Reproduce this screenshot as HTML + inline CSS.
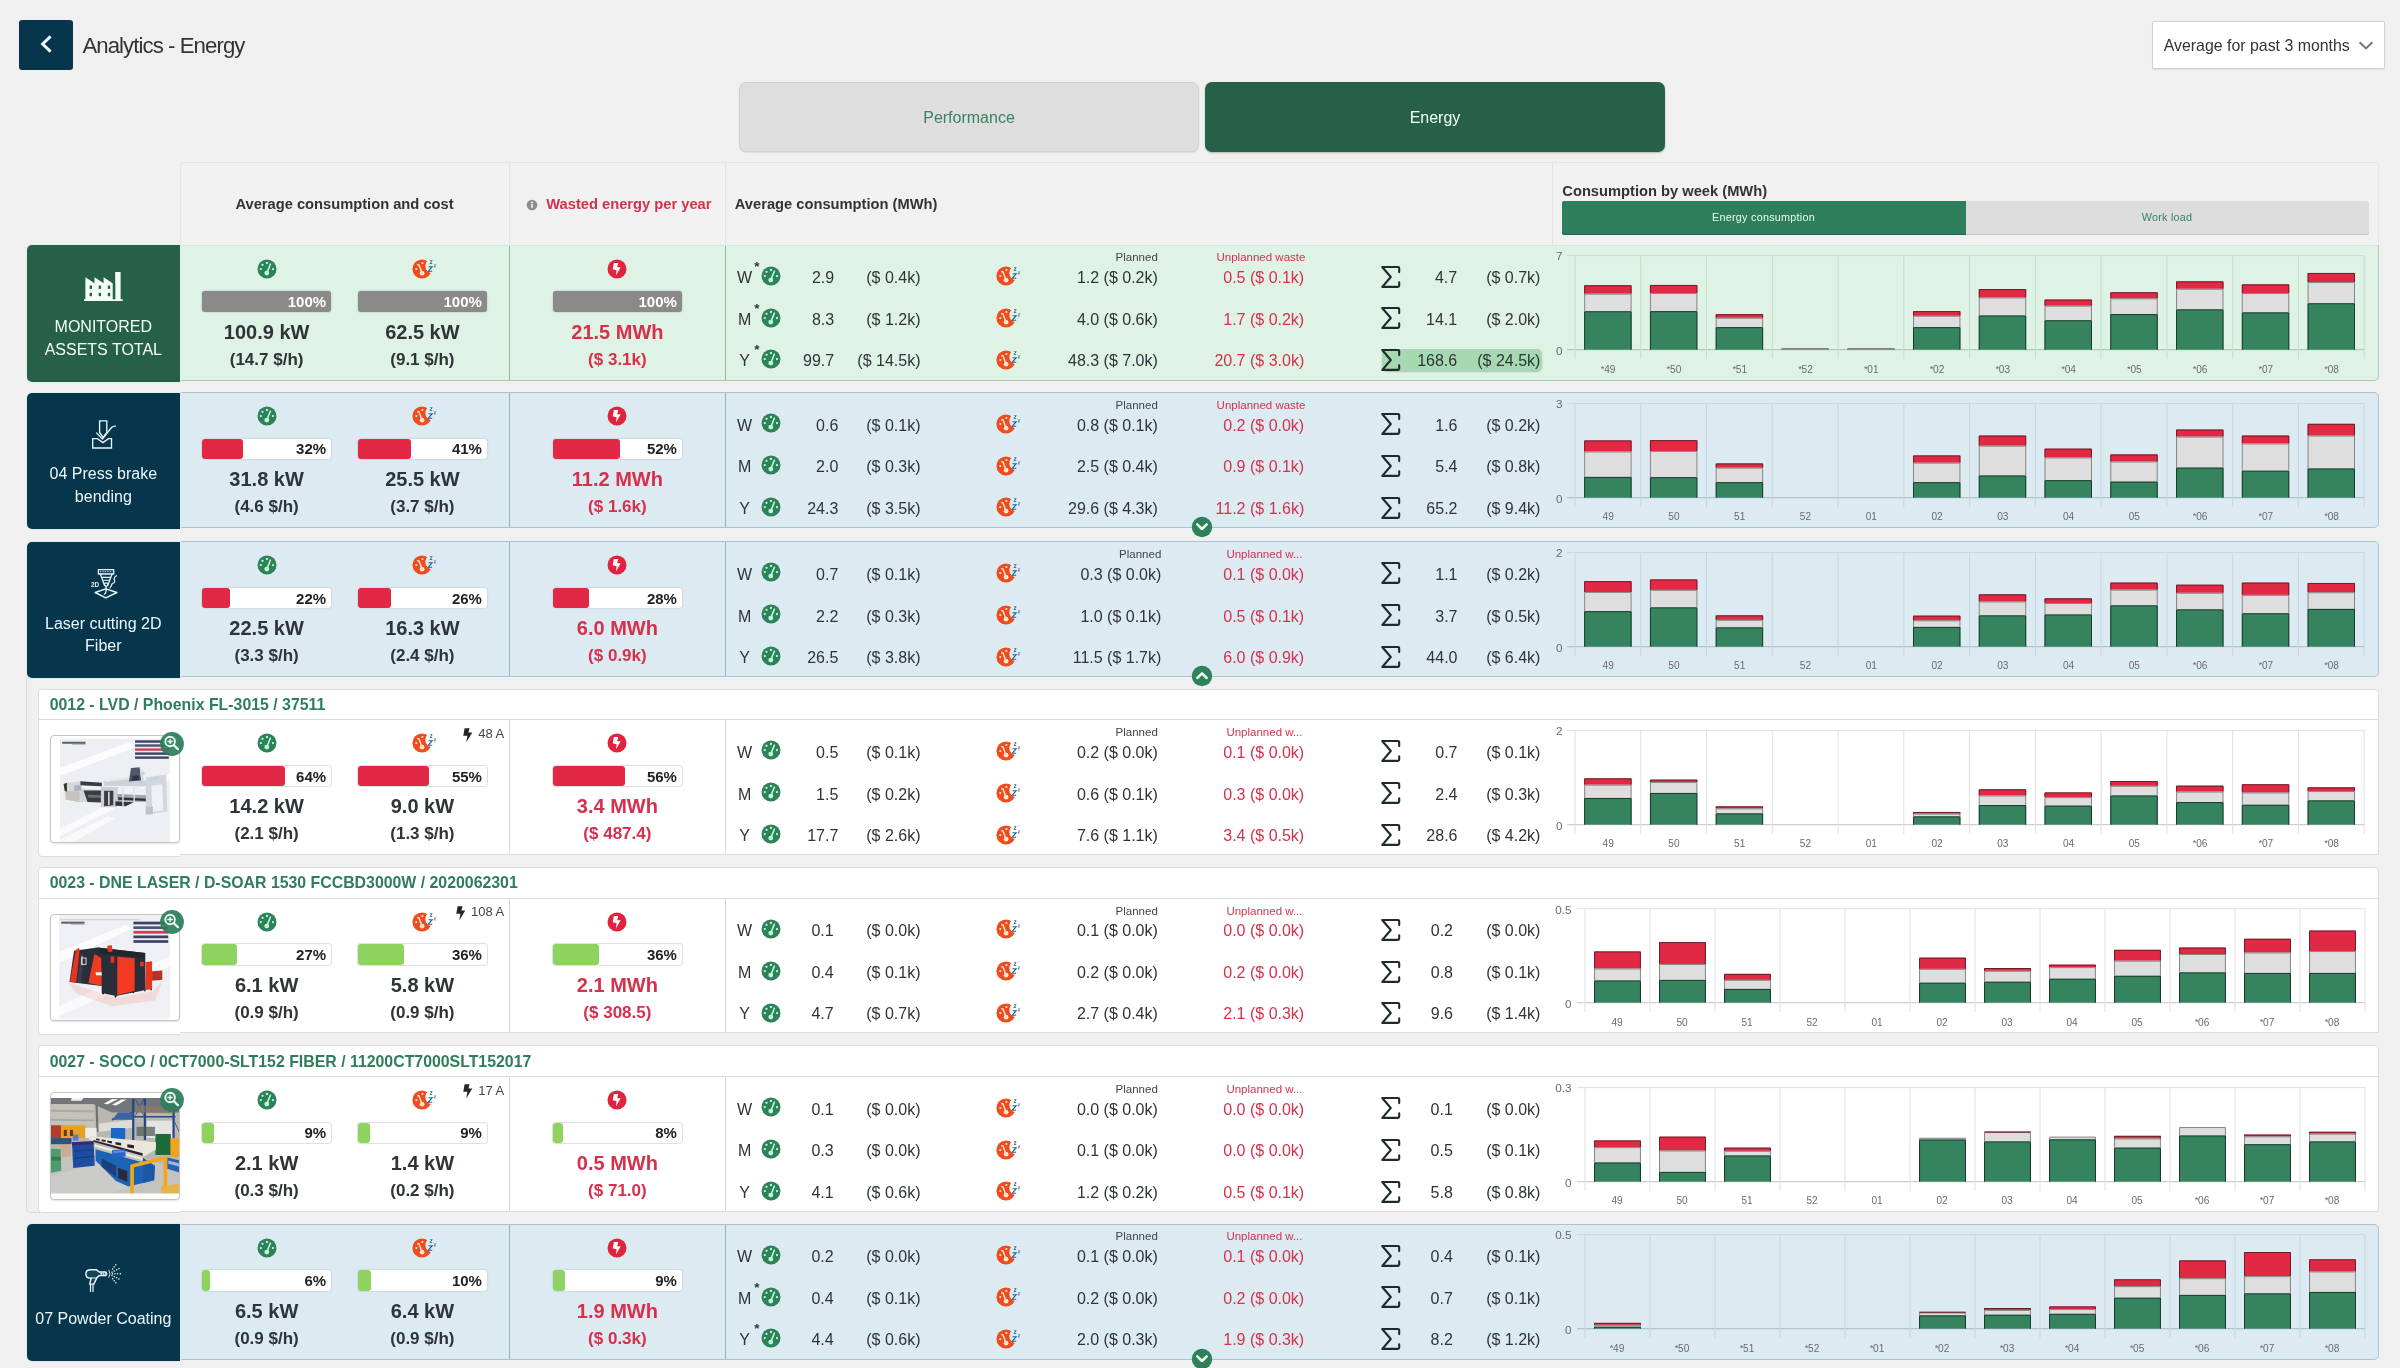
<!DOCTYPE html><html><head><meta charset="utf-8"><title>Analytics - Energy</title><style>html,body{margin:0;padding:0}body{width:2400px;height:1368px;overflow:hidden;background:#f0f0f0;font-family:"Liberation Sans", sans-serif;position:relative}.a{position:absolute}.t{position:absolute;white-space:nowrap}.st{font-size:9.5px;position:relative;top:-1px;margin-right:-0.3px}#w{position:absolute;left:0;top:0;width:2400px;height:1368px;will-change:transform;filter:blur(0.3px)}</style></head><body><div id="w">
<div class="a" style="left:19.40px;top:20.40px;width:53.70px;height:49.70px;background:#07364c;border-radius:3px;"></div>
<svg class="a" style="left:38px;top:32.4px" width="18" height="24" viewBox="0 0 18 24"><path d="M12.6 4.4 L4.6 12 L12.6 19.6" fill="none" stroke="#f2fbff" stroke-width="2.9" stroke-linecap="butt" stroke-linejoin="miter"/></svg>
<div class="t" style="top:35px;font-size:22.2px;line-height:22.2px;color:#333;letter-spacing:-0.93px;left:82.40px;">Analytics - Energy</div>
<div class="a" style="left:2152.00px;top:21.00px;width:233.00px;height:48.00px;background:#fff;border:1px solid #d2d2d2;border-radius:2px;box-sizing:border-box;box-shadow:0 0.5px 1px rgba(0,0,0,.08);"></div>
<div class="t" style="top:38px;font-size:15.9px;line-height:15.9px;color:#333;left:2163.70px;">Average for past 3 months</div>
<svg class="a" style="left:2357px;top:39px" width="18" height="12" viewBox="0 0 18 12"><path d="M2.6 3.2 L9 9.4 L15.4 3.2" fill="none" stroke="#777" stroke-width="2.1"/></svg>
<div class="a" style="left:739.00px;top:81.80px;width:460.30px;height:70.20px;background:#dedede;border:1px solid #cfcfcf;border-radius:7px;box-sizing:border-box;box-shadow:0 1px 1px rgba(0,0,0,.08);"></div>
<div class="t" style="top:110px;font-size:16px;line-height:16px;color:#3b8263;left:569.00px;width:800px;text-align:center;">Performance</div>
<div class="a" style="left:1205.00px;top:81.80px;width:460.30px;height:70.20px;background:#266048;border-radius:7px;box-shadow:0 1px 2px rgba(0,0,0,.25);"></div>
<div class="t" style="top:110px;font-size:16px;line-height:16px;color:#f4fff8;left:1035.00px;width:800px;text-align:center;">Energy</div>
<div class="a" style="left:180.30px;top:161.80px;width:2198.30px;height:83.00px;background:#f1f1f1;border:1px solid #e5e5e5;border-bottom:none;border-radius:4px 4px 0 0;box-sizing:border-box;"></div>
<div class="a" style="left:509.00px;top:162.50px;width:1.00px;height:82.00px;background:#e2e2e2;"></div>
<div class="a" style="left:725.00px;top:162.50px;width:1.00px;height:82.00px;background:#e2e2e2;"></div>
<div class="a" style="left:1552.00px;top:162.50px;width:1.00px;height:82.00px;background:#e2e2e2;"></div>
<div class="t" style="top:197px;font-size:14.7px;line-height:14.7px;color:#333;font-weight:700;left:-55.50px;width:800px;text-align:center;">Average consumption and cost</div>
<svg class="a" style="left:526px;top:199px" width="12" height="12" viewBox="-6 -6 12 12"><circle r="5.3" fill="#8c8c94"/><rect x="-0.75" y="-1" width="1.5" height="3.7" fill="#fff"/><circle cx="0" cy="-2.6" r="0.9" fill="#fff"/></svg>
<div class="t" style="top:197px;font-size:14.7px;line-height:14.7px;color:#d7304c;font-weight:700;left:546.30px;">Wasted energy per year</div>
<div class="t" style="top:197px;font-size:14.7px;line-height:14.7px;color:#333;font-weight:700;left:734.80px;">Average consumption (MWh)</div>
<div class="t" style="top:184px;font-size:14.7px;line-height:14.7px;color:#333;font-weight:700;left:1562.30px;">Consumption by week (MWh)</div>
<div class="a" style="left:1562.00px;top:201.20px;width:806.70px;height:33.30px;background:#dddddd;border-radius:2px;box-shadow:0 1px 0 #c6c6c6;"></div>
<div class="a" style="left:1562.00px;top:201.20px;width:404.00px;height:33.30px;background:#2e7d5b;border-radius:2px 0 0 2px;box-shadow:0 1px 0 #24664a;"></div>
<div class="t" style="top:212px;font-size:10.8px;line-height:10.8px;color:#e8fff2;letter-spacing:0.25px;left:1363.50px;width:800px;text-align:center;">Energy consumption</div>
<div class="t" style="top:212px;font-size:10.8px;line-height:10.8px;color:#3b8263;letter-spacing:0.25px;left:1767.00px;width:800px;text-align:center;">Work load</div>
<div class="a" style="left:179.50px;top:245.00px;width:2199.20px;height:136.00px;background:#dff2e6;border:1px solid #a9cab6;border-left:none;border-radius:0 5px 5px 0;box-sizing:border-box;border-top-color:#d3e9da;border-radius:0 0 5px 0;"></div>
<div class="a" style="left:509.00px;top:246.00px;width:1.00px;height:134.00px;background:#8fb59f;"></div>
<div class="a" style="left:725.00px;top:246.00px;width:1.00px;height:134.00px;background:#8fb59f;"></div>
<div class="a" style="left:26.60px;top:245.30px;width:153.40px;height:136.30px;background:#266048;border-radius:5px 0 0 5px;box-shadow:0 0 0 1px rgba(223,242,230,.9);"></div>
<div class="t" style="top:319px;font-size:16px;line-height:16px;color:#f1fff6;left:-296.70px;width:800px;text-align:center;">MONITORED</div>
<div class="t" style="top:342px;font-size:16px;line-height:16px;color:#f1fff6;left:-296.70px;width:800px;text-align:center;">ASSETS TOTAL</div>
<svg class="a" style="left:84.00px;top:271.60px" width="38.6" height="29.5" viewBox="0 0 386 295"><g fill="#f4fff8"><path d="M14 280 V52 L105 112 V52 L196 112 V52 L287 112 V280 Z"/><rect x="312" y="0" width="54" height="280"/><rect x="0" y="272" width="386" height="23"/></g><g fill="#266048"><rect x="56" y="135" width="24" height="34"/><rect x="147" y="135" width="24" height="34"/><rect x="238" y="135" width="24" height="34"/><rect x="56" y="208" width="24" height="34"/><rect x="147" y="208" width="24" height="34"/><rect x="238" y="208" width="24" height="34"/><rect x="296" y="112" width="16" height="160"/></g></svg>
<svg class="a" style="left:256.60px;top:258.70px" width="20" height="20" viewBox="-10 -10 20 20"><circle r="9.5" fill="#2f8159"/><g fill="#b9fbd9"><circle cx="-4.5" cy="-4.2" r="1.15"/><circle cx="-6.2" cy="0.1" r="1.15"/><circle cx="0" cy="-6" r="1.15"/><circle cx="6" cy="0.1" r="1.15"/><circle cx="-0.2" cy="4.1" r="2.45"/></g><path d="M-0.2 4.1 L3.4 -4.9" stroke="#b9fbd9" stroke-width="1.5" stroke-linecap="round"/></svg>
<div class="a" style="left:202.10px;top:291.30px;width:129.00px;height:20.30px;background:#8a8a8a;border-radius:3px;box-shadow:0 0 2px rgba(0,0,0,.25);"></div>
<div class="t" style="top:294px;font-size:15px;line-height:15px;color:#fff;font-weight:700;right:2073.90px;">100%</div>
<div class="t" style="top:322px;font-size:20px;line-height:20px;color:#2f3438;font-weight:700;left:-133.40px;width:800px;text-align:center;">100.9 kW</div>
<div class="t" style="top:351px;font-size:17px;line-height:17px;color:#2f3438;font-weight:700;left:-133.40px;width:800px;text-align:center;">(14.7 $/h)</div>
<svg class="a" style="left:411.80px;top:257.70px" width="26" height="22" viewBox="-10 -11 26 22"><defs><mask id="mz" maskUnits="userSpaceOnUse" x="-10" y="-11" width="26" height="22"><rect x="-10" y="-11" width="26" height="22" fill="#fff"/><circle cx="10.6" cy="-3" r="7.3" fill="#000"/></mask></defs><g mask="url(#mz)"><circle r="9.6" fill="#ef4b1c"/><g fill="#ffe3cf"><circle cx="0.4" cy="-6" r="1.1"/><circle cx="-5.7" cy="0.1" r="1.1"/><circle cx="-4" cy="-4.3" r="0.9"/><circle cx="0.1" cy="4.2" r="2.4"/></g><path d="M0.1 4.2 L-3.1 -4.3" stroke="#ffe3cf" stroke-width="1.5" stroke-linecap="round"/></g><g fill="none" stroke="#2a628a" stroke-linejoin="miter"><path d="M6.5 -2.3 H10.2 L6.3 2.2 H10.2" stroke-width="1.15"/><path d="M8.1 -8.3 H10.2 L8 -5.5 H10.2" stroke-width="0.85"/><path d="M12.2 -4.2 H13.8 L12.1 -2 H13.8" stroke-width="0.65"/></g></svg>
<div class="a" style="left:357.90px;top:291.30px;width:129.00px;height:20.30px;background:#8a8a8a;border-radius:3px;box-shadow:0 0 2px rgba(0,0,0,.25);"></div>
<div class="t" style="top:294px;font-size:15px;line-height:15px;color:#fff;font-weight:700;right:1918.10px;">100%</div>
<div class="t" style="top:322px;font-size:20px;line-height:20px;color:#2f3438;font-weight:700;left:22.40px;width:800px;text-align:center;">62.5 kW</div>
<div class="t" style="top:351px;font-size:17px;line-height:17px;color:#2f3438;font-weight:700;left:22.40px;width:800px;text-align:center;">(9.1 $/h)</div>
<svg class="a" style="left:607.40px;top:258.70px" width="20" height="20" viewBox="-10 -10 20 20"><circle r="9.5" fill="#e1233f"/><path d="M-3.1 -6 L1.2 -6 L0.2 -1.7 L3.7 -1.7 L-1.1 6.6 L-0.4 1.3 L-4.3 0.3 Z" fill="#fff"/></svg>
<div class="a" style="left:552.90px;top:291.30px;width:129.00px;height:20.30px;background:#8a8a8a;border-radius:3px;box-shadow:0 0 2px rgba(0,0,0,.25);"></div>
<div class="t" style="top:294px;font-size:15px;line-height:15px;color:#fff;font-weight:700;right:1723.10px;">100%</div>
<div class="t" style="top:322px;font-size:20px;line-height:20px;color:#d7304c;font-weight:700;left:217.40px;width:800px;text-align:center;">21.5 MWh</div>
<div class="t" style="top:351px;font-size:17px;line-height:17px;color:#d7304c;font-weight:700;left:217.40px;width:800px;text-align:center;">($ 3.1k)</div>
<div class="t" style="top:252px;font-size:11.5px;line-height:11.5px;color:#444;right:1242.20px;">Planned</div>
<div class="t" style="top:252px;font-size:11.5px;line-height:11.5px;color:#d7304c;left:1216.50px;">Unplanned waste</div>
<div class="t" style="top:270px;font-size:16px;line-height:16px;color:#2f3438;left:344.60px;width:800px;text-align:center;">W</div>
<div class="t" style="top:260px;font-size:13.5px;line-height:13.5px;color:#2f3438;font-weight:700;left:357.00px;width:800px;text-align:center;">*</div>
<svg class="a" style="left:761.20px;top:265.60px" width="20" height="20" viewBox="-10 -10 20 20"><circle r="9.5" fill="#2f8159"/><g fill="#b9fbd9"><circle cx="-4.5" cy="-4.2" r="1.15"/><circle cx="-6.2" cy="0.1" r="1.15"/><circle cx="0" cy="-6" r="1.15"/><circle cx="6" cy="0.1" r="1.15"/><circle cx="-0.2" cy="4.1" r="2.45"/></g><path d="M-0.2 4.1 L3.4 -4.9" stroke="#b9fbd9" stroke-width="1.5" stroke-linecap="round"/></svg>
<div class="t" style="top:270px;font-size:16px;line-height:16px;color:#2f3438;right:1565.80px;">2.9</div>
<div class="t" style="top:270px;font-size:16px;line-height:16px;color:#2f3438;right:1479.50px;">($ 0.4k)</div>
<svg class="a" style="left:996.30px;top:265.10px" width="26" height="22" viewBox="-10 -11 26 22"><defs><mask id="mz" maskUnits="userSpaceOnUse" x="-10" y="-11" width="26" height="22"><rect x="-10" y="-11" width="26" height="22" fill="#fff"/><circle cx="10.6" cy="-3" r="7.3" fill="#000"/></mask></defs><g mask="url(#mz)"><circle r="9.6" fill="#ef4b1c"/><g fill="#ffe3cf"><circle cx="0.4" cy="-6" r="1.1"/><circle cx="-5.7" cy="0.1" r="1.1"/><circle cx="-4" cy="-4.3" r="0.9"/><circle cx="0.1" cy="4.2" r="2.4"/></g><path d="M0.1 4.2 L-3.1 -4.3" stroke="#ffe3cf" stroke-width="1.5" stroke-linecap="round"/></g><g fill="none" stroke="#2a628a" stroke-linejoin="miter"><path d="M6.5 -2.3 H10.2 L6.3 2.2 H10.2" stroke-width="1.15"/><path d="M8.1 -8.3 H10.2 L8 -5.5 H10.2" stroke-width="0.85"/><path d="M12.2 -4.2 H13.8 L12.1 -2 H13.8" stroke-width="0.65"/></g></svg>
<div class="t" style="top:270px;font-size:16px;line-height:16px;color:#2f3438;right:1242.20px;">1.2 ($ 0.2k)</div>
<div class="t" style="top:270px;font-size:16px;line-height:16px;color:#d7304c;right:1095.80px;">0.5 ($ 0.1k)</div>
<svg class="a" style="left:1380.20px;top:264.50px" width="22" height="24" viewBox="-1 -1 22 24"><path d="M18.2 6.1 V2.4 Q18.2 1 16.8 1 H1.2 L9.8 11 L1.3 20.9 H16.8 Q18.2 20.9 18.2 19.5 V16.3" fill="none" stroke="#1f2a2e" stroke-width="2.1" stroke-linejoin="round" stroke-linecap="round"/></svg>
<div class="t" style="top:270px;font-size:16px;line-height:16px;color:#2f3438;right:942.80px;">4.7</div>
<div class="t" style="top:270px;font-size:16px;line-height:16px;color:#2f3438;right:859.60px;">($ 0.7k)</div>
<div class="t" style="top:312px;font-size:16px;line-height:16px;color:#2f3438;left:344.60px;width:800px;text-align:center;">M</div>
<div class="t" style="top:302px;font-size:13.5px;line-height:13.5px;color:#2f3438;font-weight:700;left:357.00px;width:800px;text-align:center;">*</div>
<svg class="a" style="left:761.20px;top:307.50px" width="20" height="20" viewBox="-10 -10 20 20"><circle r="9.5" fill="#2f8159"/><g fill="#b9fbd9"><circle cx="-4.5" cy="-4.2" r="1.15"/><circle cx="-6.2" cy="0.1" r="1.15"/><circle cx="0" cy="-6" r="1.15"/><circle cx="6" cy="0.1" r="1.15"/><circle cx="-0.2" cy="4.1" r="2.45"/></g><path d="M-0.2 4.1 L3.4 -4.9" stroke="#b9fbd9" stroke-width="1.5" stroke-linecap="round"/></svg>
<div class="t" style="top:312px;font-size:16px;line-height:16px;color:#2f3438;right:1565.80px;">8.3</div>
<div class="t" style="top:312px;font-size:16px;line-height:16px;color:#2f3438;right:1479.50px;">($ 1.2k)</div>
<svg class="a" style="left:996.30px;top:307.00px" width="26" height="22" viewBox="-10 -11 26 22"><defs><mask id="mz" maskUnits="userSpaceOnUse" x="-10" y="-11" width="26" height="22"><rect x="-10" y="-11" width="26" height="22" fill="#fff"/><circle cx="10.6" cy="-3" r="7.3" fill="#000"/></mask></defs><g mask="url(#mz)"><circle r="9.6" fill="#ef4b1c"/><g fill="#ffe3cf"><circle cx="0.4" cy="-6" r="1.1"/><circle cx="-5.7" cy="0.1" r="1.1"/><circle cx="-4" cy="-4.3" r="0.9"/><circle cx="0.1" cy="4.2" r="2.4"/></g><path d="M0.1 4.2 L-3.1 -4.3" stroke="#ffe3cf" stroke-width="1.5" stroke-linecap="round"/></g><g fill="none" stroke="#2a628a" stroke-linejoin="miter"><path d="M6.5 -2.3 H10.2 L6.3 2.2 H10.2" stroke-width="1.15"/><path d="M8.1 -8.3 H10.2 L8 -5.5 H10.2" stroke-width="0.85"/><path d="M12.2 -4.2 H13.8 L12.1 -2 H13.8" stroke-width="0.65"/></g></svg>
<div class="t" style="top:312px;font-size:16px;line-height:16px;color:#2f3438;right:1242.20px;">4.0 ($ 0.6k)</div>
<div class="t" style="top:312px;font-size:16px;line-height:16px;color:#d7304c;right:1095.80px;">1.7 ($ 0.2k)</div>
<svg class="a" style="left:1380.20px;top:306.40px" width="22" height="24" viewBox="-1 -1 22 24"><path d="M18.2 6.1 V2.4 Q18.2 1 16.8 1 H1.2 L9.8 11 L1.3 20.9 H16.8 Q18.2 20.9 18.2 19.5 V16.3" fill="none" stroke="#1f2a2e" stroke-width="2.1" stroke-linejoin="round" stroke-linecap="round"/></svg>
<div class="t" style="top:312px;font-size:16px;line-height:16px;color:#2f3438;right:942.80px;">14.1</div>
<div class="t" style="top:312px;font-size:16px;line-height:16px;color:#2f3438;right:859.60px;">($ 2.0k)</div>
<div class="t" style="top:353px;font-size:16px;line-height:16px;color:#2f3438;left:344.60px;width:800px;text-align:center;">Y</div>
<div class="t" style="top:343px;font-size:13.5px;line-height:13.5px;color:#2f3438;font-weight:700;left:357.00px;width:800px;text-align:center;">*</div>
<svg class="a" style="left:761.20px;top:349.40px" width="20" height="20" viewBox="-10 -10 20 20"><circle r="9.5" fill="#2f8159"/><g fill="#b9fbd9"><circle cx="-4.5" cy="-4.2" r="1.15"/><circle cx="-6.2" cy="0.1" r="1.15"/><circle cx="0" cy="-6" r="1.15"/><circle cx="6" cy="0.1" r="1.15"/><circle cx="-0.2" cy="4.1" r="2.45"/></g><path d="M-0.2 4.1 L3.4 -4.9" stroke="#b9fbd9" stroke-width="1.5" stroke-linecap="round"/></svg>
<div class="t" style="top:353px;font-size:16px;line-height:16px;color:#2f3438;right:1565.80px;">99.7</div>
<div class="t" style="top:353px;font-size:16px;line-height:16px;color:#2f3438;right:1479.50px;">($ 14.5k)</div>
<svg class="a" style="left:996.30px;top:348.90px" width="26" height="22" viewBox="-10 -11 26 22"><defs><mask id="mz" maskUnits="userSpaceOnUse" x="-10" y="-11" width="26" height="22"><rect x="-10" y="-11" width="26" height="22" fill="#fff"/><circle cx="10.6" cy="-3" r="7.3" fill="#000"/></mask></defs><g mask="url(#mz)"><circle r="9.6" fill="#ef4b1c"/><g fill="#ffe3cf"><circle cx="0.4" cy="-6" r="1.1"/><circle cx="-5.7" cy="0.1" r="1.1"/><circle cx="-4" cy="-4.3" r="0.9"/><circle cx="0.1" cy="4.2" r="2.4"/></g><path d="M0.1 4.2 L-3.1 -4.3" stroke="#ffe3cf" stroke-width="1.5" stroke-linecap="round"/></g><g fill="none" stroke="#2a628a" stroke-linejoin="miter"><path d="M6.5 -2.3 H10.2 L6.3 2.2 H10.2" stroke-width="1.15"/><path d="M8.1 -8.3 H10.2 L8 -5.5 H10.2" stroke-width="0.85"/><path d="M12.2 -4.2 H13.8 L12.1 -2 H13.8" stroke-width="0.65"/></g></svg>
<div class="t" style="top:353px;font-size:16px;line-height:16px;color:#2f3438;right:1242.20px;">48.3 ($ 7.0k)</div>
<div class="t" style="top:353px;font-size:16px;line-height:16px;color:#d7304c;right:1095.80px;">20.7 ($ 3.0k)</div>
<div class="a" style="left:1381.50px;top:349.00px;width:160.50px;height:22.00px;background:#a6d9b1;border-radius:5px;box-shadow:0 1px 1.5px rgba(0,0,0,.22);"></div>
<svg class="a" style="left:1380.20px;top:348.30px" width="22" height="24" viewBox="-1 -1 22 24"><path d="M18.2 6.1 V2.4 Q18.2 1 16.8 1 H1.2 L9.8 11 L1.3 20.9 H16.8 Q18.2 20.9 18.2 19.5 V16.3" fill="none" stroke="#1f2a2e" stroke-width="2.1" stroke-linejoin="round" stroke-linecap="round"/></svg>
<div class="t" style="top:353px;font-size:16px;line-height:16px;color:#2f3438;right:942.80px;">168.6</div>
<div class="t" style="top:353px;font-size:16px;line-height:16px;color:#2f3438;right:859.60px;">($ 24.5k)</div>
<div class="t" style="top:250px;font-size:11.7px;line-height:11.7px;color:#6b6b6b;right:837.60px;">7</div>
<div class="t" style="top:345px;font-size:11.7px;line-height:11.7px;color:#6b6b6b;right:837.60px;">0</div>
<svg class="a" style="left:1565.30px;top:245.30px" width="801.20" height="136" viewBox="1565.30 245.30 801.20 136" shape-rendering="auto"><path d="M1567.30 255.90 H2364.50" stroke="#c6dccd" stroke-width="1" fill="none"/><path d="M1567.30 350.00 H2364.50" stroke="#a6c0b0" stroke-width="1" fill="none"/><path d="M1575.30 255.90 V359.30M1641.07 255.90 V359.30M1706.83 255.90 V359.30M1772.60 255.90 V359.30M1838.37 255.90 V359.30M1904.13 255.90 V359.30M1969.90 255.90 V359.30M2035.67 255.90 V359.30M2101.43 255.90 V359.30M2167.20 255.90 V359.30M2232.97 255.90 V359.30M2298.73 255.90 V359.30M2364.50 255.90 V359.30" stroke="#c6dccd" stroke-width="1" fill="none"/><rect x="1584.51" y="311.60" width="47.35" height="38.40" fill="#35845f"/><rect x="1584.51" y="294.00" width="47.35" height="17.60" fill="#dedede"/><rect x="1584.51" y="285.60" width="47.35" height="8.40" fill="#e22944"/><path d="M1584.96 350.00 V312.05 H1631.41 V350.00" fill="none" stroke="#1a3a2d" stroke-width="1"/><path d="M1584.96 311.60 V294.45 H1631.41 V311.60" fill="none" stroke="#878787" stroke-width="1"/><path d="M1584.96 294.00 V286.05 H1631.41 V294.00" fill="none" stroke="#6b1e2a" stroke-width="1"/><rect x="1650.27" y="311.50" width="47.35" height="38.50" fill="#35845f"/><rect x="1650.27" y="293.30" width="47.35" height="18.20" fill="#dedede"/><rect x="1650.27" y="285.30" width="47.35" height="8.00" fill="#e22944"/><path d="M1650.72 350.00 V311.95 H1697.18 V350.00" fill="none" stroke="#1a3a2d" stroke-width="1"/><path d="M1650.72 311.50 V293.75 H1697.18 V311.50" fill="none" stroke="#878787" stroke-width="1"/><path d="M1650.72 293.30 V285.75 H1697.18 V293.30" fill="none" stroke="#6b1e2a" stroke-width="1"/><rect x="1716.04" y="327.50" width="47.35" height="22.50" fill="#35845f"/><rect x="1716.04" y="318.10" width="47.35" height="9.40" fill="#dedede"/><rect x="1716.04" y="314.50" width="47.35" height="3.60" fill="#e22944"/><path d="M1716.49 350.00 V327.95 H1762.94 V350.00" fill="none" stroke="#1a3a2d" stroke-width="1"/><path d="M1716.49 327.50 V318.55 H1762.94 V327.50" fill="none" stroke="#878787" stroke-width="1"/><path d="M1716.49 318.10 V314.95 H1762.94 V318.10" fill="none" stroke="#6b1e2a" stroke-width="1"/><rect x="1781.81" y="348.70" width="47.35" height="1.30" fill="#8a8a8a"/><path d="M1782.26 350.00 V349.15 H1828.71 V350.00" fill="none" stroke="#6e6e6e" stroke-width="1"/><rect x="1847.57" y="348.70" width="47.35" height="1.30" fill="#8a8a8a"/><path d="M1848.02 350.00 V349.15 H1894.48 V350.00" fill="none" stroke="#6e6e6e" stroke-width="1"/><rect x="1913.34" y="327.50" width="47.35" height="22.50" fill="#35845f"/><rect x="1913.34" y="316.10" width="47.35" height="11.40" fill="#dedede"/><rect x="1913.34" y="311.50" width="47.35" height="4.60" fill="#e22944"/><path d="M1913.79 350.00 V327.95 H1960.24 V350.00" fill="none" stroke="#1a3a2d" stroke-width="1"/><path d="M1913.79 327.50 V316.55 H1960.24 V327.50" fill="none" stroke="#878787" stroke-width="1"/><path d="M1913.79 316.10 V311.95 H1960.24 V316.10" fill="none" stroke="#6b1e2a" stroke-width="1"/><rect x="1979.11" y="315.80" width="47.35" height="34.20" fill="#35845f"/><rect x="1979.11" y="297.80" width="47.35" height="18.00" fill="#dedede"/><rect x="1979.11" y="289.40" width="47.35" height="8.40" fill="#e22944"/><path d="M1979.56 350.00 V316.25 H2026.01 V350.00" fill="none" stroke="#1a3a2d" stroke-width="1"/><path d="M1979.56 315.80 V298.25 H2026.01 V315.80" fill="none" stroke="#878787" stroke-width="1"/><path d="M1979.56 297.80 V289.85 H2026.01 V297.80" fill="none" stroke="#6b1e2a" stroke-width="1"/><rect x="2044.87" y="320.60" width="47.35" height="29.40" fill="#35845f"/><rect x="2044.87" y="306.00" width="47.35" height="14.60" fill="#dedede"/><rect x="2044.87" y="299.90" width="47.35" height="6.10" fill="#e22944"/><path d="M2045.32 350.00 V321.05 H2091.78 V350.00" fill="none" stroke="#1a3a2d" stroke-width="1"/><path d="M2045.32 320.60 V306.45 H2091.78 V320.60" fill="none" stroke="#878787" stroke-width="1"/><path d="M2045.32 306.00 V300.35 H2091.78 V306.00" fill="none" stroke="#6b1e2a" stroke-width="1"/><rect x="2110.64" y="314.40" width="47.35" height="35.60" fill="#35845f"/><rect x="2110.64" y="298.70" width="47.35" height="15.70" fill="#dedede"/><rect x="2110.64" y="292.60" width="47.35" height="6.10" fill="#e22944"/><path d="M2111.09 350.00 V314.85 H2157.54 V350.00" fill="none" stroke="#1a3a2d" stroke-width="1"/><path d="M2111.09 314.40 V299.15 H2157.54 V314.40" fill="none" stroke="#878787" stroke-width="1"/><path d="M2111.09 298.70 V293.05 H2157.54 V298.70" fill="none" stroke="#6b1e2a" stroke-width="1"/><rect x="2176.41" y="309.70" width="47.35" height="40.30" fill="#35845f"/><rect x="2176.41" y="289.10" width="47.35" height="20.60" fill="#dedede"/><rect x="2176.41" y="281.70" width="47.35" height="7.40" fill="#e22944"/><path d="M2176.86 350.00 V310.15 H2223.31 V350.00" fill="none" stroke="#1a3a2d" stroke-width="1"/><path d="M2176.86 309.70 V289.55 H2223.31 V309.70" fill="none" stroke="#878787" stroke-width="1"/><path d="M2176.86 289.10 V282.15 H2223.31 V289.10" fill="none" stroke="#6b1e2a" stroke-width="1"/><rect x="2242.17" y="312.70" width="47.35" height="37.30" fill="#35845f"/><rect x="2242.17" y="293.40" width="47.35" height="19.30" fill="#dedede"/><rect x="2242.17" y="284.70" width="47.35" height="8.70" fill="#e22944"/><path d="M2242.62 350.00 V313.15 H2289.08 V350.00" fill="none" stroke="#1a3a2d" stroke-width="1"/><path d="M2242.62 312.70 V293.85 H2289.08 V312.70" fill="none" stroke="#878787" stroke-width="1"/><path d="M2242.62 293.40 V285.15 H2289.08 V293.40" fill="none" stroke="#6b1e2a" stroke-width="1"/><rect x="2307.94" y="303.60" width="47.35" height="46.40" fill="#35845f"/><rect x="2307.94" y="282.40" width="47.35" height="21.20" fill="#dedede"/><rect x="2307.94" y="273.30" width="47.35" height="9.10" fill="#e22944"/><path d="M2308.39 350.00 V304.05 H2354.84 V350.00" fill="none" stroke="#1a3a2d" stroke-width="1"/><path d="M2308.39 303.60 V282.85 H2354.84 V303.60" fill="none" stroke="#878787" stroke-width="1"/><path d="M2308.39 282.40 V273.75 H2354.84 V282.40" fill="none" stroke="#6b1e2a" stroke-width="1"/></svg>
<div class="t" style="top:365px;font-size:10.1px;line-height:10.1px;color:#6b6b6b;left:1208.18px;width:800px;text-align:center;"><span class="st">*</span>49</div>
<div class="t" style="top:365px;font-size:10.1px;line-height:10.1px;color:#6b6b6b;left:1273.95px;width:800px;text-align:center;"><span class="st">*</span>50</div>
<div class="t" style="top:365px;font-size:10.1px;line-height:10.1px;color:#6b6b6b;left:1339.72px;width:800px;text-align:center;"><span class="st">*</span>51</div>
<div class="t" style="top:365px;font-size:10.1px;line-height:10.1px;color:#6b6b6b;left:1405.48px;width:800px;text-align:center;"><span class="st">*</span>52</div>
<div class="t" style="top:365px;font-size:10.1px;line-height:10.1px;color:#6b6b6b;left:1471.25px;width:800px;text-align:center;"><span class="st">*</span>01</div>
<div class="t" style="top:365px;font-size:10.1px;line-height:10.1px;color:#6b6b6b;left:1537.02px;width:800px;text-align:center;"><span class="st">*</span>02</div>
<div class="t" style="top:365px;font-size:10.1px;line-height:10.1px;color:#6b6b6b;left:1602.78px;width:800px;text-align:center;"><span class="st">*</span>03</div>
<div class="t" style="top:365px;font-size:10.1px;line-height:10.1px;color:#6b6b6b;left:1668.55px;width:800px;text-align:center;"><span class="st">*</span>04</div>
<div class="t" style="top:365px;font-size:10.1px;line-height:10.1px;color:#6b6b6b;left:1734.32px;width:800px;text-align:center;"><span class="st">*</span>05</div>
<div class="t" style="top:365px;font-size:10.1px;line-height:10.1px;color:#6b6b6b;left:1800.08px;width:800px;text-align:center;"><span class="st">*</span>06</div>
<div class="t" style="top:365px;font-size:10.1px;line-height:10.1px;color:#6b6b6b;left:1865.85px;width:800px;text-align:center;"><span class="st">*</span>07</div>
<div class="t" style="top:365px;font-size:10.1px;line-height:10.1px;color:#6b6b6b;left:1931.62px;width:800px;text-align:center;"><span class="st">*</span>08</div>
<div class="a" style="left:179.50px;top:392.00px;width:2199.20px;height:136.00px;background:#dceaf2;border:1px solid #aec3cf;border-left:none;border-radius:0 5px 5px 0;box-sizing:border-box;"></div>
<div class="a" style="left:509.00px;top:393.00px;width:1.00px;height:134.00px;background:#9fb4c1;"></div>
<div class="a" style="left:725.00px;top:393.00px;width:1.00px;height:134.00px;background:#9fb4c1;"></div>
<div class="a" style="left:26.60px;top:392.80px;width:153.40px;height:136.30px;background:#07364c;border-radius:5px 0 0 5px;box-shadow:0 0 0 1px rgba(220,234,242,.9);"></div>
<div class="t" style="top:466px;font-size:16px;line-height:16px;color:#ebf7fc;left:-296.70px;width:800px;text-align:center;">04 Press brake</div>
<div class="t" style="top:489px;font-size:16px;line-height:16px;color:#ebf7fc;left:-296.70px;width:800px;text-align:center;">bending</div>
<svg class="a" style="left:91.60px;top:420.10px" width="26" height="30" viewBox="0 0 26 30"><g fill="none" stroke="#e8f6fb" stroke-width="1.35" stroke-linejoin="miter"><path d="M7.6 0.8 H14.8 V12.5 L11.2 17.5 L7.6 12.5 Z"/><path d="M0.7 18.6 H5.4 L10.9 22.6 L16.4 18.6 H19.5 V28 H0.7 Z"/><path d="M4.3 12.6 L10.4 18.9 L19.3 7.8 Q21 5.9 23.9 6.2"/></g></svg>
<svg class="a" style="left:256.60px;top:406.20px" width="20" height="20" viewBox="-10 -10 20 20"><circle r="9.5" fill="#2f8159"/><g fill="#b9fbd9"><circle cx="-4.5" cy="-4.2" r="1.15"/><circle cx="-6.2" cy="0.1" r="1.15"/><circle cx="0" cy="-6" r="1.15"/><circle cx="6" cy="0.1" r="1.15"/><circle cx="-0.2" cy="4.1" r="2.45"/></g><path d="M-0.2 4.1 L3.4 -4.9" stroke="#b9fbd9" stroke-width="1.5" stroke-linecap="round"/></svg>
<div class="a" style="left:202.10px;top:438.80px;width:129.00px;height:20.30px;background:#fff;border-radius:3px;box-shadow:0 0 2px rgba(0,0,0,.22);"></div>
<div class="a" style="left:202.10px;top:438.80px;width:41.28px;height:20.30px;background:#e32845;border-radius:3px;"></div>
<div class="t" style="top:441px;font-size:15px;line-height:15px;color:#222;font-weight:700;right:2073.90px;">32%</div>
<div class="t" style="top:469px;font-size:20px;line-height:20px;color:#2f3438;font-weight:700;left:-133.40px;width:800px;text-align:center;">31.8 kW</div>
<div class="t" style="top:498px;font-size:17px;line-height:17px;color:#2f3438;font-weight:700;left:-133.40px;width:800px;text-align:center;">(4.6 $/h)</div>
<svg class="a" style="left:411.80px;top:405.20px" width="26" height="22" viewBox="-10 -11 26 22"><defs><mask id="mz" maskUnits="userSpaceOnUse" x="-10" y="-11" width="26" height="22"><rect x="-10" y="-11" width="26" height="22" fill="#fff"/><circle cx="10.6" cy="-3" r="7.3" fill="#000"/></mask></defs><g mask="url(#mz)"><circle r="9.6" fill="#ef4b1c"/><g fill="#ffe3cf"><circle cx="0.4" cy="-6" r="1.1"/><circle cx="-5.7" cy="0.1" r="1.1"/><circle cx="-4" cy="-4.3" r="0.9"/><circle cx="0.1" cy="4.2" r="2.4"/></g><path d="M0.1 4.2 L-3.1 -4.3" stroke="#ffe3cf" stroke-width="1.5" stroke-linecap="round"/></g><g fill="none" stroke="#2a628a" stroke-linejoin="miter"><path d="M6.5 -2.3 H10.2 L6.3 2.2 H10.2" stroke-width="1.15"/><path d="M8.1 -8.3 H10.2 L8 -5.5 H10.2" stroke-width="0.85"/><path d="M12.2 -4.2 H13.8 L12.1 -2 H13.8" stroke-width="0.65"/></g></svg>
<div class="a" style="left:357.90px;top:438.80px;width:129.00px;height:20.30px;background:#fff;border-radius:3px;box-shadow:0 0 2px rgba(0,0,0,.22);"></div>
<div class="a" style="left:357.90px;top:438.80px;width:52.89px;height:20.30px;background:#e32845;border-radius:3px;"></div>
<div class="t" style="top:441px;font-size:15px;line-height:15px;color:#222;font-weight:700;right:1918.10px;">41%</div>
<div class="t" style="top:469px;font-size:20px;line-height:20px;color:#2f3438;font-weight:700;left:22.40px;width:800px;text-align:center;">25.5 kW</div>
<div class="t" style="top:498px;font-size:17px;line-height:17px;color:#2f3438;font-weight:700;left:22.40px;width:800px;text-align:center;">(3.7 $/h)</div>
<svg class="a" style="left:607.40px;top:406.20px" width="20" height="20" viewBox="-10 -10 20 20"><circle r="9.5" fill="#e1233f"/><path d="M-3.1 -6 L1.2 -6 L0.2 -1.7 L3.7 -1.7 L-1.1 6.6 L-0.4 1.3 L-4.3 0.3 Z" fill="#fff"/></svg>
<div class="a" style="left:552.90px;top:438.80px;width:129.00px;height:20.30px;background:#fff;border-radius:3px;box-shadow:0 0 2px rgba(0,0,0,.22);"></div>
<div class="a" style="left:552.90px;top:438.80px;width:67.08px;height:20.30px;background:#e32845;border-radius:3px;"></div>
<div class="t" style="top:441px;font-size:15px;line-height:15px;color:#222;font-weight:700;right:1723.10px;">52%</div>
<div class="t" style="top:469px;font-size:20px;line-height:20px;color:#d7304c;font-weight:700;left:217.40px;width:800px;text-align:center;">11.2 MWh</div>
<div class="t" style="top:498px;font-size:17px;line-height:17px;color:#d7304c;font-weight:700;left:217.40px;width:800px;text-align:center;">($ 1.6k)</div>
<div class="t" style="top:400px;font-size:11.5px;line-height:11.5px;color:#444;right:1242.20px;">Planned</div>
<div class="t" style="top:400px;font-size:11.5px;line-height:11.5px;color:#d7304c;left:1216.60px;">Unplanned waste</div>
<div class="t" style="top:418px;font-size:16px;line-height:16px;color:#2f3438;left:344.60px;width:800px;text-align:center;">W</div>
<svg class="a" style="left:761.20px;top:413.10px" width="20" height="20" viewBox="-10 -10 20 20"><circle r="9.5" fill="#2f8159"/><g fill="#b9fbd9"><circle cx="-4.5" cy="-4.2" r="1.15"/><circle cx="-6.2" cy="0.1" r="1.15"/><circle cx="0" cy="-6" r="1.15"/><circle cx="6" cy="0.1" r="1.15"/><circle cx="-0.2" cy="4.1" r="2.45"/></g><path d="M-0.2 4.1 L3.4 -4.9" stroke="#b9fbd9" stroke-width="1.5" stroke-linecap="round"/></svg>
<div class="t" style="top:418px;font-size:16px;line-height:16px;color:#2f3438;right:1561.70px;">0.6</div>
<div class="t" style="top:418px;font-size:16px;line-height:16px;color:#2f3438;right:1479.50px;">($ 0.1k)</div>
<svg class="a" style="left:996.30px;top:412.60px" width="26" height="22" viewBox="-10 -11 26 22"><defs><mask id="mz" maskUnits="userSpaceOnUse" x="-10" y="-11" width="26" height="22"><rect x="-10" y="-11" width="26" height="22" fill="#fff"/><circle cx="10.6" cy="-3" r="7.3" fill="#000"/></mask></defs><g mask="url(#mz)"><circle r="9.6" fill="#ef4b1c"/><g fill="#ffe3cf"><circle cx="0.4" cy="-6" r="1.1"/><circle cx="-5.7" cy="0.1" r="1.1"/><circle cx="-4" cy="-4.3" r="0.9"/><circle cx="0.1" cy="4.2" r="2.4"/></g><path d="M0.1 4.2 L-3.1 -4.3" stroke="#ffe3cf" stroke-width="1.5" stroke-linecap="round"/></g><g fill="none" stroke="#2a628a" stroke-linejoin="miter"><path d="M6.5 -2.3 H10.2 L6.3 2.2 H10.2" stroke-width="1.15"/><path d="M8.1 -8.3 H10.2 L8 -5.5 H10.2" stroke-width="0.85"/><path d="M12.2 -4.2 H13.8 L12.1 -2 H13.8" stroke-width="0.65"/></g></svg>
<div class="t" style="top:418px;font-size:16px;line-height:16px;color:#2f3438;right:1242.20px;">0.8 ($ 0.1k)</div>
<div class="t" style="top:418px;font-size:16px;line-height:16px;color:#d7304c;right:1095.80px;">0.2 ($ 0.0k)</div>
<svg class="a" style="left:1380.20px;top:412.00px" width="22" height="24" viewBox="-1 -1 22 24"><path d="M18.2 6.1 V2.4 Q18.2 1 16.8 1 H1.2 L9.8 11 L1.3 20.9 H16.8 Q18.2 20.9 18.2 19.5 V16.3" fill="none" stroke="#1f2a2e" stroke-width="2.1" stroke-linejoin="round" stroke-linecap="round"/></svg>
<div class="t" style="top:418px;font-size:16px;line-height:16px;color:#2f3438;right:942.50px;">1.6</div>
<div class="t" style="top:418px;font-size:16px;line-height:16px;color:#2f3438;right:859.60px;">($ 0.2k)</div>
<div class="t" style="top:459px;font-size:16px;line-height:16px;color:#2f3438;left:344.60px;width:800px;text-align:center;">M</div>
<svg class="a" style="left:761.20px;top:455.00px" width="20" height="20" viewBox="-10 -10 20 20"><circle r="9.5" fill="#2f8159"/><g fill="#b9fbd9"><circle cx="-4.5" cy="-4.2" r="1.15"/><circle cx="-6.2" cy="0.1" r="1.15"/><circle cx="0" cy="-6" r="1.15"/><circle cx="6" cy="0.1" r="1.15"/><circle cx="-0.2" cy="4.1" r="2.45"/></g><path d="M-0.2 4.1 L3.4 -4.9" stroke="#b9fbd9" stroke-width="1.5" stroke-linecap="round"/></svg>
<div class="t" style="top:459px;font-size:16px;line-height:16px;color:#2f3438;right:1561.70px;">2.0</div>
<div class="t" style="top:459px;font-size:16px;line-height:16px;color:#2f3438;right:1479.50px;">($ 0.3k)</div>
<svg class="a" style="left:996.30px;top:454.50px" width="26" height="22" viewBox="-10 -11 26 22"><defs><mask id="mz" maskUnits="userSpaceOnUse" x="-10" y="-11" width="26" height="22"><rect x="-10" y="-11" width="26" height="22" fill="#fff"/><circle cx="10.6" cy="-3" r="7.3" fill="#000"/></mask></defs><g mask="url(#mz)"><circle r="9.6" fill="#ef4b1c"/><g fill="#ffe3cf"><circle cx="0.4" cy="-6" r="1.1"/><circle cx="-5.7" cy="0.1" r="1.1"/><circle cx="-4" cy="-4.3" r="0.9"/><circle cx="0.1" cy="4.2" r="2.4"/></g><path d="M0.1 4.2 L-3.1 -4.3" stroke="#ffe3cf" stroke-width="1.5" stroke-linecap="round"/></g><g fill="none" stroke="#2a628a" stroke-linejoin="miter"><path d="M6.5 -2.3 H10.2 L6.3 2.2 H10.2" stroke-width="1.15"/><path d="M8.1 -8.3 H10.2 L8 -5.5 H10.2" stroke-width="0.85"/><path d="M12.2 -4.2 H13.8 L12.1 -2 H13.8" stroke-width="0.65"/></g></svg>
<div class="t" style="top:459px;font-size:16px;line-height:16px;color:#2f3438;right:1242.20px;">2.5 ($ 0.4k)</div>
<div class="t" style="top:459px;font-size:16px;line-height:16px;color:#d7304c;right:1095.80px;">0.9 ($ 0.1k)</div>
<svg class="a" style="left:1380.20px;top:453.90px" width="22" height="24" viewBox="-1 -1 22 24"><path d="M18.2 6.1 V2.4 Q18.2 1 16.8 1 H1.2 L9.8 11 L1.3 20.9 H16.8 Q18.2 20.9 18.2 19.5 V16.3" fill="none" stroke="#1f2a2e" stroke-width="2.1" stroke-linejoin="round" stroke-linecap="round"/></svg>
<div class="t" style="top:459px;font-size:16px;line-height:16px;color:#2f3438;right:942.50px;">5.4</div>
<div class="t" style="top:459px;font-size:16px;line-height:16px;color:#2f3438;right:859.60px;">($ 0.8k)</div>
<div class="t" style="top:501px;font-size:16px;line-height:16px;color:#2f3438;left:344.60px;width:800px;text-align:center;">Y</div>
<svg class="a" style="left:761.20px;top:496.90px" width="20" height="20" viewBox="-10 -10 20 20"><circle r="9.5" fill="#2f8159"/><g fill="#b9fbd9"><circle cx="-4.5" cy="-4.2" r="1.15"/><circle cx="-6.2" cy="0.1" r="1.15"/><circle cx="0" cy="-6" r="1.15"/><circle cx="6" cy="0.1" r="1.15"/><circle cx="-0.2" cy="4.1" r="2.45"/></g><path d="M-0.2 4.1 L3.4 -4.9" stroke="#b9fbd9" stroke-width="1.5" stroke-linecap="round"/></svg>
<div class="t" style="top:501px;font-size:16px;line-height:16px;color:#2f3438;right:1561.70px;">24.3</div>
<div class="t" style="top:501px;font-size:16px;line-height:16px;color:#2f3438;right:1479.50px;">($ 3.5k)</div>
<svg class="a" style="left:996.30px;top:496.40px" width="26" height="22" viewBox="-10 -11 26 22"><defs><mask id="mz" maskUnits="userSpaceOnUse" x="-10" y="-11" width="26" height="22"><rect x="-10" y="-11" width="26" height="22" fill="#fff"/><circle cx="10.6" cy="-3" r="7.3" fill="#000"/></mask></defs><g mask="url(#mz)"><circle r="9.6" fill="#ef4b1c"/><g fill="#ffe3cf"><circle cx="0.4" cy="-6" r="1.1"/><circle cx="-5.7" cy="0.1" r="1.1"/><circle cx="-4" cy="-4.3" r="0.9"/><circle cx="0.1" cy="4.2" r="2.4"/></g><path d="M0.1 4.2 L-3.1 -4.3" stroke="#ffe3cf" stroke-width="1.5" stroke-linecap="round"/></g><g fill="none" stroke="#2a628a" stroke-linejoin="miter"><path d="M6.5 -2.3 H10.2 L6.3 2.2 H10.2" stroke-width="1.15"/><path d="M8.1 -8.3 H10.2 L8 -5.5 H10.2" stroke-width="0.85"/><path d="M12.2 -4.2 H13.8 L12.1 -2 H13.8" stroke-width="0.65"/></g></svg>
<div class="t" style="top:501px;font-size:16px;line-height:16px;color:#2f3438;right:1242.20px;">29.6 ($ 4.3k)</div>
<div class="t" style="top:501px;font-size:16px;line-height:16px;color:#d7304c;right:1095.80px;">11.2 ($ 1.6k)</div>
<svg class="a" style="left:1380.20px;top:495.80px" width="22" height="24" viewBox="-1 -1 22 24"><path d="M18.2 6.1 V2.4 Q18.2 1 16.8 1 H1.2 L9.8 11 L1.3 20.9 H16.8 Q18.2 20.9 18.2 19.5 V16.3" fill="none" stroke="#1f2a2e" stroke-width="2.1" stroke-linejoin="round" stroke-linecap="round"/></svg>
<div class="t" style="top:501px;font-size:16px;line-height:16px;color:#2f3438;right:942.50px;">65.2</div>
<div class="t" style="top:501px;font-size:16px;line-height:16px;color:#2f3438;right:859.60px;">($ 9.4k)</div>
<div class="t" style="top:398px;font-size:11.7px;line-height:11.7px;color:#6b6b6b;right:837.60px;">3</div>
<div class="t" style="top:493px;font-size:11.7px;line-height:11.7px;color:#6b6b6b;right:837.60px;">0</div>
<svg class="a" style="left:1565.30px;top:392.80px" width="801.20" height="136" viewBox="1565.30 392.80 801.20 136" shape-rendering="auto"><path d="M1567.30 403.40 H2364.50" stroke="#c9d6de" stroke-width="1" fill="none"/><path d="M1567.30 497.50 H2364.50" stroke="#a9bcc7" stroke-width="1" fill="none"/><path d="M1575.30 403.40 V506.80M1641.07 403.40 V506.80M1706.83 403.40 V506.80M1772.60 403.40 V506.80M1838.37 403.40 V506.80M1904.13 403.40 V506.80M1969.90 403.40 V506.80M2035.67 403.40 V506.80M2101.43 403.40 V506.80M2167.20 403.40 V506.80M2232.97 403.40 V506.80M2298.73 403.40 V506.80M2364.50 403.40 V506.80" stroke="#c9d6de" stroke-width="1" fill="none"/><rect x="1584.51" y="476.70" width="47.35" height="20.80" fill="#35845f"/><rect x="1584.51" y="451.30" width="47.35" height="25.40" fill="#dedede"/><rect x="1584.51" y="440.30" width="47.35" height="11.00" fill="#e22944"/><path d="M1584.96 497.50 V477.15 H1631.41 V497.50" fill="none" stroke="#1a3a2d" stroke-width="1"/><path d="M1584.96 476.70 V451.75 H1631.41 V476.70" fill="none" stroke="#878787" stroke-width="1"/><path d="M1584.96 451.30 V440.75 H1631.41 V451.30" fill="none" stroke="#6b1e2a" stroke-width="1"/><rect x="1650.27" y="477.00" width="47.35" height="20.50" fill="#35845f"/><rect x="1650.27" y="450.80" width="47.35" height="26.20" fill="#dedede"/><rect x="1650.27" y="440.00" width="47.35" height="10.80" fill="#e22944"/><path d="M1650.72 497.50 V477.45 H1697.18 V497.50" fill="none" stroke="#1a3a2d" stroke-width="1"/><path d="M1650.72 477.00 V451.25 H1697.18 V477.00" fill="none" stroke="#878787" stroke-width="1"/><path d="M1650.72 450.80 V440.45 H1697.18 V450.80" fill="none" stroke="#6b1e2a" stroke-width="1"/><rect x="1716.04" y="482.00" width="47.35" height="15.50" fill="#35845f"/><rect x="1716.04" y="467.50" width="47.35" height="14.50" fill="#dedede"/><rect x="1716.04" y="463.30" width="47.35" height="4.20" fill="#e22944"/><path d="M1716.49 497.50 V482.45 H1762.94 V497.50" fill="none" stroke="#1a3a2d" stroke-width="1"/><path d="M1716.49 482.00 V467.95 H1762.94 V482.00" fill="none" stroke="#878787" stroke-width="1"/><path d="M1716.49 467.50 V463.75 H1762.94 V467.50" fill="none" stroke="#6b1e2a" stroke-width="1"/><rect x="1913.34" y="482.00" width="47.35" height="15.50" fill="#35845f"/><rect x="1913.34" y="462.50" width="47.35" height="19.50" fill="#dedede"/><rect x="1913.34" y="455.30" width="47.35" height="7.20" fill="#e22944"/><path d="M1913.79 497.50 V482.45 H1960.24 V497.50" fill="none" stroke="#1a3a2d" stroke-width="1"/><path d="M1913.79 482.00 V462.95 H1960.24 V482.00" fill="none" stroke="#878787" stroke-width="1"/><path d="M1913.79 462.50 V455.75 H1960.24 V462.50" fill="none" stroke="#6b1e2a" stroke-width="1"/><rect x="1979.11" y="475.30" width="47.35" height="22.20" fill="#35845f"/><rect x="1979.11" y="445.50" width="47.35" height="29.80" fill="#dedede"/><rect x="1979.11" y="435.40" width="47.35" height="10.10" fill="#e22944"/><path d="M1979.56 497.50 V475.75 H2026.01 V497.50" fill="none" stroke="#1a3a2d" stroke-width="1"/><path d="M1979.56 475.30 V445.95 H2026.01 V475.30" fill="none" stroke="#878787" stroke-width="1"/><path d="M1979.56 445.50 V435.85 H2026.01 V445.50" fill="none" stroke="#6b1e2a" stroke-width="1"/><rect x="2044.87" y="480.00" width="47.35" height="17.50" fill="#35845f"/><rect x="2044.87" y="457.25" width="47.35" height="22.75" fill="#dedede"/><rect x="2044.87" y="448.50" width="47.35" height="8.75" fill="#e22944"/><path d="M2045.32 497.50 V480.45 H2091.78 V497.50" fill="none" stroke="#1a3a2d" stroke-width="1"/><path d="M2045.32 480.00 V457.70 H2091.78 V480.00" fill="none" stroke="#878787" stroke-width="1"/><path d="M2045.32 457.25 V448.95 H2091.78 V457.25" fill="none" stroke="#6b1e2a" stroke-width="1"/><rect x="2110.64" y="481.40" width="47.35" height="16.10" fill="#35845f"/><rect x="2110.64" y="461.30" width="47.35" height="20.10" fill="#dedede"/><rect x="2110.64" y="454.30" width="47.35" height="7.00" fill="#e22944"/><path d="M2111.09 497.50 V481.85 H2157.54 V497.50" fill="none" stroke="#1a3a2d" stroke-width="1"/><path d="M2111.09 481.40 V461.75 H2157.54 V481.40" fill="none" stroke="#878787" stroke-width="1"/><path d="M2111.09 461.30 V454.75 H2157.54 V461.30" fill="none" stroke="#6b1e2a" stroke-width="1"/><rect x="2176.41" y="467.40" width="47.35" height="30.10" fill="#35845f"/><rect x="2176.41" y="436.40" width="47.35" height="31.00" fill="#dedede"/><rect x="2176.41" y="429.40" width="47.35" height="7.00" fill="#e22944"/><path d="M2176.86 497.50 V467.85 H2223.31 V497.50" fill="none" stroke="#1a3a2d" stroke-width="1"/><path d="M2176.86 467.40 V436.85 H2223.31 V467.40" fill="none" stroke="#878787" stroke-width="1"/><path d="M2176.86 436.40 V429.85 H2223.31 V436.40" fill="none" stroke="#6b1e2a" stroke-width="1"/><rect x="2242.17" y="470.50" width="47.35" height="27.00" fill="#35845f"/><rect x="2242.17" y="443.25" width="47.35" height="27.25" fill="#dedede"/><rect x="2242.17" y="435.40" width="47.35" height="7.85" fill="#e22944"/><path d="M2242.62 497.50 V470.95 H2289.08 V497.50" fill="none" stroke="#1a3a2d" stroke-width="1"/><path d="M2242.62 470.50 V443.70 H2289.08 V470.50" fill="none" stroke="#878787" stroke-width="1"/><path d="M2242.62 443.25 V435.85 H2289.08 V443.25" fill="none" stroke="#6b1e2a" stroke-width="1"/><rect x="2307.94" y="468.30" width="47.35" height="29.20" fill="#35845f"/><rect x="2307.94" y="435.40" width="47.35" height="32.90" fill="#dedede"/><rect x="2307.94" y="423.65" width="47.35" height="11.75" fill="#e22944"/><path d="M2308.39 497.50 V468.75 H2354.84 V497.50" fill="none" stroke="#1a3a2d" stroke-width="1"/><path d="M2308.39 468.30 V435.85 H2354.84 V468.30" fill="none" stroke="#878787" stroke-width="1"/><path d="M2308.39 435.40 V424.10 H2354.84 V435.40" fill="none" stroke="#6b1e2a" stroke-width="1"/></svg>
<div class="t" style="top:512px;font-size:10.1px;line-height:10.1px;color:#6b6b6b;left:1208.18px;width:800px;text-align:center;">49</div>
<div class="t" style="top:512px;font-size:10.1px;line-height:10.1px;color:#6b6b6b;left:1273.95px;width:800px;text-align:center;">50</div>
<div class="t" style="top:512px;font-size:10.1px;line-height:10.1px;color:#6b6b6b;left:1339.72px;width:800px;text-align:center;">51</div>
<div class="t" style="top:512px;font-size:10.1px;line-height:10.1px;color:#6b6b6b;left:1405.48px;width:800px;text-align:center;">52</div>
<div class="t" style="top:512px;font-size:10.1px;line-height:10.1px;color:#6b6b6b;left:1471.25px;width:800px;text-align:center;">01</div>
<div class="t" style="top:512px;font-size:10.1px;line-height:10.1px;color:#6b6b6b;left:1537.02px;width:800px;text-align:center;">02</div>
<div class="t" style="top:512px;font-size:10.1px;line-height:10.1px;color:#6b6b6b;left:1602.78px;width:800px;text-align:center;">03</div>
<div class="t" style="top:512px;font-size:10.1px;line-height:10.1px;color:#6b6b6b;left:1668.55px;width:800px;text-align:center;">04</div>
<div class="t" style="top:512px;font-size:10.1px;line-height:10.1px;color:#6b6b6b;left:1734.32px;width:800px;text-align:center;">05</div>
<div class="t" style="top:512px;font-size:10.1px;line-height:10.1px;color:#6b6b6b;left:1800.08px;width:800px;text-align:center;"><span class="st">*</span>06</div>
<div class="t" style="top:512px;font-size:10.1px;line-height:10.1px;color:#6b6b6b;left:1865.85px;width:800px;text-align:center;"><span class="st">*</span>07</div>
<div class="t" style="top:512px;font-size:10.1px;line-height:10.1px;color:#6b6b6b;left:1931.62px;width:800px;text-align:center;"><span class="st">*</span>08</div>
<svg class="a" style="left:1191.20px;top:516.40px" width="22" height="22" viewBox="-11 -11 22 22"><circle r="10.2" fill="#2f8159"/><path d="M-4.7 -2.6 L0 2 L4.7 -2.6" fill="none" stroke="#e9fff3" stroke-width="2.5" stroke-linecap="round" stroke-linejoin="round"/></svg>
<div class="a" style="left:179.50px;top:541.00px;width:2199.20px;height:136.00px;background:#dceaf2;border:1px solid #aec3cf;border-left:none;border-radius:0 5px 5px 0;box-sizing:border-box;"></div>
<div class="a" style="left:509.00px;top:542.00px;width:1.00px;height:134.00px;background:#9fb4c1;"></div>
<div class="a" style="left:725.00px;top:542.00px;width:1.00px;height:134.00px;background:#9fb4c1;"></div>
<div class="a" style="left:26.60px;top:542.00px;width:153.40px;height:136.30px;background:#07364c;border-radius:5px 0 0 5px;box-shadow:0 0 0 1px rgba(220,234,242,.9);"></div>
<div class="t" style="top:616px;font-size:16px;line-height:16px;color:#ebf7fc;left:-296.70px;width:800px;text-align:center;">Laser cutting 2D</div>
<div class="t" style="top:638px;font-size:16px;line-height:16px;color:#ebf7fc;left:-296.70px;width:800px;text-align:center;">Fiber</div>
<svg class="a" style="left:90.00px;top:568.00px" width="29" height="32" viewBox="90 568 29 32"><g fill="none" stroke="#e8f6fb" stroke-width="1.3" stroke-linejoin="round" stroke-linecap="round"><rect x="98.4" y="569.7" width="15.3" height="4.3"/><path d="M100 571.7 H112.2" stroke-dasharray="0.9 0.8" stroke-width="1" stroke-linecap="butt"/><path d="M100.5 574.2 L104.5 585.2 M112 574.2 L107.8 585.2"/><path d="M102.6 577.4 H110.2 M103.6 580.2 H109.2" stroke-width="1.1"/><circle cx="106.1" cy="584.5" r="1.7"/><path d="M106.1 586.3 V590.6 Q106.2 593 104.3 594.2"/><path d="M95.2 592.5 L105.8 588.9 L116.9 592.5 L105.8 597.8 Z" stroke-width="1.4"/><path d="M116.4 575.7 Q113.3 577.6 114.5 580.3 Q115.4 582.7 112.2 583.5 Q111.5 586.2 109.9 587.8" stroke-width="1.2"/></g><text x="90.9" y="587" font-family="Liberation Sans, sans-serif" font-weight="700" font-size="6.3" fill="#e8f6fb">2D</text></svg>
<svg class="a" style="left:256.60px;top:555.40px" width="20" height="20" viewBox="-10 -10 20 20"><circle r="9.5" fill="#2f8159"/><g fill="#b9fbd9"><circle cx="-4.5" cy="-4.2" r="1.15"/><circle cx="-6.2" cy="0.1" r="1.15"/><circle cx="0" cy="-6" r="1.15"/><circle cx="6" cy="0.1" r="1.15"/><circle cx="-0.2" cy="4.1" r="2.45"/></g><path d="M-0.2 4.1 L3.4 -4.9" stroke="#b9fbd9" stroke-width="1.5" stroke-linecap="round"/></svg>
<div class="a" style="left:202.10px;top:588.00px;width:129.00px;height:20.30px;background:#fff;border-radius:3px;box-shadow:0 0 2px rgba(0,0,0,.22);"></div>
<div class="a" style="left:202.10px;top:588.00px;width:28.38px;height:20.30px;background:#e32845;border-radius:3px;"></div>
<div class="t" style="top:591px;font-size:15px;line-height:15px;color:#222;font-weight:700;right:2073.90px;">22%</div>
<div class="t" style="top:618px;font-size:20px;line-height:20px;color:#2f3438;font-weight:700;left:-133.40px;width:800px;text-align:center;">22.5 kW</div>
<div class="t" style="top:647px;font-size:17px;line-height:17px;color:#2f3438;font-weight:700;left:-133.40px;width:800px;text-align:center;">(3.3 $/h)</div>
<svg class="a" style="left:411.80px;top:554.40px" width="26" height="22" viewBox="-10 -11 26 22"><defs><mask id="mz" maskUnits="userSpaceOnUse" x="-10" y="-11" width="26" height="22"><rect x="-10" y="-11" width="26" height="22" fill="#fff"/><circle cx="10.6" cy="-3" r="7.3" fill="#000"/></mask></defs><g mask="url(#mz)"><circle r="9.6" fill="#ef4b1c"/><g fill="#ffe3cf"><circle cx="0.4" cy="-6" r="1.1"/><circle cx="-5.7" cy="0.1" r="1.1"/><circle cx="-4" cy="-4.3" r="0.9"/><circle cx="0.1" cy="4.2" r="2.4"/></g><path d="M0.1 4.2 L-3.1 -4.3" stroke="#ffe3cf" stroke-width="1.5" stroke-linecap="round"/></g><g fill="none" stroke="#2a628a" stroke-linejoin="miter"><path d="M6.5 -2.3 H10.2 L6.3 2.2 H10.2" stroke-width="1.15"/><path d="M8.1 -8.3 H10.2 L8 -5.5 H10.2" stroke-width="0.85"/><path d="M12.2 -4.2 H13.8 L12.1 -2 H13.8" stroke-width="0.65"/></g></svg>
<div class="a" style="left:357.90px;top:588.00px;width:129.00px;height:20.30px;background:#fff;border-radius:3px;box-shadow:0 0 2px rgba(0,0,0,.22);"></div>
<div class="a" style="left:357.90px;top:588.00px;width:33.54px;height:20.30px;background:#e32845;border-radius:3px;"></div>
<div class="t" style="top:591px;font-size:15px;line-height:15px;color:#222;font-weight:700;right:1918.10px;">26%</div>
<div class="t" style="top:618px;font-size:20px;line-height:20px;color:#2f3438;font-weight:700;left:22.40px;width:800px;text-align:center;">16.3 kW</div>
<div class="t" style="top:647px;font-size:17px;line-height:17px;color:#2f3438;font-weight:700;left:22.40px;width:800px;text-align:center;">(2.4 $/h)</div>
<svg class="a" style="left:607.40px;top:555.40px" width="20" height="20" viewBox="-10 -10 20 20"><circle r="9.5" fill="#e1233f"/><path d="M-3.1 -6 L1.2 -6 L0.2 -1.7 L3.7 -1.7 L-1.1 6.6 L-0.4 1.3 L-4.3 0.3 Z" fill="#fff"/></svg>
<div class="a" style="left:552.90px;top:588.00px;width:129.00px;height:20.30px;background:#fff;border-radius:3px;box-shadow:0 0 2px rgba(0,0,0,.22);"></div>
<div class="a" style="left:552.90px;top:588.00px;width:36.12px;height:20.30px;background:#e32845;border-radius:3px;"></div>
<div class="t" style="top:591px;font-size:15px;line-height:15px;color:#222;font-weight:700;right:1723.10px;">28%</div>
<div class="t" style="top:618px;font-size:20px;line-height:20px;color:#d7304c;font-weight:700;left:217.40px;width:800px;text-align:center;">6.0 MWh</div>
<div class="t" style="top:647px;font-size:17px;line-height:17px;color:#d7304c;font-weight:700;left:217.40px;width:800px;text-align:center;">($ 0.9k)</div>
<div class="t" style="top:549px;font-size:11.5px;line-height:11.5px;color:#444;right:1238.70px;">Planned</div>
<div class="t" style="top:549px;font-size:11.5px;line-height:11.5px;color:#d7304c;left:1226.40px;">Unplanned w...</div>
<div class="t" style="top:567px;font-size:16px;line-height:16px;color:#2f3438;left:344.60px;width:800px;text-align:center;">W</div>
<svg class="a" style="left:761.20px;top:562.30px" width="20" height="20" viewBox="-10 -10 20 20"><circle r="9.5" fill="#2f8159"/><g fill="#b9fbd9"><circle cx="-4.5" cy="-4.2" r="1.15"/><circle cx="-6.2" cy="0.1" r="1.15"/><circle cx="0" cy="-6" r="1.15"/><circle cx="6" cy="0.1" r="1.15"/><circle cx="-0.2" cy="4.1" r="2.45"/></g><path d="M-0.2 4.1 L3.4 -4.9" stroke="#b9fbd9" stroke-width="1.5" stroke-linecap="round"/></svg>
<div class="t" style="top:567px;font-size:16px;line-height:16px;color:#2f3438;right:1561.70px;">0.7</div>
<div class="t" style="top:567px;font-size:16px;line-height:16px;color:#2f3438;right:1479.50px;">($ 0.1k)</div>
<svg class="a" style="left:996.30px;top:561.80px" width="26" height="22" viewBox="-10 -11 26 22"><defs><mask id="mz" maskUnits="userSpaceOnUse" x="-10" y="-11" width="26" height="22"><rect x="-10" y="-11" width="26" height="22" fill="#fff"/><circle cx="10.6" cy="-3" r="7.3" fill="#000"/></mask></defs><g mask="url(#mz)"><circle r="9.6" fill="#ef4b1c"/><g fill="#ffe3cf"><circle cx="0.4" cy="-6" r="1.1"/><circle cx="-5.7" cy="0.1" r="1.1"/><circle cx="-4" cy="-4.3" r="0.9"/><circle cx="0.1" cy="4.2" r="2.4"/></g><path d="M0.1 4.2 L-3.1 -4.3" stroke="#ffe3cf" stroke-width="1.5" stroke-linecap="round"/></g><g fill="none" stroke="#2a628a" stroke-linejoin="miter"><path d="M6.5 -2.3 H10.2 L6.3 2.2 H10.2" stroke-width="1.15"/><path d="M8.1 -8.3 H10.2 L8 -5.5 H10.2" stroke-width="0.85"/><path d="M12.2 -4.2 H13.8 L12.1 -2 H13.8" stroke-width="0.65"/></g></svg>
<div class="t" style="top:567px;font-size:16px;line-height:16px;color:#2f3438;right:1238.70px;">0.3 ($ 0.0k)</div>
<div class="t" style="top:567px;font-size:16px;line-height:16px;color:#d7304c;right:1095.80px;">0.1 ($ 0.0k)</div>
<svg class="a" style="left:1380.20px;top:561.20px" width="22" height="24" viewBox="-1 -1 22 24"><path d="M18.2 6.1 V2.4 Q18.2 1 16.8 1 H1.2 L9.8 11 L1.3 20.9 H16.8 Q18.2 20.9 18.2 19.5 V16.3" fill="none" stroke="#1f2a2e" stroke-width="2.1" stroke-linejoin="round" stroke-linecap="round"/></svg>
<div class="t" style="top:567px;font-size:16px;line-height:16px;color:#2f3438;right:942.50px;">1.1</div>
<div class="t" style="top:567px;font-size:16px;line-height:16px;color:#2f3438;right:859.60px;">($ 0.2k)</div>
<div class="t" style="top:609px;font-size:16px;line-height:16px;color:#2f3438;left:344.60px;width:800px;text-align:center;">M</div>
<svg class="a" style="left:761.20px;top:604.20px" width="20" height="20" viewBox="-10 -10 20 20"><circle r="9.5" fill="#2f8159"/><g fill="#b9fbd9"><circle cx="-4.5" cy="-4.2" r="1.15"/><circle cx="-6.2" cy="0.1" r="1.15"/><circle cx="0" cy="-6" r="1.15"/><circle cx="6" cy="0.1" r="1.15"/><circle cx="-0.2" cy="4.1" r="2.45"/></g><path d="M-0.2 4.1 L3.4 -4.9" stroke="#b9fbd9" stroke-width="1.5" stroke-linecap="round"/></svg>
<div class="t" style="top:609px;font-size:16px;line-height:16px;color:#2f3438;right:1561.70px;">2.2</div>
<div class="t" style="top:609px;font-size:16px;line-height:16px;color:#2f3438;right:1479.50px;">($ 0.3k)</div>
<svg class="a" style="left:996.30px;top:603.70px" width="26" height="22" viewBox="-10 -11 26 22"><defs><mask id="mz" maskUnits="userSpaceOnUse" x="-10" y="-11" width="26" height="22"><rect x="-10" y="-11" width="26" height="22" fill="#fff"/><circle cx="10.6" cy="-3" r="7.3" fill="#000"/></mask></defs><g mask="url(#mz)"><circle r="9.6" fill="#ef4b1c"/><g fill="#ffe3cf"><circle cx="0.4" cy="-6" r="1.1"/><circle cx="-5.7" cy="0.1" r="1.1"/><circle cx="-4" cy="-4.3" r="0.9"/><circle cx="0.1" cy="4.2" r="2.4"/></g><path d="M0.1 4.2 L-3.1 -4.3" stroke="#ffe3cf" stroke-width="1.5" stroke-linecap="round"/></g><g fill="none" stroke="#2a628a" stroke-linejoin="miter"><path d="M6.5 -2.3 H10.2 L6.3 2.2 H10.2" stroke-width="1.15"/><path d="M8.1 -8.3 H10.2 L8 -5.5 H10.2" stroke-width="0.85"/><path d="M12.2 -4.2 H13.8 L12.1 -2 H13.8" stroke-width="0.65"/></g></svg>
<div class="t" style="top:609px;font-size:16px;line-height:16px;color:#2f3438;right:1238.70px;">1.0 ($ 0.1k)</div>
<div class="t" style="top:609px;font-size:16px;line-height:16px;color:#d7304c;right:1095.80px;">0.5 ($ 0.1k)</div>
<svg class="a" style="left:1380.20px;top:603.10px" width="22" height="24" viewBox="-1 -1 22 24"><path d="M18.2 6.1 V2.4 Q18.2 1 16.8 1 H1.2 L9.8 11 L1.3 20.9 H16.8 Q18.2 20.9 18.2 19.5 V16.3" fill="none" stroke="#1f2a2e" stroke-width="2.1" stroke-linejoin="round" stroke-linecap="round"/></svg>
<div class="t" style="top:609px;font-size:16px;line-height:16px;color:#2f3438;right:942.50px;">3.7</div>
<div class="t" style="top:609px;font-size:16px;line-height:16px;color:#2f3438;right:859.60px;">($ 0.5k)</div>
<div class="t" style="top:650px;font-size:16px;line-height:16px;color:#2f3438;left:344.60px;width:800px;text-align:center;">Y</div>
<svg class="a" style="left:761.20px;top:646.10px" width="20" height="20" viewBox="-10 -10 20 20"><circle r="9.5" fill="#2f8159"/><g fill="#b9fbd9"><circle cx="-4.5" cy="-4.2" r="1.15"/><circle cx="-6.2" cy="0.1" r="1.15"/><circle cx="0" cy="-6" r="1.15"/><circle cx="6" cy="0.1" r="1.15"/><circle cx="-0.2" cy="4.1" r="2.45"/></g><path d="M-0.2 4.1 L3.4 -4.9" stroke="#b9fbd9" stroke-width="1.5" stroke-linecap="round"/></svg>
<div class="t" style="top:650px;font-size:16px;line-height:16px;color:#2f3438;right:1561.70px;">26.5</div>
<div class="t" style="top:650px;font-size:16px;line-height:16px;color:#2f3438;right:1479.50px;">($ 3.8k)</div>
<svg class="a" style="left:996.30px;top:645.60px" width="26" height="22" viewBox="-10 -11 26 22"><defs><mask id="mz" maskUnits="userSpaceOnUse" x="-10" y="-11" width="26" height="22"><rect x="-10" y="-11" width="26" height="22" fill="#fff"/><circle cx="10.6" cy="-3" r="7.3" fill="#000"/></mask></defs><g mask="url(#mz)"><circle r="9.6" fill="#ef4b1c"/><g fill="#ffe3cf"><circle cx="0.4" cy="-6" r="1.1"/><circle cx="-5.7" cy="0.1" r="1.1"/><circle cx="-4" cy="-4.3" r="0.9"/><circle cx="0.1" cy="4.2" r="2.4"/></g><path d="M0.1 4.2 L-3.1 -4.3" stroke="#ffe3cf" stroke-width="1.5" stroke-linecap="round"/></g><g fill="none" stroke="#2a628a" stroke-linejoin="miter"><path d="M6.5 -2.3 H10.2 L6.3 2.2 H10.2" stroke-width="1.15"/><path d="M8.1 -8.3 H10.2 L8 -5.5 H10.2" stroke-width="0.85"/><path d="M12.2 -4.2 H13.8 L12.1 -2 H13.8" stroke-width="0.65"/></g></svg>
<div class="t" style="top:650px;font-size:16px;line-height:16px;color:#2f3438;right:1238.70px;">11.5 ($ 1.7k)</div>
<div class="t" style="top:650px;font-size:16px;line-height:16px;color:#d7304c;right:1095.80px;">6.0 ($ 0.9k)</div>
<svg class="a" style="left:1380.20px;top:645.00px" width="22" height="24" viewBox="-1 -1 22 24"><path d="M18.2 6.1 V2.4 Q18.2 1 16.8 1 H1.2 L9.8 11 L1.3 20.9 H16.8 Q18.2 20.9 18.2 19.5 V16.3" fill="none" stroke="#1f2a2e" stroke-width="2.1" stroke-linejoin="round" stroke-linecap="round"/></svg>
<div class="t" style="top:650px;font-size:16px;line-height:16px;color:#2f3438;right:942.50px;">44.0</div>
<div class="t" style="top:650px;font-size:16px;line-height:16px;color:#2f3438;right:859.60px;">($ 6.4k)</div>
<div class="t" style="top:547px;font-size:11.7px;line-height:11.7px;color:#6b6b6b;right:837.60px;">2</div>
<div class="t" style="top:642px;font-size:11.7px;line-height:11.7px;color:#6b6b6b;right:837.60px;">0</div>
<svg class="a" style="left:1565.30px;top:542.00px" width="801.20" height="136" viewBox="1565.30 542.00 801.20 136" shape-rendering="auto"><path d="M1567.30 552.60 H2364.50" stroke="#c9d6de" stroke-width="1" fill="none"/><path d="M1567.30 646.70 H2364.50" stroke="#a9bcc7" stroke-width="1" fill="none"/><path d="M1575.30 552.60 V656.00M1641.07 552.60 V656.00M1706.83 552.60 V656.00M1772.60 552.60 V656.00M1838.37 552.60 V656.00M1904.13 552.60 V656.00M1969.90 552.60 V656.00M2035.67 552.60 V656.00M2101.43 552.60 V656.00M2167.20 552.60 V656.00M2232.97 552.60 V656.00M2298.73 552.60 V656.00M2364.50 552.60 V656.00" stroke="#c9d6de" stroke-width="1" fill="none"/><rect x="1584.51" y="611.20" width="47.35" height="35.50" fill="#35845f"/><rect x="1584.51" y="592.00" width="47.35" height="19.20" fill="#dedede"/><rect x="1584.51" y="581.20" width="47.35" height="10.80" fill="#e22944"/><path d="M1584.96 646.70 V611.65 H1631.41 V646.70" fill="none" stroke="#1a3a2d" stroke-width="1"/><path d="M1584.96 611.20 V592.45 H1631.41 V611.20" fill="none" stroke="#878787" stroke-width="1"/><path d="M1584.96 592.00 V581.65 H1631.41 V592.00" fill="none" stroke="#6b1e2a" stroke-width="1"/><rect x="1650.27" y="607.40" width="47.35" height="39.30" fill="#35845f"/><rect x="1650.27" y="589.90" width="47.35" height="17.50" fill="#dedede"/><rect x="1650.27" y="579.50" width="47.35" height="10.40" fill="#e22944"/><path d="M1650.72 646.70 V607.85 H1697.18 V646.70" fill="none" stroke="#1a3a2d" stroke-width="1"/><path d="M1650.72 607.40 V590.35 H1697.18 V607.40" fill="none" stroke="#878787" stroke-width="1"/><path d="M1650.72 589.90 V579.95 H1697.18 V589.90" fill="none" stroke="#6b1e2a" stroke-width="1"/><rect x="1716.04" y="627.40" width="47.35" height="19.30" fill="#35845f"/><rect x="1716.04" y="619.90" width="47.35" height="7.50" fill="#dedede"/><rect x="1716.04" y="615.40" width="47.35" height="4.50" fill="#e22944"/><path d="M1716.49 646.70 V627.85 H1762.94 V646.70" fill="none" stroke="#1a3a2d" stroke-width="1"/><path d="M1716.49 627.40 V620.35 H1762.94 V627.40" fill="none" stroke="#878787" stroke-width="1"/><path d="M1716.49 619.90 V615.85 H1762.94 V619.90" fill="none" stroke="#6b1e2a" stroke-width="1"/><rect x="1913.34" y="626.90" width="47.35" height="19.80" fill="#35845f"/><rect x="1913.34" y="620.40" width="47.35" height="6.50" fill="#dedede"/><rect x="1913.34" y="615.70" width="47.35" height="4.70" fill="#e22944"/><path d="M1913.79 646.70 V627.35 H1960.24 V646.70" fill="none" stroke="#1a3a2d" stroke-width="1"/><path d="M1913.79 626.90 V620.85 H1960.24 V626.90" fill="none" stroke="#878787" stroke-width="1"/><path d="M1913.79 620.40 V616.15 H1960.24 V620.40" fill="none" stroke="#6b1e2a" stroke-width="1"/><rect x="1979.11" y="615.40" width="47.35" height="31.30" fill="#35845f"/><rect x="1979.11" y="601.50" width="47.35" height="13.90" fill="#dedede"/><rect x="1979.11" y="594.40" width="47.35" height="7.10" fill="#e22944"/><path d="M1979.56 646.70 V615.85 H2026.01 V646.70" fill="none" stroke="#1a3a2d" stroke-width="1"/><path d="M1979.56 615.40 V601.95 H2026.01 V615.40" fill="none" stroke="#878787" stroke-width="1"/><path d="M1979.56 601.50 V594.85 H2026.01 V601.50" fill="none" stroke="#6b1e2a" stroke-width="1"/><rect x="2044.87" y="614.50" width="47.35" height="32.20" fill="#35845f"/><rect x="2044.87" y="603.10" width="47.35" height="11.40" fill="#dedede"/><rect x="2044.87" y="598.40" width="47.35" height="4.70" fill="#e22944"/><path d="M2045.32 646.70 V614.95 H2091.78 V646.70" fill="none" stroke="#1a3a2d" stroke-width="1"/><path d="M2045.32 614.50 V603.55 H2091.78 V614.50" fill="none" stroke="#878787" stroke-width="1"/><path d="M2045.32 603.10 V598.85 H2091.78 V603.10" fill="none" stroke="#6b1e2a" stroke-width="1"/><rect x="2110.64" y="605.40" width="47.35" height="41.30" fill="#35845f"/><rect x="2110.64" y="589.65" width="47.35" height="15.75" fill="#dedede"/><rect x="2110.64" y="582.65" width="47.35" height="7.00" fill="#e22944"/><path d="M2111.09 646.70 V605.85 H2157.54 V646.70" fill="none" stroke="#1a3a2d" stroke-width="1"/><path d="M2111.09 605.40 V590.10 H2157.54 V605.40" fill="none" stroke="#878787" stroke-width="1"/><path d="M2111.09 589.65 V583.10 H2157.54 V589.65" fill="none" stroke="#6b1e2a" stroke-width="1"/><rect x="2176.41" y="609.40" width="47.35" height="37.30" fill="#35845f"/><rect x="2176.41" y="592.80" width="47.35" height="16.60" fill="#dedede"/><rect x="2176.41" y="584.75" width="47.35" height="8.05" fill="#e22944"/><path d="M2176.86 646.70 V609.85 H2223.31 V646.70" fill="none" stroke="#1a3a2d" stroke-width="1"/><path d="M2176.86 609.40 V593.25 H2223.31 V609.40" fill="none" stroke="#878787" stroke-width="1"/><path d="M2176.86 592.80 V585.20 H2223.31 V592.80" fill="none" stroke="#6b1e2a" stroke-width="1"/><rect x="2242.17" y="613.30" width="47.35" height="33.40" fill="#35845f"/><rect x="2242.17" y="594.90" width="47.35" height="18.40" fill="#dedede"/><rect x="2242.17" y="582.65" width="47.35" height="12.25" fill="#e22944"/><path d="M2242.62 646.70 V613.75 H2289.08 V646.70" fill="none" stroke="#1a3a2d" stroke-width="1"/><path d="M2242.62 613.30 V595.35 H2289.08 V613.30" fill="none" stroke="#878787" stroke-width="1"/><path d="M2242.62 594.90 V583.10 H2289.08 V594.90" fill="none" stroke="#6b1e2a" stroke-width="1"/><rect x="2307.94" y="608.90" width="47.35" height="37.80" fill="#35845f"/><rect x="2307.94" y="592.30" width="47.35" height="16.60" fill="#dedede"/><rect x="2307.94" y="583.00" width="47.35" height="9.30" fill="#e22944"/><path d="M2308.39 646.70 V609.35 H2354.84 V646.70" fill="none" stroke="#1a3a2d" stroke-width="1"/><path d="M2308.39 608.90 V592.75 H2354.84 V608.90" fill="none" stroke="#878787" stroke-width="1"/><path d="M2308.39 592.30 V583.45 H2354.84 V592.30" fill="none" stroke="#6b1e2a" stroke-width="1"/></svg>
<div class="t" style="top:661px;font-size:10.1px;line-height:10.1px;color:#6b6b6b;left:1208.18px;width:800px;text-align:center;">49</div>
<div class="t" style="top:661px;font-size:10.1px;line-height:10.1px;color:#6b6b6b;left:1273.95px;width:800px;text-align:center;">50</div>
<div class="t" style="top:661px;font-size:10.1px;line-height:10.1px;color:#6b6b6b;left:1339.72px;width:800px;text-align:center;">51</div>
<div class="t" style="top:661px;font-size:10.1px;line-height:10.1px;color:#6b6b6b;left:1405.48px;width:800px;text-align:center;">52</div>
<div class="t" style="top:661px;font-size:10.1px;line-height:10.1px;color:#6b6b6b;left:1471.25px;width:800px;text-align:center;">01</div>
<div class="t" style="top:661px;font-size:10.1px;line-height:10.1px;color:#6b6b6b;left:1537.02px;width:800px;text-align:center;">02</div>
<div class="t" style="top:661px;font-size:10.1px;line-height:10.1px;color:#6b6b6b;left:1602.78px;width:800px;text-align:center;">03</div>
<div class="t" style="top:661px;font-size:10.1px;line-height:10.1px;color:#6b6b6b;left:1668.55px;width:800px;text-align:center;">04</div>
<div class="t" style="top:661px;font-size:10.1px;line-height:10.1px;color:#6b6b6b;left:1734.32px;width:800px;text-align:center;">05</div>
<div class="t" style="top:661px;font-size:10.1px;line-height:10.1px;color:#6b6b6b;left:1800.08px;width:800px;text-align:center;"><span class="st">*</span>06</div>
<div class="t" style="top:661px;font-size:10.1px;line-height:10.1px;color:#6b6b6b;left:1865.85px;width:800px;text-align:center;"><span class="st">*</span>07</div>
<div class="t" style="top:661px;font-size:10.1px;line-height:10.1px;color:#6b6b6b;left:1931.62px;width:800px;text-align:center;"><span class="st">*</span>08</div>
<svg class="a" style="left:1191.20px;top:665.40px" width="22" height="22" viewBox="-11 -11 22 22"><circle r="10.2" fill="#2f8159"/><path d="M-4.7 2 L0 -2.6 L4.7 2" fill="none" stroke="#e9fff3" stroke-width="2.5" stroke-linecap="round" stroke-linejoin="round"/></svg>
<div class="a" style="left:26.00px;top:676.00px;width:14.00px;height:536.50px;border-left:1px solid #dadada;border-bottom:1px solid #dadada;border-radius:0 0 0 5px;box-sizing:border-box;"></div>
<div class="a" style="left:37.50px;top:688.50px;width:2341.00px;height:168.00px;background:#fff;border:1px solid #dcdcdc;border-radius:4px;box-sizing:border-box;"></div>
<div class="a" style="left:38.50px;top:719.10px;width:2339.00px;height:1.00px;background:#dcdcdc;"></div>
<div class="a" style="left:180.00px;top:854.90px;width:2198.50px;height:2.20px;background:#f0f0f0;"></div>
<div class="a" style="left:180.00px;top:854.00px;width:2198.00px;height:1.00px;background:#dcdcdc;"></div>
<div class="t" style="top:697px;font-size:15.86px;line-height:15.86px;color:#2e7d5b;font-weight:700;left:49.70px;">0012 - LVD / Phoenix FL-3015 / 37511</div>
<div class="a" style="left:509.00px;top:720.00px;width:1.00px;height:134.20px;background:#d6d6d6;"></div>
<div class="a" style="left:725.00px;top:720.00px;width:1.00px;height:134.20px;background:#d6d6d6;"></div>
<div class="a" style="left:49.70px;top:735.20px;width:130.20px;height:107.50px;background:#fff;border:1px solid #c4c4c4;border-radius:4px;box-sizing:border-box;box-shadow:0 1px 2px rgba(0,0,0,.12);"></div>
<svg class="a" style="left:50.7px;top:736.20px" width="128" height="105.5" viewBox="202 158 1253 1027" preserveAspectRatio="none"><defs><filter id="f1" x="-5%" y="-5%" width="110%" height="110%"><feGaussianBlur stdDeviation="4.5"/></filter><clipPath id="cf1"><rect x="290" y="185" width="1075" height="1005"/></clipPath></defs><g clip-path="url(#cf1)"><g filter="url(#f1)"><rect x="240" y="140" width="1175" height="1100" fill="#eeeff3"/><polygon points="240,490 980,215 1020,270 240,565" fill="#fcfcfe"/><polygon points="240,1085 1415,495 1415,565 240,1160" fill="#fbfbfd" opacity=".85"/><polygon points="240,1190 760,940 830,960 420,1190 240,1240" fill="#fbfbfd" opacity=".8"/><rect x="312" y="214" width="228" height="20" fill="#3d3d48" opacity=".8"/><rect x="410" y="236" width="130" height="8" fill="#8a8a92" opacity=".6"/><rect x="1025" y="200.0" width="330" height="23.5" fill="#3a4262"/><rect x="1025" y="239.2" width="330" height="23.5" fill="#4a5478"/><rect x="1025" y="278.4" width="330" height="23.5" fill="#d63a52"/><rect x="1025" y="317.6" width="330" height="23.5" fill="#3a4262"/><rect x="1025" y="356.8" width="330" height="23.5" fill="#3f4668"/><polygon points="345,612 490,600 700,615 700,800 470,800 345,775" fill="#d6d6d4"/><polygon points="345,690 480,700 480,800 345,775" fill="#c4c3bd"/><polygon points="490,598 700,612 700,648 490,638" fill="#3a3b41"/><polygon points="490,642 700,652 700,682 490,672" fill="#f2f3f5"/><polygon points="520,688 695,688 695,805 560,800" fill="#3a3b42"/><polygon points="560,730 690,735 690,760 570,756" fill="#6d6f77"/><polygon points="325,625 358,612 358,700 335,690" fill="#35373e"/><polygon points="430,640 500,636 500,690 430,694" fill="#9aa7c0" opacity=".8"/><polygon points="720,590 960,560 1200,612 1190,650 880,642 720,642" fill="#ccd1d7"/><polygon points="720,590 960,560 980,575 735,606" fill="#e9ecef"/><polygon points="690,655 860,655 852,852 690,852" fill="#cfd1d5"/><polygon points="722,692 812,692 812,832 722,842" fill="#3c3e45"/><rect x="760" y="700" width="16" height="130" fill="#d7d9dd"/><polygon points="855,660 1150,668 1150,730 855,720" fill="#eef0f2"/><polygon points="852,722 1150,735 1150,800 852,792" fill="#a3a5ab"/><polygon points="860,755 1150,768 1150,790 860,778" fill="#2e3036"/><polygon points="832,792 1012,802 932,842 832,836" fill="#34353b"/><rect x="900" y="640" width="14" height="200" fill="#dfe1e4"/><rect x="1010" y="640" width="14" height="170" fill="#dfe1e4"/><polygon points="985,470 1070,462 1085,592 965,602" fill="#505a69"/><polygon points="1000,545 1060,540 1066,585 990,592" fill="#2f3643"/><polygon points="1070,462 1102,520 1112,590 1085,592" fill="#d6d9de"/><circle cx="1105" cy="520" r="13" fill="#c9ccd2"/><polygon points="1130,562 1330,532 1340,892 1250,906 1130,922" fill="#d3d6da"/><polygon points="1185,642 1292,627 1302,882 1192,897" fill="#eef0f3"/><polygon points="1150,570 1260,556 1260,585 1150,600" fill="#b9d3ea" opacity=".8"/><polygon points="1130,850 1200,842 1200,920 1130,922" fill="#bfc2c7"/></g></g></svg>
<svg class="a" style="left:159.80px;top:731.50px" width="24" height="24" viewBox="-12 -12 24 24"><circle r="11.9" fill="#2e7d5b" fill-opacity="0.93"/><g fill="none" stroke="#e6fff2" stroke-linecap="round"><circle cx="-1.9" cy="-2.5" r="4.8" stroke-width="1.9"/><path d="M1.9 1.2 L5.9 5.1" stroke-width="2.3"/><path d="M-1.9 -4.6 V-0.4 M-4 -2.5 H0.2" stroke-width="1.5"/></g></svg>
<svg class="a" style="left:463.17px;top:727.60px" width="10" height="15" viewBox="0 0 10 15"><path d="M1.6 0.3 H6.6 L5.4 4.6 H9.3 L3.2 14.6 L4.4 7.7 H0.3 Z" fill="#262626"/></svg>
<div class="t" style="top:727px;font-size:13px;line-height:13px;color:#444;right:1895.80px;">48 A</div>
<svg class="a" style="left:256.60px;top:733.40px" width="20" height="20" viewBox="-10 -10 20 20"><circle r="9.5" fill="#2f8159"/><g fill="#b9fbd9"><circle cx="-4.5" cy="-4.2" r="1.15"/><circle cx="-6.2" cy="0.1" r="1.15"/><circle cx="0" cy="-6" r="1.15"/><circle cx="6" cy="0.1" r="1.15"/><circle cx="-0.2" cy="4.1" r="2.45"/></g><path d="M-0.2 4.1 L3.4 -4.9" stroke="#b9fbd9" stroke-width="1.5" stroke-linecap="round"/></svg>
<div class="a" style="left:202.10px;top:766.00px;width:129.00px;height:20.30px;background:#fff;border-radius:3px;box-shadow:0 0 0 1px rgba(0,0,0,.09),0 0 2px rgba(0,0,0,.12);"></div>
<div class="a" style="left:202.10px;top:766.00px;width:82.56px;height:20.30px;background:#e32845;border-radius:3px;"></div>
<div class="t" style="top:769px;font-size:15px;line-height:15px;color:#222;font-weight:700;right:2073.90px;">64%</div>
<div class="t" style="top:796px;font-size:20px;line-height:20px;color:#2f3438;font-weight:700;left:-133.40px;width:800px;text-align:center;">14.2 kW</div>
<div class="t" style="top:825px;font-size:17px;line-height:17px;color:#2f3438;font-weight:700;left:-133.40px;width:800px;text-align:center;">(2.1 $/h)</div>
<svg class="a" style="left:411.80px;top:732.40px" width="26" height="22" viewBox="-10 -11 26 22"><defs><mask id="mz" maskUnits="userSpaceOnUse" x="-10" y="-11" width="26" height="22"><rect x="-10" y="-11" width="26" height="22" fill="#fff"/><circle cx="10.6" cy="-3" r="7.3" fill="#000"/></mask></defs><g mask="url(#mz)"><circle r="9.6" fill="#ef4b1c"/><g fill="#ffe3cf"><circle cx="0.4" cy="-6" r="1.1"/><circle cx="-5.7" cy="0.1" r="1.1"/><circle cx="-4" cy="-4.3" r="0.9"/><circle cx="0.1" cy="4.2" r="2.4"/></g><path d="M0.1 4.2 L-3.1 -4.3" stroke="#ffe3cf" stroke-width="1.5" stroke-linecap="round"/></g><g fill="none" stroke="#2a628a" stroke-linejoin="miter"><path d="M6.5 -2.3 H10.2 L6.3 2.2 H10.2" stroke-width="1.15"/><path d="M8.1 -8.3 H10.2 L8 -5.5 H10.2" stroke-width="0.85"/><path d="M12.2 -4.2 H13.8 L12.1 -2 H13.8" stroke-width="0.65"/></g></svg>
<div class="a" style="left:357.90px;top:766.00px;width:129.00px;height:20.30px;background:#fff;border-radius:3px;box-shadow:0 0 0 1px rgba(0,0,0,.09),0 0 2px rgba(0,0,0,.12);"></div>
<div class="a" style="left:357.90px;top:766.00px;width:70.95px;height:20.30px;background:#e32845;border-radius:3px;"></div>
<div class="t" style="top:769px;font-size:15px;line-height:15px;color:#222;font-weight:700;right:1918.10px;">55%</div>
<div class="t" style="top:796px;font-size:20px;line-height:20px;color:#2f3438;font-weight:700;left:22.40px;width:800px;text-align:center;">9.0 kW</div>
<div class="t" style="top:825px;font-size:17px;line-height:17px;color:#2f3438;font-weight:700;left:22.40px;width:800px;text-align:center;">(1.3 $/h)</div>
<svg class="a" style="left:607.40px;top:733.40px" width="20" height="20" viewBox="-10 -10 20 20"><circle r="9.5" fill="#e1233f"/><path d="M-3.1 -6 L1.2 -6 L0.2 -1.7 L3.7 -1.7 L-1.1 6.6 L-0.4 1.3 L-4.3 0.3 Z" fill="#fff"/></svg>
<div class="a" style="left:552.90px;top:766.00px;width:129.00px;height:20.30px;background:#fff;border-radius:3px;box-shadow:0 0 0 1px rgba(0,0,0,.09),0 0 2px rgba(0,0,0,.12);"></div>
<div class="a" style="left:552.90px;top:766.00px;width:72.24px;height:20.30px;background:#e32845;border-radius:3px;"></div>
<div class="t" style="top:769px;font-size:15px;line-height:15px;color:#222;font-weight:700;right:1723.10px;">56%</div>
<div class="t" style="top:796px;font-size:20px;line-height:20px;color:#d7304c;font-weight:700;left:217.40px;width:800px;text-align:center;">3.4 MWh</div>
<div class="t" style="top:825px;font-size:17px;line-height:17px;color:#d7304c;font-weight:700;left:217.40px;width:800px;text-align:center;">($ 487.4)</div>
<div class="t" style="top:727px;font-size:11.5px;line-height:11.5px;color:#444;right:1242.20px;">Planned</div>
<div class="t" style="top:727px;font-size:11.5px;line-height:11.5px;color:#d7304c;left:1226.40px;">Unplanned w...</div>
<div class="t" style="top:745px;font-size:16px;line-height:16px;color:#2f3438;left:344.60px;width:800px;text-align:center;">W</div>
<svg class="a" style="left:761.20px;top:740.30px" width="20" height="20" viewBox="-10 -10 20 20"><circle r="9.5" fill="#2f8159"/><g fill="#b9fbd9"><circle cx="-4.5" cy="-4.2" r="1.15"/><circle cx="-6.2" cy="0.1" r="1.15"/><circle cx="0" cy="-6" r="1.15"/><circle cx="6" cy="0.1" r="1.15"/><circle cx="-0.2" cy="4.1" r="2.45"/></g><path d="M-0.2 4.1 L3.4 -4.9" stroke="#b9fbd9" stroke-width="1.5" stroke-linecap="round"/></svg>
<div class="t" style="top:745px;font-size:16px;line-height:16px;color:#2f3438;right:1561.70px;">0.5</div>
<div class="t" style="top:745px;font-size:16px;line-height:16px;color:#2f3438;right:1479.50px;">($ 0.1k)</div>
<svg class="a" style="left:996.30px;top:739.80px" width="26" height="22" viewBox="-10 -11 26 22"><defs><mask id="mz" maskUnits="userSpaceOnUse" x="-10" y="-11" width="26" height="22"><rect x="-10" y="-11" width="26" height="22" fill="#fff"/><circle cx="10.6" cy="-3" r="7.3" fill="#000"/></mask></defs><g mask="url(#mz)"><circle r="9.6" fill="#ef4b1c"/><g fill="#ffe3cf"><circle cx="0.4" cy="-6" r="1.1"/><circle cx="-5.7" cy="0.1" r="1.1"/><circle cx="-4" cy="-4.3" r="0.9"/><circle cx="0.1" cy="4.2" r="2.4"/></g><path d="M0.1 4.2 L-3.1 -4.3" stroke="#ffe3cf" stroke-width="1.5" stroke-linecap="round"/></g><g fill="none" stroke="#2a628a" stroke-linejoin="miter"><path d="M6.5 -2.3 H10.2 L6.3 2.2 H10.2" stroke-width="1.15"/><path d="M8.1 -8.3 H10.2 L8 -5.5 H10.2" stroke-width="0.85"/><path d="M12.2 -4.2 H13.8 L12.1 -2 H13.8" stroke-width="0.65"/></g></svg>
<div class="t" style="top:745px;font-size:16px;line-height:16px;color:#2f3438;right:1242.20px;">0.2 ($ 0.0k)</div>
<div class="t" style="top:745px;font-size:16px;line-height:16px;color:#d7304c;right:1095.80px;">0.1 ($ 0.0k)</div>
<svg class="a" style="left:1380.20px;top:739.20px" width="22" height="24" viewBox="-1 -1 22 24"><path d="M18.2 6.1 V2.4 Q18.2 1 16.8 1 H1.2 L9.8 11 L1.3 20.9 H16.8 Q18.2 20.9 18.2 19.5 V16.3" fill="none" stroke="#1f2a2e" stroke-width="2.1" stroke-linejoin="round" stroke-linecap="round"/></svg>
<div class="t" style="top:745px;font-size:16px;line-height:16px;color:#2f3438;right:942.50px;">0.7</div>
<div class="t" style="top:745px;font-size:16px;line-height:16px;color:#2f3438;right:859.60px;">($ 0.1k)</div>
<div class="t" style="top:787px;font-size:16px;line-height:16px;color:#2f3438;left:344.60px;width:800px;text-align:center;">M</div>
<svg class="a" style="left:761.20px;top:782.20px" width="20" height="20" viewBox="-10 -10 20 20"><circle r="9.5" fill="#2f8159"/><g fill="#b9fbd9"><circle cx="-4.5" cy="-4.2" r="1.15"/><circle cx="-6.2" cy="0.1" r="1.15"/><circle cx="0" cy="-6" r="1.15"/><circle cx="6" cy="0.1" r="1.15"/><circle cx="-0.2" cy="4.1" r="2.45"/></g><path d="M-0.2 4.1 L3.4 -4.9" stroke="#b9fbd9" stroke-width="1.5" stroke-linecap="round"/></svg>
<div class="t" style="top:787px;font-size:16px;line-height:16px;color:#2f3438;right:1561.70px;">1.5</div>
<div class="t" style="top:787px;font-size:16px;line-height:16px;color:#2f3438;right:1479.50px;">($ 0.2k)</div>
<svg class="a" style="left:996.30px;top:781.70px" width="26" height="22" viewBox="-10 -11 26 22"><defs><mask id="mz" maskUnits="userSpaceOnUse" x="-10" y="-11" width="26" height="22"><rect x="-10" y="-11" width="26" height="22" fill="#fff"/><circle cx="10.6" cy="-3" r="7.3" fill="#000"/></mask></defs><g mask="url(#mz)"><circle r="9.6" fill="#ef4b1c"/><g fill="#ffe3cf"><circle cx="0.4" cy="-6" r="1.1"/><circle cx="-5.7" cy="0.1" r="1.1"/><circle cx="-4" cy="-4.3" r="0.9"/><circle cx="0.1" cy="4.2" r="2.4"/></g><path d="M0.1 4.2 L-3.1 -4.3" stroke="#ffe3cf" stroke-width="1.5" stroke-linecap="round"/></g><g fill="none" stroke="#2a628a" stroke-linejoin="miter"><path d="M6.5 -2.3 H10.2 L6.3 2.2 H10.2" stroke-width="1.15"/><path d="M8.1 -8.3 H10.2 L8 -5.5 H10.2" stroke-width="0.85"/><path d="M12.2 -4.2 H13.8 L12.1 -2 H13.8" stroke-width="0.65"/></g></svg>
<div class="t" style="top:787px;font-size:16px;line-height:16px;color:#2f3438;right:1242.20px;">0.6 ($ 0.1k)</div>
<div class="t" style="top:787px;font-size:16px;line-height:16px;color:#d7304c;right:1095.80px;">0.3 ($ 0.0k)</div>
<svg class="a" style="left:1380.20px;top:781.10px" width="22" height="24" viewBox="-1 -1 22 24"><path d="M18.2 6.1 V2.4 Q18.2 1 16.8 1 H1.2 L9.8 11 L1.3 20.9 H16.8 Q18.2 20.9 18.2 19.5 V16.3" fill="none" stroke="#1f2a2e" stroke-width="2.1" stroke-linejoin="round" stroke-linecap="round"/></svg>
<div class="t" style="top:787px;font-size:16px;line-height:16px;color:#2f3438;right:942.50px;">2.4</div>
<div class="t" style="top:787px;font-size:16px;line-height:16px;color:#2f3438;right:859.60px;">($ 0.3k)</div>
<div class="t" style="top:828px;font-size:16px;line-height:16px;color:#2f3438;left:344.60px;width:800px;text-align:center;">Y</div>
<svg class="a" style="left:761.20px;top:824.10px" width="20" height="20" viewBox="-10 -10 20 20"><circle r="9.5" fill="#2f8159"/><g fill="#b9fbd9"><circle cx="-4.5" cy="-4.2" r="1.15"/><circle cx="-6.2" cy="0.1" r="1.15"/><circle cx="0" cy="-6" r="1.15"/><circle cx="6" cy="0.1" r="1.15"/><circle cx="-0.2" cy="4.1" r="2.45"/></g><path d="M-0.2 4.1 L3.4 -4.9" stroke="#b9fbd9" stroke-width="1.5" stroke-linecap="round"/></svg>
<div class="t" style="top:828px;font-size:16px;line-height:16px;color:#2f3438;right:1561.70px;">17.7</div>
<div class="t" style="top:828px;font-size:16px;line-height:16px;color:#2f3438;right:1479.50px;">($ 2.6k)</div>
<svg class="a" style="left:996.30px;top:823.60px" width="26" height="22" viewBox="-10 -11 26 22"><defs><mask id="mz" maskUnits="userSpaceOnUse" x="-10" y="-11" width="26" height="22"><rect x="-10" y="-11" width="26" height="22" fill="#fff"/><circle cx="10.6" cy="-3" r="7.3" fill="#000"/></mask></defs><g mask="url(#mz)"><circle r="9.6" fill="#ef4b1c"/><g fill="#ffe3cf"><circle cx="0.4" cy="-6" r="1.1"/><circle cx="-5.7" cy="0.1" r="1.1"/><circle cx="-4" cy="-4.3" r="0.9"/><circle cx="0.1" cy="4.2" r="2.4"/></g><path d="M0.1 4.2 L-3.1 -4.3" stroke="#ffe3cf" stroke-width="1.5" stroke-linecap="round"/></g><g fill="none" stroke="#2a628a" stroke-linejoin="miter"><path d="M6.5 -2.3 H10.2 L6.3 2.2 H10.2" stroke-width="1.15"/><path d="M8.1 -8.3 H10.2 L8 -5.5 H10.2" stroke-width="0.85"/><path d="M12.2 -4.2 H13.8 L12.1 -2 H13.8" stroke-width="0.65"/></g></svg>
<div class="t" style="top:828px;font-size:16px;line-height:16px;color:#2f3438;right:1242.20px;">7.6 ($ 1.1k)</div>
<div class="t" style="top:828px;font-size:16px;line-height:16px;color:#d7304c;right:1095.80px;">3.4 ($ 0.5k)</div>
<svg class="a" style="left:1380.20px;top:823.00px" width="22" height="24" viewBox="-1 -1 22 24"><path d="M18.2 6.1 V2.4 Q18.2 1 16.8 1 H1.2 L9.8 11 L1.3 20.9 H16.8 Q18.2 20.9 18.2 19.5 V16.3" fill="none" stroke="#1f2a2e" stroke-width="2.1" stroke-linejoin="round" stroke-linecap="round"/></svg>
<div class="t" style="top:828px;font-size:16px;line-height:16px;color:#2f3438;right:942.50px;">28.6</div>
<div class="t" style="top:828px;font-size:16px;line-height:16px;color:#2f3438;right:859.60px;">($ 4.2k)</div>
<div class="t" style="top:725px;font-size:11.7px;line-height:11.7px;color:#6b6b6b;right:837.60px;">2</div>
<div class="t" style="top:820px;font-size:11.7px;line-height:11.7px;color:#6b6b6b;right:837.60px;">0</div>
<svg class="a" style="left:1565.30px;top:720.00px" width="801.20" height="136" viewBox="1565.30 720.00 801.20 136" shape-rendering="auto"><path d="M1567.30 730.60 H2364.50" stroke="#e0e0e0" stroke-width="1" fill="none"/><path d="M1567.30 824.70 H2364.50" stroke="#c4c4c4" stroke-width="1" fill="none"/><path d="M1575.30 730.60 V834.00M1641.07 730.60 V834.00M1706.83 730.60 V834.00M1772.60 730.60 V834.00M1838.37 730.60 V834.00M1904.13 730.60 V834.00M1969.90 730.60 V834.00M2035.67 730.60 V834.00M2101.43 730.60 V834.00M2167.20 730.60 V834.00M2232.97 730.60 V834.00M2298.73 730.60 V834.00M2364.50 730.60 V834.00" stroke="#e0e0e0" stroke-width="1" fill="none"/><rect x="1584.51" y="798.00" width="47.35" height="26.70" fill="#35845f"/><rect x="1584.51" y="784.70" width="47.35" height="13.30" fill="#dedede"/><rect x="1584.51" y="778.40" width="47.35" height="6.30" fill="#e22944"/><path d="M1584.96 824.70 V798.45 H1631.41 V824.70" fill="none" stroke="#1a3a2d" stroke-width="1"/><path d="M1584.96 798.00 V785.15 H1631.41 V798.00" fill="none" stroke="#878787" stroke-width="1"/><path d="M1584.96 784.70 V778.85 H1631.41 V784.70" fill="none" stroke="#6b1e2a" stroke-width="1"/><rect x="1650.27" y="793.00" width="47.35" height="31.70" fill="#35845f"/><rect x="1650.27" y="782.00" width="47.35" height="11.00" fill="#dedede"/><rect x="1650.27" y="779.70" width="47.35" height="2.30" fill="#e22944"/><path d="M1650.72 824.70 V793.45 H1697.18 V824.70" fill="none" stroke="#1a3a2d" stroke-width="1"/><path d="M1650.72 793.00 V782.45 H1697.18 V793.00" fill="none" stroke="#878787" stroke-width="1"/><path d="M1650.72 782.00 V780.15 H1697.18 V782.00" fill="none" stroke="#6b1e2a" stroke-width="1"/><rect x="1716.04" y="813.40" width="47.35" height="11.30" fill="#35845f"/><rect x="1716.04" y="808.40" width="47.35" height="5.00" fill="#dedede"/><rect x="1716.04" y="806.40" width="47.35" height="2.00" fill="#e22944"/><path d="M1716.49 824.70 V813.85 H1762.94 V824.70" fill="none" stroke="#1a3a2d" stroke-width="1"/><path d="M1716.49 813.40 V808.85 H1762.94 V813.40" fill="none" stroke="#878787" stroke-width="1"/><path d="M1716.49 808.40 V806.85 H1762.94 V808.40" fill="none" stroke="#6b1e2a" stroke-width="1"/><rect x="1913.34" y="816.40" width="47.35" height="8.30" fill="#35845f"/><rect x="1913.34" y="813.70" width="47.35" height="2.70" fill="#dedede"/><rect x="1913.34" y="812.00" width="47.35" height="1.70" fill="#e22944"/><path d="M1913.79 824.70 V816.85 H1960.24 V824.70" fill="none" stroke="#1a3a2d" stroke-width="1"/><path d="M1913.79 816.40 V814.15 H1960.24 V816.40" fill="none" stroke="#878787" stroke-width="1"/><path d="M1913.79 813.70 V812.45 H1960.24 V813.70" fill="none" stroke="#6b1e2a" stroke-width="1"/><rect x="1979.11" y="805.10" width="47.35" height="19.60" fill="#35845f"/><rect x="1979.11" y="795.50" width="47.35" height="9.60" fill="#dedede"/><rect x="1979.11" y="789.35" width="47.35" height="6.15" fill="#e22944"/><path d="M1979.56 824.70 V805.55 H2026.01 V824.70" fill="none" stroke="#1a3a2d" stroke-width="1"/><path d="M1979.56 805.10 V795.95 H2026.01 V805.10" fill="none" stroke="#878787" stroke-width="1"/><path d="M1979.56 795.50 V789.80 H2026.01 V795.50" fill="none" stroke="#6b1e2a" stroke-width="1"/><rect x="2044.87" y="805.60" width="47.35" height="19.10" fill="#35845f"/><rect x="2044.87" y="797.20" width="47.35" height="8.40" fill="#dedede"/><rect x="2044.87" y="792.50" width="47.35" height="4.70" fill="#e22944"/><path d="M2045.32 824.70 V806.05 H2091.78 V824.70" fill="none" stroke="#1a3a2d" stroke-width="1"/><path d="M2045.32 805.60 V797.65 H2091.78 V805.60" fill="none" stroke="#878787" stroke-width="1"/><path d="M2045.32 797.20 V792.95 H2091.78 V797.20" fill="none" stroke="#6b1e2a" stroke-width="1"/><rect x="2110.64" y="795.50" width="47.35" height="29.20" fill="#35845f"/><rect x="2110.64" y="785.85" width="47.35" height="9.65" fill="#dedede"/><rect x="2110.64" y="781.10" width="47.35" height="4.75" fill="#e22944"/><path d="M2111.09 824.70 V795.95 H2157.54 V824.70" fill="none" stroke="#1a3a2d" stroke-width="1"/><path d="M2111.09 795.50 V786.30 H2157.54 V795.50" fill="none" stroke="#878787" stroke-width="1"/><path d="M2111.09 785.85 V781.55 H2157.54 V785.85" fill="none" stroke="#6b1e2a" stroke-width="1"/><rect x="2176.41" y="802.10" width="47.35" height="22.60" fill="#35845f"/><rect x="2176.41" y="791.60" width="47.35" height="10.50" fill="#dedede"/><rect x="2176.41" y="785.70" width="47.35" height="5.90" fill="#e22944"/><path d="M2176.86 824.70 V802.55 H2223.31 V824.70" fill="none" stroke="#1a3a2d" stroke-width="1"/><path d="M2176.86 802.10 V792.05 H2223.31 V802.10" fill="none" stroke="#878787" stroke-width="1"/><path d="M2176.86 791.60 V786.15 H2223.31 V791.60" fill="none" stroke="#6b1e2a" stroke-width="1"/><rect x="2242.17" y="804.75" width="47.35" height="19.95" fill="#35845f"/><rect x="2242.17" y="792.50" width="47.35" height="12.25" fill="#dedede"/><rect x="2242.17" y="784.30" width="47.35" height="8.20" fill="#e22944"/><path d="M2242.62 824.70 V805.20 H2289.08 V824.70" fill="none" stroke="#1a3a2d" stroke-width="1"/><path d="M2242.62 804.75 V792.95 H2289.08 V804.75" fill="none" stroke="#878787" stroke-width="1"/><path d="M2242.62 792.50 V784.75 H2289.08 V792.50" fill="none" stroke="#6b1e2a" stroke-width="1"/><rect x="2307.94" y="800.40" width="47.35" height="24.30" fill="#35845f"/><rect x="2307.94" y="791.10" width="47.35" height="9.30" fill="#dedede"/><rect x="2307.94" y="787.40" width="47.35" height="3.70" fill="#e22944"/><path d="M2308.39 824.70 V800.85 H2354.84 V824.70" fill="none" stroke="#1a3a2d" stroke-width="1"/><path d="M2308.39 800.40 V791.55 H2354.84 V800.40" fill="none" stroke="#878787" stroke-width="1"/><path d="M2308.39 791.10 V787.85 H2354.84 V791.10" fill="none" stroke="#6b1e2a" stroke-width="1"/></svg>
<div class="t" style="top:839px;font-size:10.1px;line-height:10.1px;color:#6b6b6b;left:1208.18px;width:800px;text-align:center;">49</div>
<div class="t" style="top:839px;font-size:10.1px;line-height:10.1px;color:#6b6b6b;left:1273.95px;width:800px;text-align:center;">50</div>
<div class="t" style="top:839px;font-size:10.1px;line-height:10.1px;color:#6b6b6b;left:1339.72px;width:800px;text-align:center;">51</div>
<div class="t" style="top:839px;font-size:10.1px;line-height:10.1px;color:#6b6b6b;left:1405.48px;width:800px;text-align:center;">52</div>
<div class="t" style="top:839px;font-size:10.1px;line-height:10.1px;color:#6b6b6b;left:1471.25px;width:800px;text-align:center;">01</div>
<div class="t" style="top:839px;font-size:10.1px;line-height:10.1px;color:#6b6b6b;left:1537.02px;width:800px;text-align:center;">02</div>
<div class="t" style="top:839px;font-size:10.1px;line-height:10.1px;color:#6b6b6b;left:1602.78px;width:800px;text-align:center;">03</div>
<div class="t" style="top:839px;font-size:10.1px;line-height:10.1px;color:#6b6b6b;left:1668.55px;width:800px;text-align:center;">04</div>
<div class="t" style="top:839px;font-size:10.1px;line-height:10.1px;color:#6b6b6b;left:1734.32px;width:800px;text-align:center;">05</div>
<div class="t" style="top:839px;font-size:10.1px;line-height:10.1px;color:#6b6b6b;left:1800.08px;width:800px;text-align:center;"><span class="st">*</span>06</div>
<div class="t" style="top:839px;font-size:10.1px;line-height:10.1px;color:#6b6b6b;left:1865.85px;width:800px;text-align:center;"><span class="st">*</span>07</div>
<div class="t" style="top:839px;font-size:10.1px;line-height:10.1px;color:#6b6b6b;left:1931.62px;width:800px;text-align:center;"><span class="st">*</span>08</div>
<div class="a" style="left:37.50px;top:866.90px;width:2341.00px;height:168.00px;background:#fff;border:1px solid #dcdcdc;border-radius:4px;box-sizing:border-box;"></div>
<div class="a" style="left:38.50px;top:897.50px;width:2339.00px;height:1.00px;background:#dcdcdc;"></div>
<div class="a" style="left:180.00px;top:1033.30px;width:2198.50px;height:2.20px;background:#f0f0f0;"></div>
<div class="a" style="left:180.00px;top:1032.40px;width:2198.00px;height:1.00px;background:#dcdcdc;"></div>
<div class="t" style="top:875px;font-size:15.86px;line-height:15.86px;color:#2e7d5b;font-weight:700;left:49.70px;">0023 - DNE LASER / D-SOAR 1530 FCCBD3000W / 2020062301</div>
<div class="a" style="left:509.00px;top:898.40px;width:1.00px;height:134.20px;background:#d6d6d6;"></div>
<div class="a" style="left:725.00px;top:898.40px;width:1.00px;height:134.20px;background:#d6d6d6;"></div>
<div class="a" style="left:49.70px;top:913.60px;width:130.20px;height:107.50px;background:#fff;border:1px solid #c4c4c4;border-radius:4px;box-sizing:border-box;box-shadow:0 1px 2px rgba(0,0,0,.12);"></div>
<svg class="a" style="left:50.7px;top:914.60px" width="128" height="105.5" viewBox="105 140 1250 1030" preserveAspectRatio="none"><defs><filter id="f2" x="-5%" y="-5%" width="110%" height="110%"><feGaussianBlur stdDeviation="4.5"/></filter><clipPath id="cf2"><rect x="185" y="140" width="1085" height="1012"/></clipPath></defs><g clip-path="url(#cf2)"><g filter="url(#f2)"><rect x="135" y="90" width="1185" height="1110" fill="#eff0f3"/><rect x="190" y="178" width="790" height="14" fill="#d6d7dc"/><polygon points="135,520 830,240 900,270 135,630" fill="#fcfcfe"/><polygon points="135,1052 1320,518 1320,618 135,1152" fill="#fbfbfd" opacity=".85"/><rect x="205" y="205" width="228" height="20" fill="#3d3d48" opacity=".8"/><rect x="300" y="228" width="130" height="8" fill="#8a8a92" opacity=".6"/><rect x="910" y="205.0" width="340" height="27.0" fill="#3a4262"/><rect x="910" y="250.0" width="340" height="27.0" fill="#4a5478"/><rect x="910" y="295.0" width="340" height="27.0" fill="#d63a52"/><rect x="910" y="340.0" width="340" height="27.0" fill="#3a4262"/><rect x="910" y="385.0" width="340" height="27.0" fill="#3f4668"/><polygon points="270,800 600,905 740,945 1100,885 1195,780 1120,975 700,1030 360,910" fill="#ee8272" opacity=".2"/><polygon points="330,490 560,458 1025,512 1030,872 740,932 600,902 600,832 285,795" fill="#2b2f3a"/><polygon points="560,458 1025,512 1020,560 600,520" fill="#23262f"/><polygon points="290,790 345,495 385,478 352,800" fill="#e8341f"/><polygon points="360,800 395,520 420,515 400,805" fill="#3a3f4c"/><polygon points="470,805 530,520 595,560 600,830" fill="#f03a20"/><polygon points="540,700 600,700 600,730 545,728" fill="#f5f5f5"/><polygon points="752,548 922,562 922,882 752,922" fill="#f23a20"/><polygon points="1030,600 1092,592 1092,862 1030,872" fill="#ea351f"/><polygon points="1092,690 1192,682 1192,772 1092,782" fill="#b43124"/><polygon points="655,440 700,436 705,500 660,500" fill="#e8341f"/><polygon points="345,480 380,462 385,490 350,505" fill="#e8341f"/><rect x="688" y="545" width="34" height="62" fill="#e8341f"/><rect x="975" y="598" width="36" height="42" fill="#e8341f"/><rect x="405" y="560" width="42" height="62" fill="none" stroke="#e8eaee" stroke-width="9"/><rect x="404" y="540" width="8" height="90" fill="#e8eaee"/><circle cx="615" cy="905" r="10" fill="#15171c"/><circle cx="735" cy="935" r="10" fill="#15171c"/><circle cx="908" cy="895" r="9" fill="#15171c"/><circle cx="1022" cy="880" r="8" fill="#15171c"/><circle cx="1082" cy="868" r="8" fill="#15171c"/></g></g></svg>
<svg class="a" style="left:159.80px;top:909.90px" width="24" height="24" viewBox="-12 -12 24 24"><circle r="11.9" fill="#2e7d5b" fill-opacity="0.93"/><g fill="none" stroke="#e6fff2" stroke-linecap="round"><circle cx="-1.9" cy="-2.5" r="4.8" stroke-width="1.9"/><path d="M1.9 1.2 L5.9 5.1" stroke-width="2.3"/><path d="M-1.9 -4.6 V-0.4 M-4 -2.5 H0.2" stroke-width="1.5"/></g></svg>
<svg class="a" style="left:455.94px;top:906.00px" width="10" height="15" viewBox="0 0 10 15"><path d="M1.6 0.3 H6.6 L5.4 4.6 H9.3 L3.2 14.6 L4.4 7.7 H0.3 Z" fill="#262626"/></svg>
<div class="t" style="top:905px;font-size:13px;line-height:13px;color:#444;right:1895.80px;">108 A</div>
<svg class="a" style="left:256.60px;top:911.80px" width="20" height="20" viewBox="-10 -10 20 20"><circle r="9.5" fill="#2f8159"/><g fill="#b9fbd9"><circle cx="-4.5" cy="-4.2" r="1.15"/><circle cx="-6.2" cy="0.1" r="1.15"/><circle cx="0" cy="-6" r="1.15"/><circle cx="6" cy="0.1" r="1.15"/><circle cx="-0.2" cy="4.1" r="2.45"/></g><path d="M-0.2 4.1 L3.4 -4.9" stroke="#b9fbd9" stroke-width="1.5" stroke-linecap="round"/></svg>
<div class="a" style="left:202.10px;top:944.40px;width:129.00px;height:20.30px;background:#fff;border-radius:3px;box-shadow:0 0 0 1px rgba(0,0,0,.09),0 0 2px rgba(0,0,0,.12);"></div>
<div class="a" style="left:202.10px;top:944.40px;width:34.83px;height:20.30px;background:#8ed360;border-radius:3px;"></div>
<div class="t" style="top:947px;font-size:15px;line-height:15px;color:#222;font-weight:700;right:2073.90px;">27%</div>
<div class="t" style="top:975px;font-size:20px;line-height:20px;color:#2f3438;font-weight:700;left:-133.40px;width:800px;text-align:center;">6.1 kW</div>
<div class="t" style="top:1004px;font-size:17px;line-height:17px;color:#2f3438;font-weight:700;left:-133.40px;width:800px;text-align:center;">(0.9 $/h)</div>
<svg class="a" style="left:411.80px;top:910.80px" width="26" height="22" viewBox="-10 -11 26 22"><defs><mask id="mz" maskUnits="userSpaceOnUse" x="-10" y="-11" width="26" height="22"><rect x="-10" y="-11" width="26" height="22" fill="#fff"/><circle cx="10.6" cy="-3" r="7.3" fill="#000"/></mask></defs><g mask="url(#mz)"><circle r="9.6" fill="#ef4b1c"/><g fill="#ffe3cf"><circle cx="0.4" cy="-6" r="1.1"/><circle cx="-5.7" cy="0.1" r="1.1"/><circle cx="-4" cy="-4.3" r="0.9"/><circle cx="0.1" cy="4.2" r="2.4"/></g><path d="M0.1 4.2 L-3.1 -4.3" stroke="#ffe3cf" stroke-width="1.5" stroke-linecap="round"/></g><g fill="none" stroke="#2a628a" stroke-linejoin="miter"><path d="M6.5 -2.3 H10.2 L6.3 2.2 H10.2" stroke-width="1.15"/><path d="M8.1 -8.3 H10.2 L8 -5.5 H10.2" stroke-width="0.85"/><path d="M12.2 -4.2 H13.8 L12.1 -2 H13.8" stroke-width="0.65"/></g></svg>
<div class="a" style="left:357.90px;top:944.40px;width:129.00px;height:20.30px;background:#fff;border-radius:3px;box-shadow:0 0 0 1px rgba(0,0,0,.09),0 0 2px rgba(0,0,0,.12);"></div>
<div class="a" style="left:357.90px;top:944.40px;width:46.44px;height:20.30px;background:#8ed360;border-radius:3px;"></div>
<div class="t" style="top:947px;font-size:15px;line-height:15px;color:#222;font-weight:700;right:1918.10px;">36%</div>
<div class="t" style="top:975px;font-size:20px;line-height:20px;color:#2f3438;font-weight:700;left:22.40px;width:800px;text-align:center;">5.8 kW</div>
<div class="t" style="top:1004px;font-size:17px;line-height:17px;color:#2f3438;font-weight:700;left:22.40px;width:800px;text-align:center;">(0.9 $/h)</div>
<svg class="a" style="left:607.40px;top:911.80px" width="20" height="20" viewBox="-10 -10 20 20"><circle r="9.5" fill="#e1233f"/><path d="M-3.1 -6 L1.2 -6 L0.2 -1.7 L3.7 -1.7 L-1.1 6.6 L-0.4 1.3 L-4.3 0.3 Z" fill="#fff"/></svg>
<div class="a" style="left:552.90px;top:944.40px;width:129.00px;height:20.30px;background:#fff;border-radius:3px;box-shadow:0 0 0 1px rgba(0,0,0,.09),0 0 2px rgba(0,0,0,.12);"></div>
<div class="a" style="left:552.90px;top:944.40px;width:46.44px;height:20.30px;background:#8ed360;border-radius:3px;"></div>
<div class="t" style="top:947px;font-size:15px;line-height:15px;color:#222;font-weight:700;right:1723.10px;">36%</div>
<div class="t" style="top:975px;font-size:20px;line-height:20px;color:#d7304c;font-weight:700;left:217.40px;width:800px;text-align:center;">2.1 MWh</div>
<div class="t" style="top:1004px;font-size:17px;line-height:17px;color:#d7304c;font-weight:700;left:217.40px;width:800px;text-align:center;">($ 308.5)</div>
<div class="t" style="top:906px;font-size:11.5px;line-height:11.5px;color:#444;right:1242.20px;">Planned</div>
<div class="t" style="top:906px;font-size:11.5px;line-height:11.5px;color:#d7304c;left:1226.40px;">Unplanned w...</div>
<div class="t" style="top:923px;font-size:16px;line-height:16px;color:#2f3438;left:344.60px;width:800px;text-align:center;">W</div>
<svg class="a" style="left:761.20px;top:918.70px" width="20" height="20" viewBox="-10 -10 20 20"><circle r="9.5" fill="#2f8159"/><g fill="#b9fbd9"><circle cx="-4.5" cy="-4.2" r="1.15"/><circle cx="-6.2" cy="0.1" r="1.15"/><circle cx="0" cy="-6" r="1.15"/><circle cx="6" cy="0.1" r="1.15"/><circle cx="-0.2" cy="4.1" r="2.45"/></g><path d="M-0.2 4.1 L3.4 -4.9" stroke="#b9fbd9" stroke-width="1.5" stroke-linecap="round"/></svg>
<div class="t" style="top:923px;font-size:16px;line-height:16px;color:#2f3438;right:1566.30px;">0.1</div>
<div class="t" style="top:923px;font-size:16px;line-height:16px;color:#2f3438;right:1479.50px;">($ 0.0k)</div>
<svg class="a" style="left:996.30px;top:918.20px" width="26" height="22" viewBox="-10 -11 26 22"><defs><mask id="mz" maskUnits="userSpaceOnUse" x="-10" y="-11" width="26" height="22"><rect x="-10" y="-11" width="26" height="22" fill="#fff"/><circle cx="10.6" cy="-3" r="7.3" fill="#000"/></mask></defs><g mask="url(#mz)"><circle r="9.6" fill="#ef4b1c"/><g fill="#ffe3cf"><circle cx="0.4" cy="-6" r="1.1"/><circle cx="-5.7" cy="0.1" r="1.1"/><circle cx="-4" cy="-4.3" r="0.9"/><circle cx="0.1" cy="4.2" r="2.4"/></g><path d="M0.1 4.2 L-3.1 -4.3" stroke="#ffe3cf" stroke-width="1.5" stroke-linecap="round"/></g><g fill="none" stroke="#2a628a" stroke-linejoin="miter"><path d="M6.5 -2.3 H10.2 L6.3 2.2 H10.2" stroke-width="1.15"/><path d="M8.1 -8.3 H10.2 L8 -5.5 H10.2" stroke-width="0.85"/><path d="M12.2 -4.2 H13.8 L12.1 -2 H13.8" stroke-width="0.65"/></g></svg>
<div class="t" style="top:923px;font-size:16px;line-height:16px;color:#2f3438;right:1242.20px;">0.1 ($ 0.0k)</div>
<div class="t" style="top:923px;font-size:16px;line-height:16px;color:#d7304c;right:1095.80px;">0.0 ($ 0.0k)</div>
<svg class="a" style="left:1380.20px;top:917.60px" width="22" height="24" viewBox="-1 -1 22 24"><path d="M18.2 6.1 V2.4 Q18.2 1 16.8 1 H1.2 L9.8 11 L1.3 20.9 H16.8 Q18.2 20.9 18.2 19.5 V16.3" fill="none" stroke="#1f2a2e" stroke-width="2.1" stroke-linejoin="round" stroke-linecap="round"/></svg>
<div class="t" style="top:923px;font-size:16px;line-height:16px;color:#2f3438;right:947.00px;">0.2</div>
<div class="t" style="top:923px;font-size:16px;line-height:16px;color:#2f3438;right:859.60px;">($ 0.0k)</div>
<div class="t" style="top:965px;font-size:16px;line-height:16px;color:#2f3438;left:344.60px;width:800px;text-align:center;">M</div>
<svg class="a" style="left:761.20px;top:960.60px" width="20" height="20" viewBox="-10 -10 20 20"><circle r="9.5" fill="#2f8159"/><g fill="#b9fbd9"><circle cx="-4.5" cy="-4.2" r="1.15"/><circle cx="-6.2" cy="0.1" r="1.15"/><circle cx="0" cy="-6" r="1.15"/><circle cx="6" cy="0.1" r="1.15"/><circle cx="-0.2" cy="4.1" r="2.45"/></g><path d="M-0.2 4.1 L3.4 -4.9" stroke="#b9fbd9" stroke-width="1.5" stroke-linecap="round"/></svg>
<div class="t" style="top:965px;font-size:16px;line-height:16px;color:#2f3438;right:1566.30px;">0.4</div>
<div class="t" style="top:965px;font-size:16px;line-height:16px;color:#2f3438;right:1479.50px;">($ 0.1k)</div>
<svg class="a" style="left:996.30px;top:960.10px" width="26" height="22" viewBox="-10 -11 26 22"><defs><mask id="mz" maskUnits="userSpaceOnUse" x="-10" y="-11" width="26" height="22"><rect x="-10" y="-11" width="26" height="22" fill="#fff"/><circle cx="10.6" cy="-3" r="7.3" fill="#000"/></mask></defs><g mask="url(#mz)"><circle r="9.6" fill="#ef4b1c"/><g fill="#ffe3cf"><circle cx="0.4" cy="-6" r="1.1"/><circle cx="-5.7" cy="0.1" r="1.1"/><circle cx="-4" cy="-4.3" r="0.9"/><circle cx="0.1" cy="4.2" r="2.4"/></g><path d="M0.1 4.2 L-3.1 -4.3" stroke="#ffe3cf" stroke-width="1.5" stroke-linecap="round"/></g><g fill="none" stroke="#2a628a" stroke-linejoin="miter"><path d="M6.5 -2.3 H10.2 L6.3 2.2 H10.2" stroke-width="1.15"/><path d="M8.1 -8.3 H10.2 L8 -5.5 H10.2" stroke-width="0.85"/><path d="M12.2 -4.2 H13.8 L12.1 -2 H13.8" stroke-width="0.65"/></g></svg>
<div class="t" style="top:965px;font-size:16px;line-height:16px;color:#2f3438;right:1242.20px;">0.2 ($ 0.0k)</div>
<div class="t" style="top:965px;font-size:16px;line-height:16px;color:#d7304c;right:1095.80px;">0.2 ($ 0.0k)</div>
<svg class="a" style="left:1380.20px;top:959.50px" width="22" height="24" viewBox="-1 -1 22 24"><path d="M18.2 6.1 V2.4 Q18.2 1 16.8 1 H1.2 L9.8 11 L1.3 20.9 H16.8 Q18.2 20.9 18.2 19.5 V16.3" fill="none" stroke="#1f2a2e" stroke-width="2.1" stroke-linejoin="round" stroke-linecap="round"/></svg>
<div class="t" style="top:965px;font-size:16px;line-height:16px;color:#2f3438;right:947.00px;">0.8</div>
<div class="t" style="top:965px;font-size:16px;line-height:16px;color:#2f3438;right:859.60px;">($ 0.1k)</div>
<div class="t" style="top:1006px;font-size:16px;line-height:16px;color:#2f3438;left:344.60px;width:800px;text-align:center;">Y</div>
<svg class="a" style="left:761.20px;top:1002.50px" width="20" height="20" viewBox="-10 -10 20 20"><circle r="9.5" fill="#2f8159"/><g fill="#b9fbd9"><circle cx="-4.5" cy="-4.2" r="1.15"/><circle cx="-6.2" cy="0.1" r="1.15"/><circle cx="0" cy="-6" r="1.15"/><circle cx="6" cy="0.1" r="1.15"/><circle cx="-0.2" cy="4.1" r="2.45"/></g><path d="M-0.2 4.1 L3.4 -4.9" stroke="#b9fbd9" stroke-width="1.5" stroke-linecap="round"/></svg>
<div class="t" style="top:1006px;font-size:16px;line-height:16px;color:#2f3438;right:1566.30px;">4.7</div>
<div class="t" style="top:1006px;font-size:16px;line-height:16px;color:#2f3438;right:1479.50px;">($ 0.7k)</div>
<svg class="a" style="left:996.30px;top:1002.00px" width="26" height="22" viewBox="-10 -11 26 22"><defs><mask id="mz" maskUnits="userSpaceOnUse" x="-10" y="-11" width="26" height="22"><rect x="-10" y="-11" width="26" height="22" fill="#fff"/><circle cx="10.6" cy="-3" r="7.3" fill="#000"/></mask></defs><g mask="url(#mz)"><circle r="9.6" fill="#ef4b1c"/><g fill="#ffe3cf"><circle cx="0.4" cy="-6" r="1.1"/><circle cx="-5.7" cy="0.1" r="1.1"/><circle cx="-4" cy="-4.3" r="0.9"/><circle cx="0.1" cy="4.2" r="2.4"/></g><path d="M0.1 4.2 L-3.1 -4.3" stroke="#ffe3cf" stroke-width="1.5" stroke-linecap="round"/></g><g fill="none" stroke="#2a628a" stroke-linejoin="miter"><path d="M6.5 -2.3 H10.2 L6.3 2.2 H10.2" stroke-width="1.15"/><path d="M8.1 -8.3 H10.2 L8 -5.5 H10.2" stroke-width="0.85"/><path d="M12.2 -4.2 H13.8 L12.1 -2 H13.8" stroke-width="0.65"/></g></svg>
<div class="t" style="top:1006px;font-size:16px;line-height:16px;color:#2f3438;right:1242.20px;">2.7 ($ 0.4k)</div>
<div class="t" style="top:1006px;font-size:16px;line-height:16px;color:#d7304c;right:1095.80px;">2.1 ($ 0.3k)</div>
<svg class="a" style="left:1380.20px;top:1001.40px" width="22" height="24" viewBox="-1 -1 22 24"><path d="M18.2 6.1 V2.4 Q18.2 1 16.8 1 H1.2 L9.8 11 L1.3 20.9 H16.8 Q18.2 20.9 18.2 19.5 V16.3" fill="none" stroke="#1f2a2e" stroke-width="2.1" stroke-linejoin="round" stroke-linecap="round"/></svg>
<div class="t" style="top:1006px;font-size:16px;line-height:16px;color:#2f3438;right:947.00px;">9.6</div>
<div class="t" style="top:1006px;font-size:16px;line-height:16px;color:#2f3438;right:859.60px;">($ 1.4k)</div>
<div class="t" style="top:904px;font-size:11.7px;line-height:11.7px;color:#6b6b6b;right:828.40px;">0.5</div>
<div class="t" style="top:998px;font-size:11.7px;line-height:11.7px;color:#6b6b6b;right:828.40px;">0</div>
<svg class="a" style="left:1574.50px;top:898.40px" width="792.00" height="136" viewBox="1574.50 898.40 792.00 136" shape-rendering="auto"><path d="M1576.50 909.00 H2364.50" stroke="#e0e0e0" stroke-width="1" fill="none"/><path d="M1576.50 1003.10 H2364.50" stroke="#c4c4c4" stroke-width="1" fill="none"/><path d="M1584.50 909.00 V1012.40M1649.50 909.00 V1012.40M1714.50 909.00 V1012.40M1779.50 909.00 V1012.40M1844.50 909.00 V1012.40M1909.50 909.00 V1012.40M1974.50 909.00 V1012.40M2039.50 909.00 V1012.40M2104.50 909.00 V1012.40M2169.50 909.00 V1012.40M2234.50 909.00 V1012.40M2299.50 909.00 V1012.40M2364.50 909.00 V1012.40" stroke="#e0e0e0" stroke-width="1" fill="none"/><rect x="1593.60" y="980.90" width="46.80" height="22.20" fill="#35845f"/><rect x="1593.60" y="968.90" width="46.80" height="12.00" fill="#dedede"/><rect x="1593.60" y="951.90" width="46.80" height="17.00" fill="#e22944"/><path d="M1594.05 1003.10 V981.35 H1639.95 V1003.10" fill="none" stroke="#1a3a2d" stroke-width="1"/><path d="M1594.05 980.90 V969.35 H1639.95 V980.90" fill="none" stroke="#878787" stroke-width="1"/><path d="M1594.05 968.90 V952.35 H1639.95 V968.90" fill="none" stroke="#6b1e2a" stroke-width="1"/><rect x="1658.60" y="980.30" width="46.80" height="22.80" fill="#35845f"/><rect x="1658.60" y="964.40" width="46.80" height="15.90" fill="#dedede"/><rect x="1658.60" y="942.60" width="46.80" height="21.80" fill="#e22944"/><path d="M1659.05 1003.10 V980.75 H1704.95 V1003.10" fill="none" stroke="#1a3a2d" stroke-width="1"/><path d="M1659.05 980.30 V964.85 H1704.95 V980.30" fill="none" stroke="#878787" stroke-width="1"/><path d="M1659.05 964.40 V943.05 H1704.95 V964.40" fill="none" stroke="#6b1e2a" stroke-width="1"/><rect x="1723.60" y="989.30" width="46.80" height="13.80" fill="#35845f"/><rect x="1723.60" y="980.30" width="46.80" height="9.00" fill="#dedede"/><rect x="1723.60" y="974.30" width="46.80" height="6.00" fill="#e22944"/><path d="M1724.05 1003.10 V989.75 H1769.95 V1003.10" fill="none" stroke="#1a3a2d" stroke-width="1"/><path d="M1724.05 989.30 V980.75 H1769.95 V989.30" fill="none" stroke="#878787" stroke-width="1"/><path d="M1724.05 980.30 V974.75 H1769.95 V980.30" fill="none" stroke="#6b1e2a" stroke-width="1"/><rect x="1918.60" y="983.10" width="46.80" height="20.00" fill="#35845f"/><rect x="1918.60" y="969.30" width="46.80" height="13.80" fill="#dedede"/><rect x="1918.60" y="958.10" width="46.80" height="11.20" fill="#e22944"/><path d="M1919.05 1003.10 V983.55 H1964.95 V1003.10" fill="none" stroke="#1a3a2d" stroke-width="1"/><path d="M1919.05 983.10 V969.75 H1964.95 V983.10" fill="none" stroke="#878787" stroke-width="1"/><path d="M1919.05 969.30 V958.55 H1964.95 V969.30" fill="none" stroke="#6b1e2a" stroke-width="1"/><rect x="1983.60" y="982.10" width="46.80" height="21.00" fill="#35845f"/><rect x="1983.60" y="971.25" width="46.80" height="10.85" fill="#dedede"/><rect x="1983.60" y="968.45" width="46.80" height="2.80" fill="#e22944"/><path d="M1984.05 1003.10 V982.55 H2029.95 V1003.10" fill="none" stroke="#1a3a2d" stroke-width="1"/><path d="M1984.05 982.10 V971.70 H2029.95 V982.10" fill="none" stroke="#878787" stroke-width="1"/><path d="M1984.05 971.25 V968.90 H2029.95 V971.25" fill="none" stroke="#6b1e2a" stroke-width="1"/><rect x="2048.60" y="979.10" width="46.80" height="24.00" fill="#35845f"/><rect x="2048.60" y="967.60" width="46.80" height="11.50" fill="#dedede"/><rect x="2048.60" y="965.10" width="46.80" height="2.50" fill="#e22944"/><path d="M2049.05 1003.10 V979.55 H2094.95 V1003.10" fill="none" stroke="#1a3a2d" stroke-width="1"/><path d="M2049.05 979.10 V968.05 H2094.95 V979.10" fill="none" stroke="#878787" stroke-width="1"/><path d="M2049.05 967.60 V965.55 H2094.95 V967.60" fill="none" stroke="#6b1e2a" stroke-width="1"/><rect x="2113.60" y="976.15" width="46.80" height="26.95" fill="#35845f"/><rect x="2113.60" y="961.10" width="46.80" height="15.05" fill="#dedede"/><rect x="2113.60" y="950.25" width="46.80" height="10.85" fill="#e22944"/><path d="M2114.05 1003.10 V976.60 H2159.95 V1003.10" fill="none" stroke="#1a3a2d" stroke-width="1"/><path d="M2114.05 976.15 V961.55 H2159.95 V976.15" fill="none" stroke="#878787" stroke-width="1"/><path d="M2114.05 961.10 V950.70 H2159.95 V961.10" fill="none" stroke="#6b1e2a" stroke-width="1"/><rect x="2178.60" y="972.80" width="46.80" height="30.30" fill="#35845f"/><rect x="2178.60" y="954.45" width="46.80" height="18.35" fill="#dedede"/><rect x="2178.60" y="948.00" width="46.80" height="6.45" fill="#e22944"/><path d="M2179.05 1003.10 V973.25 H2224.95 V1003.10" fill="none" stroke="#1a3a2d" stroke-width="1"/><path d="M2179.05 972.80 V954.90 H2224.95 V972.80" fill="none" stroke="#878787" stroke-width="1"/><path d="M2179.05 954.45 V948.45 H2224.95 V954.45" fill="none" stroke="#6b1e2a" stroke-width="1"/><rect x="2243.60" y="973.35" width="46.80" height="29.75" fill="#35845f"/><rect x="2243.60" y="952.90" width="46.80" height="20.45" fill="#dedede"/><rect x="2243.60" y="939.20" width="46.80" height="13.70" fill="#e22944"/><path d="M2244.05 1003.10 V973.80 H2289.95 V1003.10" fill="none" stroke="#1a3a2d" stroke-width="1"/><path d="M2244.05 973.35 V953.35 H2289.95 V973.35" fill="none" stroke="#878787" stroke-width="1"/><path d="M2244.05 952.90 V939.65 H2289.95 V952.90" fill="none" stroke="#6b1e2a" stroke-width="1"/><rect x="2308.60" y="973.35" width="46.80" height="29.75" fill="#35845f"/><rect x="2308.60" y="951.50" width="46.80" height="21.85" fill="#dedede"/><rect x="2308.60" y="931.00" width="46.80" height="20.50" fill="#e22944"/><path d="M2309.05 1003.10 V973.80 H2354.95 V1003.10" fill="none" stroke="#1a3a2d" stroke-width="1"/><path d="M2309.05 973.35 V951.95 H2354.95 V973.35" fill="none" stroke="#878787" stroke-width="1"/><path d="M2309.05 951.50 V931.45 H2354.95 V951.50" fill="none" stroke="#6b1e2a" stroke-width="1"/></svg>
<div class="t" style="top:1018px;font-size:10.1px;line-height:10.1px;color:#6b6b6b;left:1217.00px;width:800px;text-align:center;">49</div>
<div class="t" style="top:1018px;font-size:10.1px;line-height:10.1px;color:#6b6b6b;left:1282.00px;width:800px;text-align:center;">50</div>
<div class="t" style="top:1018px;font-size:10.1px;line-height:10.1px;color:#6b6b6b;left:1347.00px;width:800px;text-align:center;">51</div>
<div class="t" style="top:1018px;font-size:10.1px;line-height:10.1px;color:#6b6b6b;left:1412.00px;width:800px;text-align:center;">52</div>
<div class="t" style="top:1018px;font-size:10.1px;line-height:10.1px;color:#6b6b6b;left:1477.00px;width:800px;text-align:center;">01</div>
<div class="t" style="top:1018px;font-size:10.1px;line-height:10.1px;color:#6b6b6b;left:1542.00px;width:800px;text-align:center;">02</div>
<div class="t" style="top:1018px;font-size:10.1px;line-height:10.1px;color:#6b6b6b;left:1607.00px;width:800px;text-align:center;">03</div>
<div class="t" style="top:1018px;font-size:10.1px;line-height:10.1px;color:#6b6b6b;left:1672.00px;width:800px;text-align:center;">04</div>
<div class="t" style="top:1018px;font-size:10.1px;line-height:10.1px;color:#6b6b6b;left:1737.00px;width:800px;text-align:center;">05</div>
<div class="t" style="top:1018px;font-size:10.1px;line-height:10.1px;color:#6b6b6b;left:1802.00px;width:800px;text-align:center;"><span class="st">*</span>06</div>
<div class="t" style="top:1018px;font-size:10.1px;line-height:10.1px;color:#6b6b6b;left:1867.00px;width:800px;text-align:center;"><span class="st">*</span>07</div>
<div class="t" style="top:1018px;font-size:10.1px;line-height:10.1px;color:#6b6b6b;left:1932.00px;width:800px;text-align:center;"><span class="st">*</span>08</div>
<div class="a" style="left:37.50px;top:1045.30px;width:2341.00px;height:168.00px;background:#fff;border:1px solid #dcdcdc;border-radius:4px;box-sizing:border-box;"></div>
<div class="a" style="left:38.50px;top:1075.90px;width:2339.00px;height:1.00px;background:#dcdcdc;"></div>
<div class="a" style="left:180.00px;top:1211.70px;width:2198.50px;height:2.20px;background:#f0f0f0;"></div>
<div class="a" style="left:180.00px;top:1210.80px;width:2198.00px;height:1.00px;background:#dcdcdc;"></div>
<div class="t" style="top:1054px;font-size:15.86px;line-height:15.86px;color:#2e7d5b;font-weight:700;left:49.70px;">0027 - SOCO / 0CT7000-SLT152 FIBER / 11200CT7000SLT152017</div>
<div class="a" style="left:509.00px;top:1076.80px;width:1.00px;height:134.20px;background:#d6d6d6;"></div>
<div class="a" style="left:725.00px;top:1076.80px;width:1.00px;height:134.20px;background:#d6d6d6;"></div>
<div class="a" style="left:49.70px;top:1092.00px;width:130.20px;height:107.50px;background:#fff;border:1px solid #c4c4c4;border-radius:4px;box-sizing:border-box;box-shadow:0 1px 2px rgba(0,0,0,.12);"></div>
<svg class="a" style="left:50.7px;top:1093.00px" width="128" height="105.5" viewBox="105 140 1250 1030" preserveAspectRatio="none"><defs><filter id="f3" x="-5%" y="-5%" width="110%" height="110%"><feGaussianBlur stdDeviation="4.5"/></filter><clipPath id="cf3"><rect x="105" y="190" width="1253" height="930"/></clipPath></defs><g clip-path="url(#cf3)"><g filter="url(#f3)"><rect x="55" y="140" width="1353" height="1030" fill="#b8b8b1"/><polygon points="55,140 1408,140 1408,330 700,330 520,250 55,250" fill="#72767a"/><polygon points="55,250 520,250 540,480 55,470" fill="#c4c3bb"/><polygon points="55,300 520,310 522,330 55,322" fill="#a9a9a2"/><polygon points="55,390 530,398 532,416 55,410" fill="#a9a9a2"/><polygon points="620,245 700,198 760,198 660,250" fill="#f6f6f2"/><polygon points="700,255 790,203 842,203 742,262" fill="#f6f6f2"/><polygon points="310,185 425,185 402,216 298,216" fill="#f2f2ee"/><rect x="1040" y="410" width="270" height="170" fill="#e4e4e0"/><polygon points="560,440 900,400 900,480 560,520" fill="#dddcd6"/><polygon points="540,250 560,250 570,520 548,520" fill="#6f6f6c"/><polygon points="55,830 300,640 700,660 1408,910 1408,1170 55,1170" fill="#c3c4c0"/><polygon points="55,960 600,820 900,1060 500,1170 55,1170" fill="#cbccc8"/><g stroke="#27478a" fill="none"><path d="M908 195 V600 M1022 195 V600 M1302 300 V760" stroke-width="22"/><path d="M900 372 H1320 M700 400 L900 330" stroke-width="16"/><path d="M930 200 L1010 360 M1010 200 L930 360 M1310 420 L1358 520" stroke-width="8"/></g><polygon points="700,400 760,330 900,330 900,400" fill="#3e63a5"/><polygon points="930,260 1300,280 1300,340 930,330" fill="#8a7a66" opacity=".7"/><rect x="58" y="455" width="145" height="125" fill="#b33c2c"/><rect x="203" y="455" width="240" height="125" fill="#e9a021"/><rect x="230" y="500" width="30" height="60" fill="#5a3a1a"/><rect x="290" y="500" width="30" height="60" fill="#5a3a1a"/><rect x="55" y="580" width="250" height="60" fill="#35507f"/><polygon points="55,680 200,690 205,900 55,930" fill="#4f9b6c"/><polygon points="55,760 200,765 202,800 55,800" fill="#3a7a52"/><polygon points="205,650 300,640 300,760 210,770" fill="#c9a98a" opacity=".8"/><rect x="440" y="480" width="110" height="100" fill="#ededE7"/><rect x="318" y="545" width="55" height="60" fill="#5b7cc0"/><rect x="1125" y="540" width="150" height="205" fill="#1e6a39"/><rect x="1272" y="580" width="136" height="185" fill="#efa41f"/><polygon points="1240,770 1408,810 1408,930 1240,880" fill="#2a5fb2"/><polygon points="1250,800 1408,840 1408,870 1250,830" fill="#d8d8e0" opacity=".7"/><rect x="940" y="470" width="180" height="90" fill="#4a5a50" opacity=".7"/><rect x="690" y="482" width="140" height="110" fill="#1f66c6"/><polygon points="540,690 1120,850 1112,992 862,1052 740,1000 540,800" fill="#1f63b6"/><polygon points="1000,770 1120,850 1112,992 1005,1018" fill="#1a58a8"/><polygon points="600,780 740,850 740,960 600,860" fill="#1a3f7d"/><polygon points="760,870 850,905 850,1010 760,970" fill="#2a2a3a"/><polygon points="480,560 1130,622 1130,692 1005,765 480,600" fill="#e9e6da"/><polygon points="520,615 1000,755 1000,728 520,598" fill="#2d2431"/><polygon points="530,640 1000,775 1000,795 530,660" fill="#f0efe8"/><g fill="#26222c"><polygon points="545,585 580,590 580,605 545,600"/><polygon points="598,594 638,600 638,618 598,611"/><polygon points="655,604 700,611 700,632 655,624"/><polygon points="735,618 790,627 790,652 735,642"/><polygon points="850,640 915,650 915,682 850,670"/></g><polygon points="310,622 520,610 532,850 322,872" fill="#1c4da0"/><polygon points="310,622 520,610 520,640 310,652" fill="#3a2a6a"/><polygon points="330,700 525,688 526,700 330,712" fill="#163c80"/><polygon points="330,770 528,756 529,768 330,782" fill="#163c80"/><polygon points="700,700 830,690 835,760 705,770" fill="#2b63c9"/><polygon points="715,706 820,698 822,718 716,726" fill="#5f8fe6"/><path d="M897 1130 V852 L1222 772 V1085" fill="none" stroke="#f1a71d" stroke-width="36" stroke-linejoin="round"/><polygon points="1180,1050 1408,1020 1408,1170 1180,1170" fill="#eab23a" opacity=".85"/></g></g></svg>
<svg class="a" style="left:159.80px;top:1088.30px" width="24" height="24" viewBox="-12 -12 24 24"><circle r="11.9" fill="#2e7d5b" fill-opacity="0.93"/><g fill="none" stroke="#e6fff2" stroke-linecap="round"><circle cx="-1.9" cy="-2.5" r="4.8" stroke-width="1.9"/><path d="M1.9 1.2 L5.9 5.1" stroke-width="2.3"/><path d="M-1.9 -4.6 V-0.4 M-4 -2.5 H0.2" stroke-width="1.5"/></g></svg>
<svg class="a" style="left:463.17px;top:1084.40px" width="10" height="15" viewBox="0 0 10 15"><path d="M1.6 0.3 H6.6 L5.4 4.6 H9.3 L3.2 14.6 L4.4 7.7 H0.3 Z" fill="#262626"/></svg>
<div class="t" style="top:1084px;font-size:13px;line-height:13px;color:#444;right:1895.80px;">17 A</div>
<svg class="a" style="left:256.60px;top:1090.20px" width="20" height="20" viewBox="-10 -10 20 20"><circle r="9.5" fill="#2f8159"/><g fill="#b9fbd9"><circle cx="-4.5" cy="-4.2" r="1.15"/><circle cx="-6.2" cy="0.1" r="1.15"/><circle cx="0" cy="-6" r="1.15"/><circle cx="6" cy="0.1" r="1.15"/><circle cx="-0.2" cy="4.1" r="2.45"/></g><path d="M-0.2 4.1 L3.4 -4.9" stroke="#b9fbd9" stroke-width="1.5" stroke-linecap="round"/></svg>
<div class="a" style="left:202.10px;top:1122.80px;width:129.00px;height:20.30px;background:#fff;border-radius:3px;box-shadow:0 0 0 1px rgba(0,0,0,.09),0 0 2px rgba(0,0,0,.12);"></div>
<div class="a" style="left:202.10px;top:1122.80px;width:11.61px;height:20.30px;background:#8ed360;border-radius:3px;"></div>
<div class="t" style="top:1125px;font-size:15px;line-height:15px;color:#222;font-weight:700;right:2073.90px;">9%</div>
<div class="t" style="top:1153px;font-size:20px;line-height:20px;color:#2f3438;font-weight:700;left:-133.40px;width:800px;text-align:center;">2.1 kW</div>
<div class="t" style="top:1182px;font-size:17px;line-height:17px;color:#2f3438;font-weight:700;left:-133.40px;width:800px;text-align:center;">(0.3 $/h)</div>
<svg class="a" style="left:411.80px;top:1089.20px" width="26" height="22" viewBox="-10 -11 26 22"><defs><mask id="mz" maskUnits="userSpaceOnUse" x="-10" y="-11" width="26" height="22"><rect x="-10" y="-11" width="26" height="22" fill="#fff"/><circle cx="10.6" cy="-3" r="7.3" fill="#000"/></mask></defs><g mask="url(#mz)"><circle r="9.6" fill="#ef4b1c"/><g fill="#ffe3cf"><circle cx="0.4" cy="-6" r="1.1"/><circle cx="-5.7" cy="0.1" r="1.1"/><circle cx="-4" cy="-4.3" r="0.9"/><circle cx="0.1" cy="4.2" r="2.4"/></g><path d="M0.1 4.2 L-3.1 -4.3" stroke="#ffe3cf" stroke-width="1.5" stroke-linecap="round"/></g><g fill="none" stroke="#2a628a" stroke-linejoin="miter"><path d="M6.5 -2.3 H10.2 L6.3 2.2 H10.2" stroke-width="1.15"/><path d="M8.1 -8.3 H10.2 L8 -5.5 H10.2" stroke-width="0.85"/><path d="M12.2 -4.2 H13.8 L12.1 -2 H13.8" stroke-width="0.65"/></g></svg>
<div class="a" style="left:357.90px;top:1122.80px;width:129.00px;height:20.30px;background:#fff;border-radius:3px;box-shadow:0 0 0 1px rgba(0,0,0,.09),0 0 2px rgba(0,0,0,.12);"></div>
<div class="a" style="left:357.90px;top:1122.80px;width:11.61px;height:20.30px;background:#8ed360;border-radius:3px;"></div>
<div class="t" style="top:1125px;font-size:15px;line-height:15px;color:#222;font-weight:700;right:1918.10px;">9%</div>
<div class="t" style="top:1153px;font-size:20px;line-height:20px;color:#2f3438;font-weight:700;left:22.40px;width:800px;text-align:center;">1.4 kW</div>
<div class="t" style="top:1182px;font-size:17px;line-height:17px;color:#2f3438;font-weight:700;left:22.40px;width:800px;text-align:center;">(0.2 $/h)</div>
<svg class="a" style="left:607.40px;top:1090.20px" width="20" height="20" viewBox="-10 -10 20 20"><circle r="9.5" fill="#e1233f"/><path d="M-3.1 -6 L1.2 -6 L0.2 -1.7 L3.7 -1.7 L-1.1 6.6 L-0.4 1.3 L-4.3 0.3 Z" fill="#fff"/></svg>
<div class="a" style="left:552.90px;top:1122.80px;width:129.00px;height:20.30px;background:#fff;border-radius:3px;box-shadow:0 0 0 1px rgba(0,0,0,.09),0 0 2px rgba(0,0,0,.12);"></div>
<div class="a" style="left:552.90px;top:1122.80px;width:10.32px;height:20.30px;background:#8ed360;border-radius:3px;"></div>
<div class="t" style="top:1125px;font-size:15px;line-height:15px;color:#222;font-weight:700;right:1723.10px;">8%</div>
<div class="t" style="top:1153px;font-size:20px;line-height:20px;color:#d7304c;font-weight:700;left:217.40px;width:800px;text-align:center;">0.5 MWh</div>
<div class="t" style="top:1182px;font-size:17px;line-height:17px;color:#d7304c;font-weight:700;left:217.40px;width:800px;text-align:center;">($ 71.0)</div>
<div class="t" style="top:1084px;font-size:11.5px;line-height:11.5px;color:#444;right:1242.20px;">Planned</div>
<div class="t" style="top:1084px;font-size:11.5px;line-height:11.5px;color:#d7304c;left:1226.40px;">Unplanned w...</div>
<div class="t" style="top:1102px;font-size:16px;line-height:16px;color:#2f3438;left:344.60px;width:800px;text-align:center;">W</div>
<svg class="a" style="left:761.20px;top:1097.10px" width="20" height="20" viewBox="-10 -10 20 20"><circle r="9.5" fill="#2f8159"/><g fill="#b9fbd9"><circle cx="-4.5" cy="-4.2" r="1.15"/><circle cx="-6.2" cy="0.1" r="1.15"/><circle cx="0" cy="-6" r="1.15"/><circle cx="6" cy="0.1" r="1.15"/><circle cx="-0.2" cy="4.1" r="2.45"/></g><path d="M-0.2 4.1 L3.4 -4.9" stroke="#b9fbd9" stroke-width="1.5" stroke-linecap="round"/></svg>
<div class="t" style="top:1102px;font-size:16px;line-height:16px;color:#2f3438;right:1566.30px;">0.1</div>
<div class="t" style="top:1102px;font-size:16px;line-height:16px;color:#2f3438;right:1479.50px;">($ 0.0k)</div>
<svg class="a" style="left:996.30px;top:1096.60px" width="26" height="22" viewBox="-10 -11 26 22"><defs><mask id="mz" maskUnits="userSpaceOnUse" x="-10" y="-11" width="26" height="22"><rect x="-10" y="-11" width="26" height="22" fill="#fff"/><circle cx="10.6" cy="-3" r="7.3" fill="#000"/></mask></defs><g mask="url(#mz)"><circle r="9.6" fill="#ef4b1c"/><g fill="#ffe3cf"><circle cx="0.4" cy="-6" r="1.1"/><circle cx="-5.7" cy="0.1" r="1.1"/><circle cx="-4" cy="-4.3" r="0.9"/><circle cx="0.1" cy="4.2" r="2.4"/></g><path d="M0.1 4.2 L-3.1 -4.3" stroke="#ffe3cf" stroke-width="1.5" stroke-linecap="round"/></g><g fill="none" stroke="#2a628a" stroke-linejoin="miter"><path d="M6.5 -2.3 H10.2 L6.3 2.2 H10.2" stroke-width="1.15"/><path d="M8.1 -8.3 H10.2 L8 -5.5 H10.2" stroke-width="0.85"/><path d="M12.2 -4.2 H13.8 L12.1 -2 H13.8" stroke-width="0.65"/></g></svg>
<div class="t" style="top:1102px;font-size:16px;line-height:16px;color:#2f3438;right:1242.20px;">0.0 ($ 0.0k)</div>
<div class="t" style="top:1102px;font-size:16px;line-height:16px;color:#d7304c;right:1095.80px;">0.0 ($ 0.0k)</div>
<svg class="a" style="left:1380.20px;top:1096.00px" width="22" height="24" viewBox="-1 -1 22 24"><path d="M18.2 6.1 V2.4 Q18.2 1 16.8 1 H1.2 L9.8 11 L1.3 20.9 H16.8 Q18.2 20.9 18.2 19.5 V16.3" fill="none" stroke="#1f2a2e" stroke-width="2.1" stroke-linejoin="round" stroke-linecap="round"/></svg>
<div class="t" style="top:1102px;font-size:16px;line-height:16px;color:#2f3438;right:947.20px;">0.1</div>
<div class="t" style="top:1102px;font-size:16px;line-height:16px;color:#2f3438;right:859.60px;">($ 0.0k)</div>
<div class="t" style="top:1143px;font-size:16px;line-height:16px;color:#2f3438;left:344.60px;width:800px;text-align:center;">M</div>
<svg class="a" style="left:761.20px;top:1139.00px" width="20" height="20" viewBox="-10 -10 20 20"><circle r="9.5" fill="#2f8159"/><g fill="#b9fbd9"><circle cx="-4.5" cy="-4.2" r="1.15"/><circle cx="-6.2" cy="0.1" r="1.15"/><circle cx="0" cy="-6" r="1.15"/><circle cx="6" cy="0.1" r="1.15"/><circle cx="-0.2" cy="4.1" r="2.45"/></g><path d="M-0.2 4.1 L3.4 -4.9" stroke="#b9fbd9" stroke-width="1.5" stroke-linecap="round"/></svg>
<div class="t" style="top:1143px;font-size:16px;line-height:16px;color:#2f3438;right:1566.30px;">0.3</div>
<div class="t" style="top:1143px;font-size:16px;line-height:16px;color:#2f3438;right:1479.50px;">($ 0.0k)</div>
<svg class="a" style="left:996.30px;top:1138.50px" width="26" height="22" viewBox="-10 -11 26 22"><defs><mask id="mz" maskUnits="userSpaceOnUse" x="-10" y="-11" width="26" height="22"><rect x="-10" y="-11" width="26" height="22" fill="#fff"/><circle cx="10.6" cy="-3" r="7.3" fill="#000"/></mask></defs><g mask="url(#mz)"><circle r="9.6" fill="#ef4b1c"/><g fill="#ffe3cf"><circle cx="0.4" cy="-6" r="1.1"/><circle cx="-5.7" cy="0.1" r="1.1"/><circle cx="-4" cy="-4.3" r="0.9"/><circle cx="0.1" cy="4.2" r="2.4"/></g><path d="M0.1 4.2 L-3.1 -4.3" stroke="#ffe3cf" stroke-width="1.5" stroke-linecap="round"/></g><g fill="none" stroke="#2a628a" stroke-linejoin="miter"><path d="M6.5 -2.3 H10.2 L6.3 2.2 H10.2" stroke-width="1.15"/><path d="M8.1 -8.3 H10.2 L8 -5.5 H10.2" stroke-width="0.85"/><path d="M12.2 -4.2 H13.8 L12.1 -2 H13.8" stroke-width="0.65"/></g></svg>
<div class="t" style="top:1143px;font-size:16px;line-height:16px;color:#2f3438;right:1242.20px;">0.1 ($ 0.0k)</div>
<div class="t" style="top:1143px;font-size:16px;line-height:16px;color:#d7304c;right:1095.80px;">0.0 ($ 0.0k)</div>
<svg class="a" style="left:1380.20px;top:1137.90px" width="22" height="24" viewBox="-1 -1 22 24"><path d="M18.2 6.1 V2.4 Q18.2 1 16.8 1 H1.2 L9.8 11 L1.3 20.9 H16.8 Q18.2 20.9 18.2 19.5 V16.3" fill="none" stroke="#1f2a2e" stroke-width="2.1" stroke-linejoin="round" stroke-linecap="round"/></svg>
<div class="t" style="top:1143px;font-size:16px;line-height:16px;color:#2f3438;right:947.20px;">0.5</div>
<div class="t" style="top:1143px;font-size:16px;line-height:16px;color:#2f3438;right:859.60px;">($ 0.1k)</div>
<div class="t" style="top:1185px;font-size:16px;line-height:16px;color:#2f3438;left:344.60px;width:800px;text-align:center;">Y</div>
<svg class="a" style="left:761.20px;top:1180.90px" width="20" height="20" viewBox="-10 -10 20 20"><circle r="9.5" fill="#2f8159"/><g fill="#b9fbd9"><circle cx="-4.5" cy="-4.2" r="1.15"/><circle cx="-6.2" cy="0.1" r="1.15"/><circle cx="0" cy="-6" r="1.15"/><circle cx="6" cy="0.1" r="1.15"/><circle cx="-0.2" cy="4.1" r="2.45"/></g><path d="M-0.2 4.1 L3.4 -4.9" stroke="#b9fbd9" stroke-width="1.5" stroke-linecap="round"/></svg>
<div class="t" style="top:1185px;font-size:16px;line-height:16px;color:#2f3438;right:1566.30px;">4.1</div>
<div class="t" style="top:1185px;font-size:16px;line-height:16px;color:#2f3438;right:1479.50px;">($ 0.6k)</div>
<svg class="a" style="left:996.30px;top:1180.40px" width="26" height="22" viewBox="-10 -11 26 22"><defs><mask id="mz" maskUnits="userSpaceOnUse" x="-10" y="-11" width="26" height="22"><rect x="-10" y="-11" width="26" height="22" fill="#fff"/><circle cx="10.6" cy="-3" r="7.3" fill="#000"/></mask></defs><g mask="url(#mz)"><circle r="9.6" fill="#ef4b1c"/><g fill="#ffe3cf"><circle cx="0.4" cy="-6" r="1.1"/><circle cx="-5.7" cy="0.1" r="1.1"/><circle cx="-4" cy="-4.3" r="0.9"/><circle cx="0.1" cy="4.2" r="2.4"/></g><path d="M0.1 4.2 L-3.1 -4.3" stroke="#ffe3cf" stroke-width="1.5" stroke-linecap="round"/></g><g fill="none" stroke="#2a628a" stroke-linejoin="miter"><path d="M6.5 -2.3 H10.2 L6.3 2.2 H10.2" stroke-width="1.15"/><path d="M8.1 -8.3 H10.2 L8 -5.5 H10.2" stroke-width="0.85"/><path d="M12.2 -4.2 H13.8 L12.1 -2 H13.8" stroke-width="0.65"/></g></svg>
<div class="t" style="top:1185px;font-size:16px;line-height:16px;color:#2f3438;right:1242.20px;">1.2 ($ 0.2k)</div>
<div class="t" style="top:1185px;font-size:16px;line-height:16px;color:#d7304c;right:1095.80px;">0.5 ($ 0.1k)</div>
<svg class="a" style="left:1380.20px;top:1179.80px" width="22" height="24" viewBox="-1 -1 22 24"><path d="M18.2 6.1 V2.4 Q18.2 1 16.8 1 H1.2 L9.8 11 L1.3 20.9 H16.8 Q18.2 20.9 18.2 19.5 V16.3" fill="none" stroke="#1f2a2e" stroke-width="2.1" stroke-linejoin="round" stroke-linecap="round"/></svg>
<div class="t" style="top:1185px;font-size:16px;line-height:16px;color:#2f3438;right:947.20px;">5.8</div>
<div class="t" style="top:1185px;font-size:16px;line-height:16px;color:#2f3438;right:859.60px;">($ 0.8k)</div>
<div class="t" style="top:1082px;font-size:11.7px;line-height:11.7px;color:#6b6b6b;right:828.40px;">0.3</div>
<div class="t" style="top:1177px;font-size:11.7px;line-height:11.7px;color:#6b6b6b;right:828.40px;">0</div>
<svg class="a" style="left:1574.50px;top:1076.80px" width="792.00" height="136" viewBox="1574.50 1076.80 792.00 136" shape-rendering="auto"><path d="M1576.50 1087.40 H2364.50" stroke="#e0e0e0" stroke-width="1" fill="none"/><path d="M1576.50 1181.50 H2364.50" stroke="#c4c4c4" stroke-width="1" fill="none"/><path d="M1584.50 1087.40 V1190.80M1649.50 1087.40 V1190.80M1714.50 1087.40 V1190.80M1779.50 1087.40 V1190.80M1844.50 1087.40 V1190.80M1909.50 1087.40 V1190.80M1974.50 1087.40 V1190.80M2039.50 1087.40 V1190.80M2104.50 1087.40 V1190.80M2169.50 1087.40 V1190.80M2234.50 1087.40 V1190.80M2299.50 1087.40 V1190.80M2364.50 1087.40 V1190.80" stroke="#e0e0e0" stroke-width="1" fill="none"/><rect x="1593.60" y="1162.30" width="46.80" height="19.20" fill="#35845f"/><rect x="1593.60" y="1147.00" width="46.80" height="15.30" fill="#dedede"/><rect x="1593.60" y="1140.30" width="46.80" height="6.70" fill="#e22944"/><path d="M1594.05 1181.50 V1162.75 H1639.95 V1181.50" fill="none" stroke="#1a3a2d" stroke-width="1"/><path d="M1594.05 1162.30 V1147.45 H1639.95 V1162.30" fill="none" stroke="#878787" stroke-width="1"/><path d="M1594.05 1147.00 V1140.75 H1639.95 V1147.00" fill="none" stroke="#6b1e2a" stroke-width="1"/><rect x="1658.60" y="1171.70" width="46.80" height="9.80" fill="#35845f"/><rect x="1658.60" y="1150.30" width="46.80" height="21.40" fill="#dedede"/><rect x="1658.60" y="1136.50" width="46.80" height="13.80" fill="#e22944"/><path d="M1659.05 1181.50 V1172.15 H1704.95 V1181.50" fill="none" stroke="#1a3a2d" stroke-width="1"/><path d="M1659.05 1171.70 V1150.75 H1704.95 V1171.70" fill="none" stroke="#878787" stroke-width="1"/><path d="M1659.05 1150.30 V1136.95 H1704.95 V1150.30" fill="none" stroke="#6b1e2a" stroke-width="1"/><rect x="1723.60" y="1155.30" width="46.80" height="26.20" fill="#35845f"/><rect x="1723.60" y="1150.70" width="46.80" height="4.60" fill="#dedede"/><rect x="1723.60" y="1147.50" width="46.80" height="3.20" fill="#e22944"/><path d="M1724.05 1181.50 V1155.75 H1769.95 V1181.50" fill="none" stroke="#1a3a2d" stroke-width="1"/><path d="M1724.05 1155.30 V1151.15 H1769.95 V1155.30" fill="none" stroke="#878787" stroke-width="1"/><path d="M1724.05 1150.70 V1147.95 H1769.95 V1150.70" fill="none" stroke="#6b1e2a" stroke-width="1"/><rect x="1918.60" y="1139.30" width="46.80" height="42.20" fill="#35845f"/><rect x="1918.60" y="1137.60" width="46.80" height="1.70" fill="#dedede"/><path d="M1919.05 1181.50 V1139.75 H1964.95 V1181.50" fill="none" stroke="#1a3a2d" stroke-width="1"/><path d="M1919.05 1139.30 V1138.05 H1964.95 V1139.30" fill="none" stroke="#878787" stroke-width="1"/><rect x="1983.60" y="1141.25" width="46.80" height="40.25" fill="#35845f"/><rect x="1983.60" y="1131.90" width="46.80" height="9.35" fill="#dedede"/><rect x="1983.60" y="1131.40" width="46.80" height="0.50" fill="#e22944"/><path d="M1984.05 1181.50 V1141.70 H2029.95 V1181.50" fill="none" stroke="#1a3a2d" stroke-width="1"/><path d="M1984.05 1141.25 V1132.35 H2029.95 V1141.25" fill="none" stroke="#878787" stroke-width="1"/><path d="M1984.05 1131.90 V1131.85 H2029.95 V1131.90" fill="none" stroke="#6b1e2a" stroke-width="1"/><rect x="2048.60" y="1139.15" width="46.80" height="42.35" fill="#35845f"/><rect x="2048.60" y="1136.50" width="46.80" height="2.65" fill="#dedede"/><path d="M2049.05 1181.50 V1139.60 H2094.95 V1181.50" fill="none" stroke="#1a3a2d" stroke-width="1"/><path d="M2049.05 1139.15 V1136.95 H2094.95 V1139.15" fill="none" stroke="#878787" stroke-width="1"/><rect x="2113.60" y="1147.40" width="46.80" height="34.10" fill="#35845f"/><rect x="2113.60" y="1138.30" width="46.80" height="9.10" fill="#dedede"/><rect x="2113.60" y="1135.65" width="46.80" height="2.65" fill="#e22944"/><path d="M2114.05 1181.50 V1147.85 H2159.95 V1181.50" fill="none" stroke="#1a3a2d" stroke-width="1"/><path d="M2114.05 1147.40 V1138.75 H2159.95 V1147.40" fill="none" stroke="#878787" stroke-width="1"/><path d="M2114.05 1138.30 V1136.10 H2159.95 V1138.30" fill="none" stroke="#6b1e2a" stroke-width="1"/><rect x="2178.60" y="1135.30" width="46.80" height="46.20" fill="#35845f"/><rect x="2178.60" y="1126.90" width="46.80" height="8.40" fill="#dedede"/><path d="M2179.05 1181.50 V1135.75 H2224.95 V1181.50" fill="none" stroke="#1a3a2d" stroke-width="1"/><path d="M2179.05 1135.30 V1127.35 H2224.95 V1135.30" fill="none" stroke="#878787" stroke-width="1"/><rect x="2243.60" y="1144.05" width="46.80" height="37.45" fill="#35845f"/><rect x="2243.60" y="1136.20" width="46.80" height="7.85" fill="#dedede"/><rect x="2243.60" y="1134.40" width="46.80" height="1.80" fill="#e22944"/><path d="M2244.05 1181.50 V1144.50 H2289.95 V1181.50" fill="none" stroke="#1a3a2d" stroke-width="1"/><path d="M2244.05 1144.05 V1136.65 H2289.95 V1144.05" fill="none" stroke="#878787" stroke-width="1"/><path d="M2244.05 1136.20 V1134.85 H2289.95 V1136.20" fill="none" stroke="#6b1e2a" stroke-width="1"/><rect x="2308.60" y="1141.25" width="46.80" height="40.25" fill="#35845f"/><rect x="2308.60" y="1133.55" width="46.80" height="7.70" fill="#dedede"/><rect x="2308.60" y="1131.60" width="46.80" height="1.95" fill="#e22944"/><path d="M2309.05 1181.50 V1141.70 H2354.95 V1181.50" fill="none" stroke="#1a3a2d" stroke-width="1"/><path d="M2309.05 1141.25 V1134.00 H2354.95 V1141.25" fill="none" stroke="#878787" stroke-width="1"/><path d="M2309.05 1133.55 V1132.05 H2354.95 V1133.55" fill="none" stroke="#6b1e2a" stroke-width="1"/></svg>
<div class="t" style="top:1196px;font-size:10.1px;line-height:10.1px;color:#6b6b6b;left:1217.00px;width:800px;text-align:center;">49</div>
<div class="t" style="top:1196px;font-size:10.1px;line-height:10.1px;color:#6b6b6b;left:1282.00px;width:800px;text-align:center;">50</div>
<div class="t" style="top:1196px;font-size:10.1px;line-height:10.1px;color:#6b6b6b;left:1347.00px;width:800px;text-align:center;">51</div>
<div class="t" style="top:1196px;font-size:10.1px;line-height:10.1px;color:#6b6b6b;left:1412.00px;width:800px;text-align:center;">52</div>
<div class="t" style="top:1196px;font-size:10.1px;line-height:10.1px;color:#6b6b6b;left:1477.00px;width:800px;text-align:center;">01</div>
<div class="t" style="top:1196px;font-size:10.1px;line-height:10.1px;color:#6b6b6b;left:1542.00px;width:800px;text-align:center;">02</div>
<div class="t" style="top:1196px;font-size:10.1px;line-height:10.1px;color:#6b6b6b;left:1607.00px;width:800px;text-align:center;">03</div>
<div class="t" style="top:1196px;font-size:10.1px;line-height:10.1px;color:#6b6b6b;left:1672.00px;width:800px;text-align:center;">04</div>
<div class="t" style="top:1196px;font-size:10.1px;line-height:10.1px;color:#6b6b6b;left:1737.00px;width:800px;text-align:center;">05</div>
<div class="t" style="top:1196px;font-size:10.1px;line-height:10.1px;color:#6b6b6b;left:1802.00px;width:800px;text-align:center;"><span class="st">*</span>06</div>
<div class="t" style="top:1196px;font-size:10.1px;line-height:10.1px;color:#6b6b6b;left:1867.00px;width:800px;text-align:center;"><span class="st">*</span>07</div>
<div class="t" style="top:1196px;font-size:10.1px;line-height:10.1px;color:#6b6b6b;left:1932.00px;width:800px;text-align:center;"><span class="st">*</span>08</div>
<div class="a" style="left:179.50px;top:1224.00px;width:2199.20px;height:136.00px;background:#dceaf2;border:1px solid #aec3cf;border-left:none;border-radius:0 5px 5px 0;box-sizing:border-box;"></div>
<div class="a" style="left:509.00px;top:1225.00px;width:1.00px;height:134.00px;background:#9fb4c1;"></div>
<div class="a" style="left:725.00px;top:1225.00px;width:1.00px;height:134.00px;background:#9fb4c1;"></div>
<div class="a" style="left:26.60px;top:1224.30px;width:153.40px;height:136.30px;background:#07364c;border-radius:5px 0 0 5px;box-shadow:0 0 0 1px rgba(220,234,242,.9);"></div>
<div class="t" style="top:1311px;font-size:16px;line-height:16px;color:#ebf7fc;left:-296.70px;width:800px;text-align:center;">07 Powder Coating</div>
<svg class="a" style="left:84.00px;top:1262.30px" width="39" height="32" viewBox="84 1262 39 32"><g fill="#0d4656" stroke="#e8f6fb" stroke-width="1.45" stroke-linejoin="round" stroke-linecap="round"><path d="M90.2 1269.7 H96.2 L99.2 1272 H105.8 Q107.6 1273.8 105.8 1275.6 H99.2 L96.2 1278.2 H90.2 Q85.9 1278 85.9 1273.9 Q85.9 1269.9 90.2 1269.7 Z"/><path d="M91.2 1278.4 L89.6 1284.1 H93.8 L96.6 1278.4" fill="#123f52"/><path d="M90.5 1284.6 V1291.6 M93 1284.6 V1291.6" fill="none" stroke-width="1.25"/><path d="M108.9 1270.2 Q111.2 1273.8 108.9 1277.4" fill="none" stroke-width="1" stroke-opacity=".85"/></g><rect x="100.4" y="1272.8" width="2.1" height="2" fill="#e8f6fb"/><rect x="103.6" y="1272.9" width="1.8" height="1.8" fill="none" stroke="#e8f6fb" stroke-width="0.6"/><g fill="#e8f6fb"><rect x="111.97" y="1268.26" width="1.3" height="1.3"/><rect x="113.57" y="1266.22" width="1.3" height="1.3"/><rect x="115.17" y="1264.17" width="1.3" height="1.3"/><rect x="111.36" y="1271.52" width="1.3" height="1.3"/><rect x="113.67" y="1270.34" width="1.3" height="1.3"/><rect x="115.99" y="1269.15" width="1.3" height="1.3"/><rect x="118.31" y="1267.97" width="1.3" height="1.3"/><rect x="111.75" y="1273.15" width="1.3" height="1.3"/><rect x="114.35" y="1273.15" width="1.3" height="1.3"/><rect x="116.95" y="1273.15" width="1.3" height="1.3"/><rect x="119.75" y="1273.15" width="1.3" height="1.3"/><rect x="111.36" y="1274.78" width="1.3" height="1.3"/><rect x="113.67" y="1275.96" width="1.3" height="1.3"/><rect x="115.99" y="1277.15" width="1.3" height="1.3"/><rect x="118.31" y="1278.33" width="1.3" height="1.3"/><rect x="111.97" y="1278.04" width="1.3" height="1.3"/><rect x="113.57" y="1280.08" width="1.3" height="1.3"/><rect x="115.17" y="1282.13" width="1.3" height="1.3"/></g></svg>
<svg class="a" style="left:256.60px;top:1237.70px" width="20" height="20" viewBox="-10 -10 20 20"><circle r="9.5" fill="#2f8159"/><g fill="#b9fbd9"><circle cx="-4.5" cy="-4.2" r="1.15"/><circle cx="-6.2" cy="0.1" r="1.15"/><circle cx="0" cy="-6" r="1.15"/><circle cx="6" cy="0.1" r="1.15"/><circle cx="-0.2" cy="4.1" r="2.45"/></g><path d="M-0.2 4.1 L3.4 -4.9" stroke="#b9fbd9" stroke-width="1.5" stroke-linecap="round"/></svg>
<div class="a" style="left:202.10px;top:1270.30px;width:129.00px;height:20.30px;background:#fff;border-radius:3px;box-shadow:0 0 2px rgba(0,0,0,.22);"></div>
<div class="a" style="left:202.10px;top:1270.30px;width:7.74px;height:20.30px;background:#8ed360;border-radius:3px;"></div>
<div class="t" style="top:1273px;font-size:15px;line-height:15px;color:#222;font-weight:700;right:2073.90px;">6%</div>
<div class="t" style="top:1301px;font-size:20px;line-height:20px;color:#2f3438;font-weight:700;left:-133.40px;width:800px;text-align:center;">6.5 kW</div>
<div class="t" style="top:1330px;font-size:17px;line-height:17px;color:#2f3438;font-weight:700;left:-133.40px;width:800px;text-align:center;">(0.9 $/h)</div>
<svg class="a" style="left:411.80px;top:1236.70px" width="26" height="22" viewBox="-10 -11 26 22"><defs><mask id="mz" maskUnits="userSpaceOnUse" x="-10" y="-11" width="26" height="22"><rect x="-10" y="-11" width="26" height="22" fill="#fff"/><circle cx="10.6" cy="-3" r="7.3" fill="#000"/></mask></defs><g mask="url(#mz)"><circle r="9.6" fill="#ef4b1c"/><g fill="#ffe3cf"><circle cx="0.4" cy="-6" r="1.1"/><circle cx="-5.7" cy="0.1" r="1.1"/><circle cx="-4" cy="-4.3" r="0.9"/><circle cx="0.1" cy="4.2" r="2.4"/></g><path d="M0.1 4.2 L-3.1 -4.3" stroke="#ffe3cf" stroke-width="1.5" stroke-linecap="round"/></g><g fill="none" stroke="#2a628a" stroke-linejoin="miter"><path d="M6.5 -2.3 H10.2 L6.3 2.2 H10.2" stroke-width="1.15"/><path d="M8.1 -8.3 H10.2 L8 -5.5 H10.2" stroke-width="0.85"/><path d="M12.2 -4.2 H13.8 L12.1 -2 H13.8" stroke-width="0.65"/></g></svg>
<div class="a" style="left:357.90px;top:1270.30px;width:129.00px;height:20.30px;background:#fff;border-radius:3px;box-shadow:0 0 2px rgba(0,0,0,.22);"></div>
<div class="a" style="left:357.90px;top:1270.30px;width:12.90px;height:20.30px;background:#8ed360;border-radius:3px;"></div>
<div class="t" style="top:1273px;font-size:15px;line-height:15px;color:#222;font-weight:700;right:1918.10px;">10%</div>
<div class="t" style="top:1301px;font-size:20px;line-height:20px;color:#2f3438;font-weight:700;left:22.40px;width:800px;text-align:center;">6.4 kW</div>
<div class="t" style="top:1330px;font-size:17px;line-height:17px;color:#2f3438;font-weight:700;left:22.40px;width:800px;text-align:center;">(0.9 $/h)</div>
<svg class="a" style="left:607.40px;top:1237.70px" width="20" height="20" viewBox="-10 -10 20 20"><circle r="9.5" fill="#e1233f"/><path d="M-3.1 -6 L1.2 -6 L0.2 -1.7 L3.7 -1.7 L-1.1 6.6 L-0.4 1.3 L-4.3 0.3 Z" fill="#fff"/></svg>
<div class="a" style="left:552.90px;top:1270.30px;width:129.00px;height:20.30px;background:#fff;border-radius:3px;box-shadow:0 0 2px rgba(0,0,0,.22);"></div>
<div class="a" style="left:552.90px;top:1270.30px;width:11.61px;height:20.30px;background:#8ed360;border-radius:3px;"></div>
<div class="t" style="top:1273px;font-size:15px;line-height:15px;color:#222;font-weight:700;right:1723.10px;">9%</div>
<div class="t" style="top:1301px;font-size:20px;line-height:20px;color:#d7304c;font-weight:700;left:217.40px;width:800px;text-align:center;">1.9 MWh</div>
<div class="t" style="top:1330px;font-size:17px;line-height:17px;color:#d7304c;font-weight:700;left:217.40px;width:800px;text-align:center;">($ 0.3k)</div>
<div class="t" style="top:1231px;font-size:11.5px;line-height:11.5px;color:#444;right:1242.20px;">Planned</div>
<div class="t" style="top:1231px;font-size:11.5px;line-height:11.5px;color:#d7304c;left:1226.40px;">Unplanned w...</div>
<div class="t" style="top:1249px;font-size:16px;line-height:16px;color:#2f3438;left:344.60px;width:800px;text-align:center;">W</div>
<svg class="a" style="left:761.20px;top:1244.60px" width="20" height="20" viewBox="-10 -10 20 20"><circle r="9.5" fill="#2f8159"/><g fill="#b9fbd9"><circle cx="-4.5" cy="-4.2" r="1.15"/><circle cx="-6.2" cy="0.1" r="1.15"/><circle cx="0" cy="-6" r="1.15"/><circle cx="6" cy="0.1" r="1.15"/><circle cx="-0.2" cy="4.1" r="2.45"/></g><path d="M-0.2 4.1 L3.4 -4.9" stroke="#b9fbd9" stroke-width="1.5" stroke-linecap="round"/></svg>
<div class="t" style="top:1249px;font-size:16px;line-height:16px;color:#2f3438;right:1566.30px;">0.2</div>
<div class="t" style="top:1249px;font-size:16px;line-height:16px;color:#2f3438;right:1479.50px;">($ 0.0k)</div>
<svg class="a" style="left:996.30px;top:1244.10px" width="26" height="22" viewBox="-10 -11 26 22"><defs><mask id="mz" maskUnits="userSpaceOnUse" x="-10" y="-11" width="26" height="22"><rect x="-10" y="-11" width="26" height="22" fill="#fff"/><circle cx="10.6" cy="-3" r="7.3" fill="#000"/></mask></defs><g mask="url(#mz)"><circle r="9.6" fill="#ef4b1c"/><g fill="#ffe3cf"><circle cx="0.4" cy="-6" r="1.1"/><circle cx="-5.7" cy="0.1" r="1.1"/><circle cx="-4" cy="-4.3" r="0.9"/><circle cx="0.1" cy="4.2" r="2.4"/></g><path d="M0.1 4.2 L-3.1 -4.3" stroke="#ffe3cf" stroke-width="1.5" stroke-linecap="round"/></g><g fill="none" stroke="#2a628a" stroke-linejoin="miter"><path d="M6.5 -2.3 H10.2 L6.3 2.2 H10.2" stroke-width="1.15"/><path d="M8.1 -8.3 H10.2 L8 -5.5 H10.2" stroke-width="0.85"/><path d="M12.2 -4.2 H13.8 L12.1 -2 H13.8" stroke-width="0.65"/></g></svg>
<div class="t" style="top:1249px;font-size:16px;line-height:16px;color:#2f3438;right:1242.20px;">0.1 ($ 0.0k)</div>
<div class="t" style="top:1249px;font-size:16px;line-height:16px;color:#d7304c;right:1095.80px;">0.1 ($ 0.0k)</div>
<svg class="a" style="left:1380.20px;top:1243.50px" width="22" height="24" viewBox="-1 -1 22 24"><path d="M18.2 6.1 V2.4 Q18.2 1 16.8 1 H1.2 L9.8 11 L1.3 20.9 H16.8 Q18.2 20.9 18.2 19.5 V16.3" fill="none" stroke="#1f2a2e" stroke-width="2.1" stroke-linejoin="round" stroke-linecap="round"/></svg>
<div class="t" style="top:1249px;font-size:16px;line-height:16px;color:#2f3438;right:947.20px;">0.4</div>
<div class="t" style="top:1249px;font-size:16px;line-height:16px;color:#2f3438;right:859.60px;">($ 0.1k)</div>
<div class="t" style="top:1291px;font-size:16px;line-height:16px;color:#2f3438;left:344.60px;width:800px;text-align:center;">M</div>
<div class="t" style="top:1281px;font-size:13.5px;line-height:13.5px;color:#2f3438;font-weight:700;left:357.00px;width:800px;text-align:center;">*</div>
<svg class="a" style="left:761.20px;top:1286.50px" width="20" height="20" viewBox="-10 -10 20 20"><circle r="9.5" fill="#2f8159"/><g fill="#b9fbd9"><circle cx="-4.5" cy="-4.2" r="1.15"/><circle cx="-6.2" cy="0.1" r="1.15"/><circle cx="0" cy="-6" r="1.15"/><circle cx="6" cy="0.1" r="1.15"/><circle cx="-0.2" cy="4.1" r="2.45"/></g><path d="M-0.2 4.1 L3.4 -4.9" stroke="#b9fbd9" stroke-width="1.5" stroke-linecap="round"/></svg>
<div class="t" style="top:1291px;font-size:16px;line-height:16px;color:#2f3438;right:1566.30px;">0.4</div>
<div class="t" style="top:1291px;font-size:16px;line-height:16px;color:#2f3438;right:1479.50px;">($ 0.1k)</div>
<svg class="a" style="left:996.30px;top:1286.00px" width="26" height="22" viewBox="-10 -11 26 22"><defs><mask id="mz" maskUnits="userSpaceOnUse" x="-10" y="-11" width="26" height="22"><rect x="-10" y="-11" width="26" height="22" fill="#fff"/><circle cx="10.6" cy="-3" r="7.3" fill="#000"/></mask></defs><g mask="url(#mz)"><circle r="9.6" fill="#ef4b1c"/><g fill="#ffe3cf"><circle cx="0.4" cy="-6" r="1.1"/><circle cx="-5.7" cy="0.1" r="1.1"/><circle cx="-4" cy="-4.3" r="0.9"/><circle cx="0.1" cy="4.2" r="2.4"/></g><path d="M0.1 4.2 L-3.1 -4.3" stroke="#ffe3cf" stroke-width="1.5" stroke-linecap="round"/></g><g fill="none" stroke="#2a628a" stroke-linejoin="miter"><path d="M6.5 -2.3 H10.2 L6.3 2.2 H10.2" stroke-width="1.15"/><path d="M8.1 -8.3 H10.2 L8 -5.5 H10.2" stroke-width="0.85"/><path d="M12.2 -4.2 H13.8 L12.1 -2 H13.8" stroke-width="0.65"/></g></svg>
<div class="t" style="top:1291px;font-size:16px;line-height:16px;color:#2f3438;right:1242.20px;">0.2 ($ 0.0k)</div>
<div class="t" style="top:1291px;font-size:16px;line-height:16px;color:#d7304c;right:1095.80px;">0.2 ($ 0.0k)</div>
<svg class="a" style="left:1380.20px;top:1285.40px" width="22" height="24" viewBox="-1 -1 22 24"><path d="M18.2 6.1 V2.4 Q18.2 1 16.8 1 H1.2 L9.8 11 L1.3 20.9 H16.8 Q18.2 20.9 18.2 19.5 V16.3" fill="none" stroke="#1f2a2e" stroke-width="2.1" stroke-linejoin="round" stroke-linecap="round"/></svg>
<div class="t" style="top:1291px;font-size:16px;line-height:16px;color:#2f3438;right:947.20px;">0.7</div>
<div class="t" style="top:1291px;font-size:16px;line-height:16px;color:#2f3438;right:859.60px;">($ 0.1k)</div>
<div class="t" style="top:1332px;font-size:16px;line-height:16px;color:#2f3438;left:344.60px;width:800px;text-align:center;">Y</div>
<div class="t" style="top:1322px;font-size:13.5px;line-height:13.5px;color:#2f3438;font-weight:700;left:357.00px;width:800px;text-align:center;">*</div>
<svg class="a" style="left:761.20px;top:1328.40px" width="20" height="20" viewBox="-10 -10 20 20"><circle r="9.5" fill="#2f8159"/><g fill="#b9fbd9"><circle cx="-4.5" cy="-4.2" r="1.15"/><circle cx="-6.2" cy="0.1" r="1.15"/><circle cx="0" cy="-6" r="1.15"/><circle cx="6" cy="0.1" r="1.15"/><circle cx="-0.2" cy="4.1" r="2.45"/></g><path d="M-0.2 4.1 L3.4 -4.9" stroke="#b9fbd9" stroke-width="1.5" stroke-linecap="round"/></svg>
<div class="t" style="top:1332px;font-size:16px;line-height:16px;color:#2f3438;right:1566.30px;">4.4</div>
<div class="t" style="top:1332px;font-size:16px;line-height:16px;color:#2f3438;right:1479.50px;">($ 0.6k)</div>
<svg class="a" style="left:996.30px;top:1327.90px" width="26" height="22" viewBox="-10 -11 26 22"><defs><mask id="mz" maskUnits="userSpaceOnUse" x="-10" y="-11" width="26" height="22"><rect x="-10" y="-11" width="26" height="22" fill="#fff"/><circle cx="10.6" cy="-3" r="7.3" fill="#000"/></mask></defs><g mask="url(#mz)"><circle r="9.6" fill="#ef4b1c"/><g fill="#ffe3cf"><circle cx="0.4" cy="-6" r="1.1"/><circle cx="-5.7" cy="0.1" r="1.1"/><circle cx="-4" cy="-4.3" r="0.9"/><circle cx="0.1" cy="4.2" r="2.4"/></g><path d="M0.1 4.2 L-3.1 -4.3" stroke="#ffe3cf" stroke-width="1.5" stroke-linecap="round"/></g><g fill="none" stroke="#2a628a" stroke-linejoin="miter"><path d="M6.5 -2.3 H10.2 L6.3 2.2 H10.2" stroke-width="1.15"/><path d="M8.1 -8.3 H10.2 L8 -5.5 H10.2" stroke-width="0.85"/><path d="M12.2 -4.2 H13.8 L12.1 -2 H13.8" stroke-width="0.65"/></g></svg>
<div class="t" style="top:1332px;font-size:16px;line-height:16px;color:#2f3438;right:1242.20px;">2.0 ($ 0.3k)</div>
<div class="t" style="top:1332px;font-size:16px;line-height:16px;color:#d7304c;right:1095.80px;">1.9 ($ 0.3k)</div>
<svg class="a" style="left:1380.20px;top:1327.30px" width="22" height="24" viewBox="-1 -1 22 24"><path d="M18.2 6.1 V2.4 Q18.2 1 16.8 1 H1.2 L9.8 11 L1.3 20.9 H16.8 Q18.2 20.9 18.2 19.5 V16.3" fill="none" stroke="#1f2a2e" stroke-width="2.1" stroke-linejoin="round" stroke-linecap="round"/></svg>
<div class="t" style="top:1332px;font-size:16px;line-height:16px;color:#2f3438;right:947.20px;">8.2</div>
<div class="t" style="top:1332px;font-size:16px;line-height:16px;color:#2f3438;right:859.60px;">($ 1.2k)</div>
<div class="t" style="top:1229px;font-size:11.7px;line-height:11.7px;color:#6b6b6b;right:828.40px;">0.5</div>
<div class="t" style="top:1324px;font-size:11.7px;line-height:11.7px;color:#6b6b6b;right:828.40px;">0</div>
<svg class="a" style="left:1574.50px;top:1224.30px" width="792.00" height="136" viewBox="1574.50 1224.30 792.00 136" shape-rendering="auto"><path d="M1576.50 1234.90 H2364.50" stroke="#c9d6de" stroke-width="1" fill="none"/><path d="M1576.50 1329.00 H2364.50" stroke="#a9bcc7" stroke-width="1" fill="none"/><path d="M1584.50 1234.90 V1338.30M1649.50 1234.90 V1338.30M1714.50 1234.90 V1338.30M1779.50 1234.90 V1338.30M1844.50 1234.90 V1338.30M1909.50 1234.90 V1338.30M1974.50 1234.90 V1338.30M2039.50 1234.90 V1338.30M2104.50 1234.90 V1338.30M2169.50 1234.90 V1338.30M2234.50 1234.90 V1338.30M2299.50 1234.90 V1338.30M2364.50 1234.90 V1338.30" stroke="#c9d6de" stroke-width="1" fill="none"/><rect x="1593.60" y="1327.00" width="46.80" height="2.00" fill="#35845f"/><rect x="1593.60" y="1325.20" width="46.80" height="1.80" fill="#dedede"/><rect x="1593.60" y="1323.20" width="46.80" height="2.00" fill="#e22944"/><path d="M1594.05 1329.00 V1327.45 H1639.95 V1329.00" fill="none" stroke="#1a3a2d" stroke-width="1"/><path d="M1594.05 1327.00 V1325.65 H1639.95 V1327.00" fill="none" stroke="#878787" stroke-width="1"/><path d="M1594.05 1325.20 V1323.65 H1639.95 V1325.20" fill="none" stroke="#6b1e2a" stroke-width="1"/><rect x="1918.60" y="1315.70" width="46.80" height="13.30" fill="#35845f"/><rect x="1918.60" y="1312.80" width="46.80" height="2.90" fill="#dedede"/><rect x="1918.60" y="1312.10" width="46.80" height="0.70" fill="#e22944"/><path d="M1919.05 1329.00 V1316.15 H1964.95 V1329.00" fill="none" stroke="#1a3a2d" stroke-width="1"/><path d="M1919.05 1315.70 V1313.25 H1964.95 V1315.70" fill="none" stroke="#878787" stroke-width="1"/><path d="M1919.05 1312.80 V1312.55 H1964.95 V1312.80" fill="none" stroke="#6b1e2a" stroke-width="1"/><rect x="1983.60" y="1315.00" width="46.80" height="14.00" fill="#35845f"/><rect x="1983.60" y="1310.30" width="46.80" height="4.70" fill="#dedede"/><rect x="1983.60" y="1308.35" width="46.80" height="1.95" fill="#e22944"/><path d="M1984.05 1329.00 V1315.45 H2029.95 V1329.00" fill="none" stroke="#1a3a2d" stroke-width="1"/><path d="M1984.05 1315.00 V1310.75 H2029.95 V1315.00" fill="none" stroke="#878787" stroke-width="1"/><path d="M1984.05 1310.30 V1308.80 H2029.95 V1310.30" fill="none" stroke="#6b1e2a" stroke-width="1"/><rect x="2048.60" y="1314.10" width="46.80" height="14.90" fill="#35845f"/><rect x="2048.60" y="1309.40" width="46.80" height="4.70" fill="#dedede"/><rect x="2048.60" y="1306.80" width="46.80" height="2.60" fill="#e22944"/><path d="M2049.05 1329.00 V1314.55 H2094.95 V1329.00" fill="none" stroke="#1a3a2d" stroke-width="1"/><path d="M2049.05 1314.10 V1309.85 H2094.95 V1314.10" fill="none" stroke="#878787" stroke-width="1"/><path d="M2049.05 1309.40 V1307.25 H2094.95 V1309.40" fill="none" stroke="#6b1e2a" stroke-width="1"/><rect x="2113.60" y="1298.00" width="46.80" height="31.00" fill="#35845f"/><rect x="2113.60" y="1286.50" width="46.80" height="11.50" fill="#dedede"/><rect x="2113.60" y="1279.65" width="46.80" height="6.85" fill="#e22944"/><path d="M2114.05 1329.00 V1298.45 H2159.95 V1329.00" fill="none" stroke="#1a3a2d" stroke-width="1"/><path d="M2114.05 1298.00 V1286.95 H2159.95 V1298.00" fill="none" stroke="#878787" stroke-width="1"/><path d="M2114.05 1286.50 V1280.10 H2159.95 V1286.50" fill="none" stroke="#6b1e2a" stroke-width="1"/><rect x="2178.60" y="1295.20" width="46.80" height="33.80" fill="#35845f"/><rect x="2178.60" y="1278.60" width="46.80" height="16.60" fill="#dedede"/><rect x="2178.60" y="1260.75" width="46.80" height="17.85" fill="#e22944"/><path d="M2179.05 1329.00 V1295.65 H2224.95 V1329.00" fill="none" stroke="#1a3a2d" stroke-width="1"/><path d="M2179.05 1295.20 V1279.05 H2224.95 V1295.20" fill="none" stroke="#878787" stroke-width="1"/><path d="M2179.05 1278.60 V1261.20 H2224.95 V1278.60" fill="none" stroke="#6b1e2a" stroke-width="1"/><rect x="2243.60" y="1293.65" width="46.80" height="35.35" fill="#35845f"/><rect x="2243.60" y="1276.50" width="46.80" height="17.15" fill="#dedede"/><rect x="2243.60" y="1252.35" width="46.80" height="24.15" fill="#e22944"/><path d="M2244.05 1329.00 V1294.10 H2289.95 V1329.00" fill="none" stroke="#1a3a2d" stroke-width="1"/><path d="M2244.05 1293.65 V1276.95 H2289.95 V1293.65" fill="none" stroke="#878787" stroke-width="1"/><path d="M2244.05 1276.50 V1252.80 H2289.95 V1276.50" fill="none" stroke="#6b1e2a" stroke-width="1"/><rect x="2308.60" y="1292.25" width="46.80" height="36.75" fill="#35845f"/><rect x="2308.60" y="1271.80" width="46.80" height="20.45" fill="#dedede"/><rect x="2308.60" y="1259.70" width="46.80" height="12.10" fill="#e22944"/><path d="M2309.05 1329.00 V1292.70 H2354.95 V1329.00" fill="none" stroke="#1a3a2d" stroke-width="1"/><path d="M2309.05 1292.25 V1272.25 H2354.95 V1292.25" fill="none" stroke="#878787" stroke-width="1"/><path d="M2309.05 1271.80 V1260.15 H2354.95 V1271.80" fill="none" stroke="#6b1e2a" stroke-width="1"/></svg>
<div class="t" style="top:1344px;font-size:10.1px;line-height:10.1px;color:#6b6b6b;left:1217.00px;width:800px;text-align:center;"><span class="st">*</span>49</div>
<div class="t" style="top:1344px;font-size:10.1px;line-height:10.1px;color:#6b6b6b;left:1282.00px;width:800px;text-align:center;"><span class="st">*</span>50</div>
<div class="t" style="top:1344px;font-size:10.1px;line-height:10.1px;color:#6b6b6b;left:1347.00px;width:800px;text-align:center;"><span class="st">*</span>51</div>
<div class="t" style="top:1344px;font-size:10.1px;line-height:10.1px;color:#6b6b6b;left:1412.00px;width:800px;text-align:center;"><span class="st">*</span>52</div>
<div class="t" style="top:1344px;font-size:10.1px;line-height:10.1px;color:#6b6b6b;left:1477.00px;width:800px;text-align:center;"><span class="st">*</span>01</div>
<div class="t" style="top:1344px;font-size:10.1px;line-height:10.1px;color:#6b6b6b;left:1542.00px;width:800px;text-align:center;"><span class="st">*</span>02</div>
<div class="t" style="top:1344px;font-size:10.1px;line-height:10.1px;color:#6b6b6b;left:1607.00px;width:800px;text-align:center;"><span class="st">*</span>03</div>
<div class="t" style="top:1344px;font-size:10.1px;line-height:10.1px;color:#6b6b6b;left:1672.00px;width:800px;text-align:center;"><span class="st">*</span>04</div>
<div class="t" style="top:1344px;font-size:10.1px;line-height:10.1px;color:#6b6b6b;left:1737.00px;width:800px;text-align:center;"><span class="st">*</span>05</div>
<div class="t" style="top:1344px;font-size:10.1px;line-height:10.1px;color:#6b6b6b;left:1802.00px;width:800px;text-align:center;"><span class="st">*</span>06</div>
<div class="t" style="top:1344px;font-size:10.1px;line-height:10.1px;color:#6b6b6b;left:1867.00px;width:800px;text-align:center;"><span class="st">*</span>07</div>
<div class="t" style="top:1344px;font-size:10.1px;line-height:10.1px;color:#6b6b6b;left:1932.00px;width:800px;text-align:center;"><span class="st">*</span>08</div>
<svg class="a" style="left:1191.20px;top:1348.40px" width="22" height="22" viewBox="-11 -11 22 22"><circle r="10.2" fill="#2f8159"/><path d="M-4.7 -2.6 L0 2 L4.7 -2.6" fill="none" stroke="#e9fff3" stroke-width="2.5" stroke-linecap="round" stroke-linejoin="round"/></svg>
</div></body></html>
